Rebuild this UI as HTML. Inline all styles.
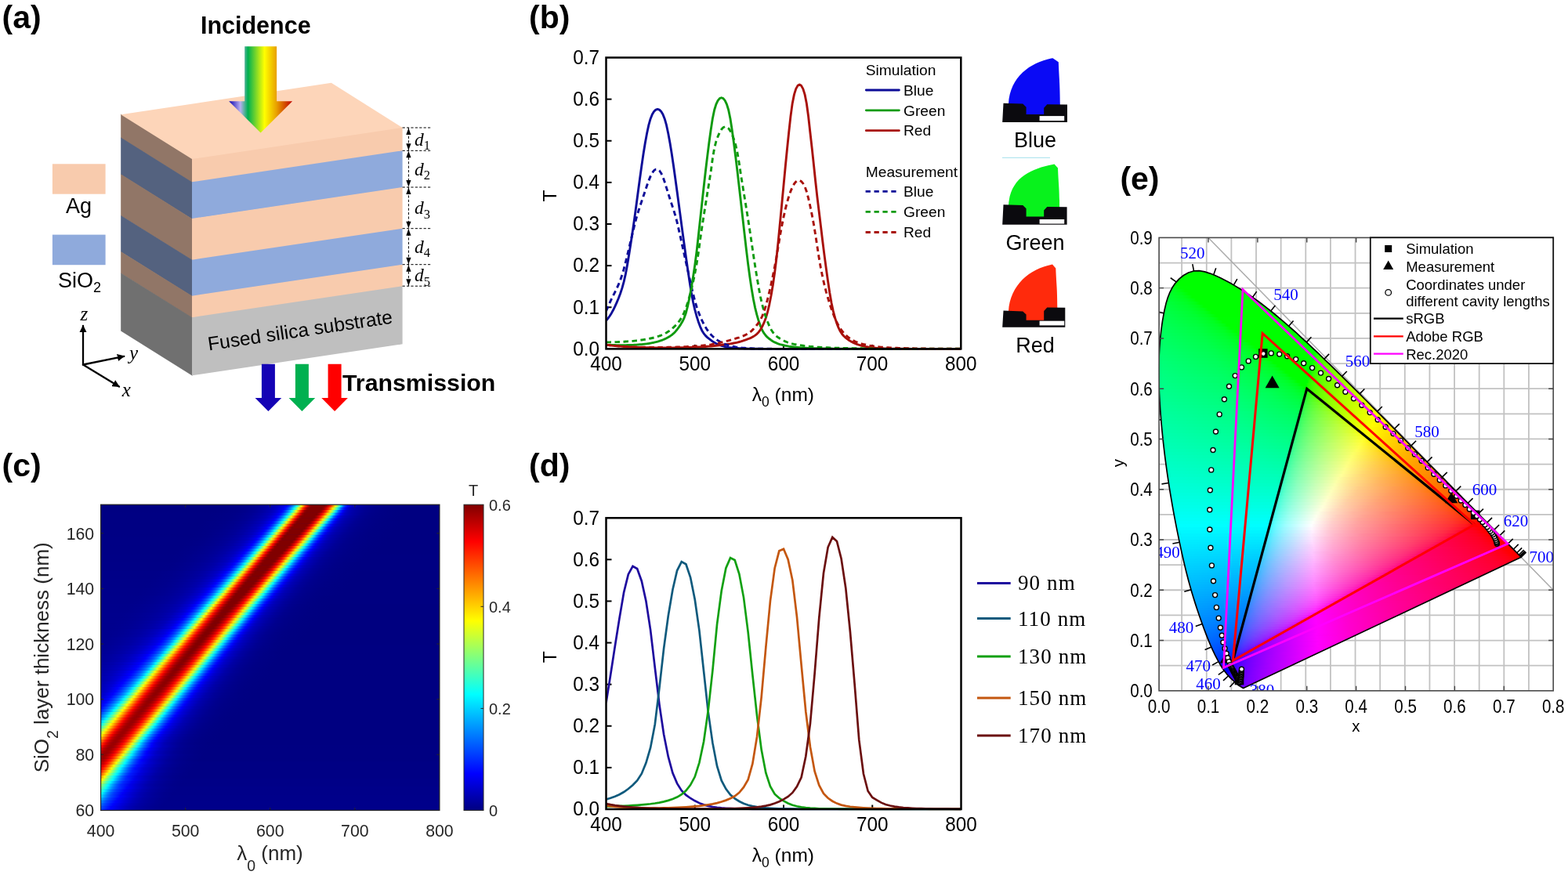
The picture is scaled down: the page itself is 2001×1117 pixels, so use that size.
<!DOCTYPE html>
<html lang="en"><head><meta charset="utf-8"><title>Figure</title>
<style>html,body{margin:0;padding:0;background:#fff;overflow:hidden}svg{display:block}text{white-space:pre}</style></head>
<body><svg width="2001" height="1117" viewBox="0 0 2001 1117">
<rect width="2001" height="1117" fill="#fff"/>
<g id="panel_a">
<polygon points="154.2,145.5 245.6,202.68 245.6,233.38 154.2,176.2" fill="#917667" stroke="none" stroke-width="0"/>
<polygon points="245,202.3 513.6,162.3 513.6,193 245,233" fill="#F8CBAD" stroke="none" stroke-width="0"/>
<polygon points="154.2,175.5 245.6,232.68 245.6,280.08 154.2,222.9" fill="#54627F" stroke="none" stroke-width="0"/>
<polygon points="245,232.3 513.6,192.3 513.6,239.7 245,279.7" fill="#8FAADC" stroke="none" stroke-width="0"/>
<polygon points="154.2,222.2 245.6,279.38 245.6,332.78 154.2,275.6" fill="#917667" stroke="none" stroke-width="0"/>
<polygon points="245,279 513.6,239 513.6,292.4 245,332.4" fill="#F8CBAD" stroke="none" stroke-width="0"/>
<polygon points="154.2,274.9 245.6,332.08 245.6,378.78 154.2,321.6" fill="#54627F" stroke="none" stroke-width="0"/>
<polygon points="245,331.7 513.6,291.7 513.6,338.4 245,378.4" fill="#8FAADC" stroke="none" stroke-width="0"/>
<polygon points="154.2,320.9 245.6,378.08 245.6,406.28 154.2,349.1" fill="#917667" stroke="none" stroke-width="0"/>
<polygon points="245,377.7 513.6,337.7 513.6,365.9 245,405.9" fill="#F8CBAD" stroke="none" stroke-width="0"/>
<polygon points="154.2,348.4 245.6,405.58 245.6,479.68 154.2,422.5" fill="#707070" stroke="none" stroke-width="0"/>
<polygon points="245,405.2 513.6,365.2 513.6,439.3 245,479.3" fill="#BFBFBF" stroke="none" stroke-width="0"/>
<polygon points="154.2,146.2 245,203 513.6,163 422.8,105.8" fill="#FDD5B9" stroke="none" stroke-width="0"/>
<rect x="66.9" y="209.3" width="67.7" height="38.4" fill="#F8CBAD" stroke="none" stroke-width="0"/>
<rect x="66.9" y="299.6" width="67.7" height="38.6" fill="#8FAADC" stroke="none" stroke-width="0"/>
<text x="100.5" y="271.5" font-family='"Liberation Sans", sans-serif' font-size="27" text-anchor="middle" font-weight="normal" font-style="normal" fill="#000">Ag</text>
<text x="74" y="366.5" font-family='"Liberation Sans", sans-serif' font-size="27" fill="#000">SiO<tspan font-size="18" dy="6">2</tspan></text>
<defs><linearGradient id="rb" gradientUnits="userSpaceOnUse" x1="292.2" y1="0" x2="373.1" y2="0"><stop offset="0" stop-color="#0A00B0"/><stop offset="0.18" stop-color="#B8B0F0"/><stop offset="0.30" stop-color="#00B050"/><stop offset="0.56" stop-color="#FFFF00"/><stop offset="0.75" stop-color="#E8A000"/><stop offset="1" stop-color="#C00000"/></linearGradient></defs>
<polygon points="312.2,59.3 353.1,59.3 353.1,129.2 373.1,129.2 332.6,169.4 292.2,129.2 312.2,129.2" fill="url(#rb)" stroke="none" stroke-width="0"/>
<text x="326.3" y="42.8" font-family='"Liberation Sans", sans-serif' font-size="30.5" text-anchor="middle" font-weight="bold" font-style="normal" fill="#000">Incidence</text>
<polygon points="333.9,464.8 350.9,464.8 350.9,508.1 359.2,508.1 342.4,524.9 325.6,508.1 333.9,508.1" fill="#1403B5" stroke="none" stroke-width="0"/>
<polygon points="376.9,464.8 393.9,464.8 393.9,508.1 402.2,508.1 385.4,524.9 368.6,508.1 376.9,508.1" fill="#00B050" stroke="none" stroke-width="0"/>
<polygon points="418.6,464.8 435.6,464.8 435.6,508.1 443.9,508.1 427.1,524.9 410.3,508.1 418.6,508.1" fill="#FF0000" stroke="none" stroke-width="0"/>
<text x="437" y="498.8" font-family='"Liberation Sans", sans-serif' font-size="30.3" text-anchor="start" font-weight="bold" font-style="normal" fill="#000">Transmission</text>
<text transform="translate(266.5,447.5) rotate(-8.47)" font-family='"Liberation Sans", sans-serif' font-size="24.6" fill="#000">Fused silica substrate</text>
<defs><marker id="ah" viewBox="0 0 10 10" refX="9" refY="5" markerWidth="4.1" markerHeight="4.1" orient="auto"><path d="M0 0 L10 5 L0 10 z" fill="#000"/></marker></defs>
<line x1="106" y1="465.5" x2="106" y2="416" stroke="#000" stroke-width="2.3" marker-end="url(#ah)" stroke-linecap="round"/>
<line x1="106" y1="465.5" x2="158.3" y2="454.8" stroke="#000" stroke-width="2.3" marker-end="url(#ah)" stroke-linecap="round"/>
<line x1="106" y1="465.5" x2="152" y2="493.6" stroke="#000" stroke-width="2.3" marker-end="url(#ah)" stroke-linecap="round"/>
<text x="107.3" y="409" font-family='"Liberation Serif", serif' font-size="25" text-anchor="middle" font-weight="normal" font-style="italic" fill="#000">z</text>
<text x="170.5" y="459" font-family='"Liberation Serif", serif' font-size="25" text-anchor="middle" font-weight="normal" font-style="italic" fill="#000">y</text>
<text x="161.2" y="506" font-family='"Liberation Serif", serif' font-size="25" text-anchor="middle" font-weight="normal" font-style="italic" fill="#000">x</text>
<line x1="513.6" y1="163" x2="550.8" y2="163" stroke="#000" stroke-width="1" stroke-dasharray="3.2 2.2"/>
<line x1="513.6" y1="192.3" x2="550.8" y2="192.3" stroke="#000" stroke-width="1" stroke-dasharray="3.2 2.2"/>
<line x1="513.6" y1="239" x2="550.8" y2="239" stroke="#000" stroke-width="1" stroke-dasharray="3.2 2.2"/>
<line x1="513.6" y1="291.7" x2="550.8" y2="291.7" stroke="#000" stroke-width="1" stroke-dasharray="3.2 2.2"/>
<line x1="513.6" y1="337.7" x2="550.8" y2="337.7" stroke="#000" stroke-width="1" stroke-dasharray="3.2 2.2"/>
<line x1="513.6" y1="365.2" x2="550.8" y2="365.2" stroke="#000" stroke-width="1" stroke-dasharray="3.2 2.2"/>
<line x1="521.4" y1="163" x2="521.4" y2="365.2" stroke="#000" stroke-width="1" stroke-dasharray="3.2 2.2"/>
<polygon points="521.4,163.5 518.3,172 524.5,172" fill="#000" stroke="none" stroke-width="0"/>
<polygon points="521.4,191.8 518.3,183.3 524.5,183.3" fill="#000" stroke="none" stroke-width="0"/>
<text x="529" y="185.65" font-family='"Liberation Serif", serif' font-size="23.5" font-style="italic" fill="#000">d<tspan font-size="16.5" dy="5.5" font-style="normal">1</tspan></text>
<polygon points="521.4,192.8 518.3,201.3 524.5,201.3" fill="#000" stroke="none" stroke-width="0"/>
<polygon points="521.4,238.5 518.3,230 524.5,230" fill="#000" stroke="none" stroke-width="0"/>
<text x="529" y="223.65" font-family='"Liberation Serif", serif' font-size="23.5" font-style="italic" fill="#000">d<tspan font-size="16.5" dy="5.5" font-style="normal">2</tspan></text>
<polygon points="521.4,239.5 518.3,248 524.5,248" fill="#000" stroke="none" stroke-width="0"/>
<polygon points="521.4,291.2 518.3,282.7 524.5,282.7" fill="#000" stroke="none" stroke-width="0"/>
<text x="529" y="273.35" font-family='"Liberation Serif", serif' font-size="23.5" font-style="italic" fill="#000">d<tspan font-size="16.5" dy="5.5" font-style="normal">3</tspan></text>
<polygon points="521.4,292.2 518.3,300.7 524.5,300.7" fill="#000" stroke="none" stroke-width="0"/>
<polygon points="521.4,337.2 518.3,328.7 524.5,328.7" fill="#000" stroke="none" stroke-width="0"/>
<text x="529" y="322.7" font-family='"Liberation Serif", serif' font-size="23.5" font-style="italic" fill="#000">d<tspan font-size="16.5" dy="5.5" font-style="normal">4</tspan></text>
<polygon points="521.4,338.2 518.3,346.7 524.5,346.7" fill="#000" stroke="none" stroke-width="0"/>
<polygon points="521.4,364.7 518.3,356.2 524.5,356.2" fill="#000" stroke="none" stroke-width="0"/>
<text x="529" y="359.45" font-family='"Liberation Serif", serif' font-size="23.5" font-style="italic" fill="#000">d<tspan font-size="16.5" dy="5.5" font-style="normal">5</tspan></text>
<text x="2.6" y="35.6" font-family='"Liberation Sans", sans-serif' font-size="41" text-anchor="start" font-weight="bold" font-style="normal" fill="#000">(a)</text>
</g>
<g id="panel_b">
<clipPath id="cb"><rect x="773.5" y="73.5" width="452.8" height="373.4"/></clipPath>
<line x1="773.5" y1="392.27" x2="780.5" y2="392.27" stroke="#000" stroke-width="2"/>
<line x1="773.5" y1="339.14" x2="780.5" y2="339.14" stroke="#000" stroke-width="2"/>
<line x1="773.5" y1="286.01" x2="780.5" y2="286.01" stroke="#000" stroke-width="2"/>
<line x1="773.5" y1="232.89" x2="780.5" y2="232.89" stroke="#000" stroke-width="2"/>
<line x1="773.5" y1="179.76" x2="780.5" y2="179.76" stroke="#000" stroke-width="2"/>
<line x1="773.5" y1="126.63" x2="780.5" y2="126.63" stroke="#000" stroke-width="2"/>
<line x1="886.7" y1="445.4" x2="886.7" y2="439.9" stroke="#000" stroke-width="2"/>
<line x1="999.9" y1="445.4" x2="999.9" y2="439.9" stroke="#000" stroke-width="2"/>
<line x1="1113.1" y1="445.4" x2="1113.1" y2="439.9" stroke="#000" stroke-width="2"/>
<g clip-path="url(#cb)" fill="none" stroke-width="2.9" stroke-linejoin="round">
<path d="M773.5 409.37 L775.76 406.62 L778.03 403.49 L780.29 399.92 L782.56 395.82 L784.82 391.11 L787.08 386.06 L789.35 380.72 L791.61 374.78 L793.88 367.9 L796.14 359.66 L798.4 349.62 L800.67 337.38 L802.93 323.72 L805.2 309.31 L807.46 294.26 L809.72 278.68 L811.99 262.03 L814.25 244.94 L816.52 228.2 L818.78 211.93 L821.04 196.56 L823.31 182.58 L825.57 170.28 L827.84 159.67 L830.1 151.71 L832.36 145.99 L834.63 142.28 L836.89 140.11 L839.16 139.38 L841.42 140.11 L843.68 142.28 L845.95 145.99 L848.21 151.71 L850.48 159.68 L852.74 170.28 L855 182.56 L857.27 196.46 L859.53 211.74 L861.8 227.93 L864.06 244.55 L866.32 261.29 L868.59 278.12 L870.85 295.07 L873.12 311.77 L875.38 327.99 L877.64 343.6 L879.91 358.84 L882.17 373.02 L884.44 385.27 L886.7 395.09 L888.96 403.45 L891.23 410.68 L893.49 416.86 L895.76 421.9 L898.02 425.61 L900.28 428.39 L902.55 430.59 L904.81 432.47 L907.08 434.21 L909.34 435.87 L911.6 437.3 L913.87 438.54 L916.13 439.59 L918.4 440.5 L920.66 441.27 L922.92 441.93 L925.19 442.5 L927.45 442.96 L929.72 443.35 L931.98 443.68 L934.24 443.95 L936.51 444.18 L938.77 444.38 L941.04 444.54 L943.3 444.68 L945.56 444.79 L947.83 444.89 L950.09 444.97 L952.36 445.04 L954.62 445.1 L956.88 445.14 L959.15 445.19 L961.41 445.22 L963.68 445.25 L965.94 445.27 L968.2 445.29 L970.47 445.31 L972.73 445.32 L975 445.33 L977.26 445.35 L979.52 445.35 L981.79 445.36 L984.05 445.37 L986.32 445.37 L988.58 445.38 L990.84 445.38 L993.11 445.38 L995.37 445.39 L997.64 445.39 L999.9 445.39 L1002.16 445.39 L1004.43 445.39 L1006.69 445.39 L1008.96 445.39 L1011.22 445.4 L1013.48 445.4 L1015.75 445.4 L1018.01 445.4 L1020.28 445.4 L1022.54 445.4 L1024.8 445.4 L1027.07 445.4 L1029.33 445.4 L1031.6 445.4 L1033.86 445.4 L1036.12 445.4 L1038.39 445.4 L1040.65 445.4 L1042.92 445.4 L1045.18 445.4 L1047.44 445.4 L1049.71 445.4 L1051.97 445.4 L1054.24 445.4 L1056.5 445.4 L1058.76 445.4 L1061.03 445.4 L1063.29 445.4 L1065.56 445.4 L1067.82 445.4 L1070.08 445.4 L1072.35 445.4 L1074.61 445.4 L1076.88 445.4 L1079.14 445.4 L1081.4 445.4 L1083.67 445.4 L1085.93 445.4 L1088.2 445.4 L1090.46 445.4 L1092.72 445.4 L1094.99 445.4 L1097.25 445.4 L1099.52 445.4 L1101.78 445.4 L1104.04 445.4 L1106.31 445.4 L1108.57 445.4 L1110.84 445.4 L1113.1 445.4 L1115.36 445.4 L1117.63 445.4 L1119.89 445.4 L1122.16 445.4 L1124.42 445.4 L1126.68 445.4 L1128.95 445.4 L1131.21 445.4 L1133.48 445.4 L1135.74 445.4 L1138 445.4 L1140.27 445.4 L1142.53 445.4 L1144.8 445.4 L1147.06 445.4 L1149.32 445.4 L1151.59 445.4 L1153.85 445.4 L1156.12 445.4 L1158.38 445.4 L1160.64 445.4 L1162.91 445.4 L1165.17 445.4 L1167.44 445.4 L1169.7 445.4 L1171.96 445.4 L1174.23 445.4 L1176.49 445.4 L1178.76 445.4 L1181.02 445.4 L1183.28 445.4 L1185.55 445.4 L1187.81 445.4 L1190.08 445.4 L1192.34 445.4 L1194.6 445.4 L1196.87 445.4 L1199.13 445.4 L1201.4 445.4 L1203.66 445.4 L1205.92 445.4 L1208.19 445.4 L1210.45 445.4 L1212.72 445.4 L1214.98 445.4 L1217.24 445.4 L1219.51 445.4 L1221.77 445.4 L1224.04 445.4 L1226.3 445.4" stroke="#0C0C98"/>
<path d="M773.5 440.3 L775.76 440.37 L778.03 440.43 L780.29 440.49 L782.56 440.53 L784.82 440.57 L787.08 440.6 L789.35 440.62 L791.61 440.63 L793.88 440.63 L796.14 440.61 L798.4 440.59 L800.67 440.55 L802.93 440.5 L805.2 440.43 L807.46 440.35 L809.72 440.25 L811.99 440.13 L814.25 439.98 L816.52 439.81 L818.78 439.62 L821.04 439.39 L823.31 439.13 L825.57 438.83 L827.84 438.5 L830.1 438.12 L832.36 437.69 L834.63 437.21 L836.89 436.67 L839.16 436.06 L841.42 435.38 L843.68 434.61 L845.95 433.77 L848.21 432.83 L850.48 431.77 L852.74 430.57 L855 429.18 L857.27 427.56 L859.53 425.67 L861.8 423.43 L864.06 420.76 L866.32 417.63 L868.59 414.31 L870.85 410.53 L873.12 405.78 L875.38 399.41 L877.64 390.61 L879.91 379.84 L882.17 367.66 L884.44 354.06 L886.7 339.08 L888.96 321.77 L891.23 301.45 L893.49 280.65 L895.76 260.06 L898.02 239.53 L900.28 219.51 L902.55 200.55 L904.81 182.79 L907.08 166.29 L909.34 151.5 L911.6 140.51 L913.87 133.1 L916.13 128.34 L918.4 125.67 L920.66 124.77 L922.92 125.67 L925.19 128.34 L927.45 133.1 L929.72 140.51 L931.98 151.52 L934.24 166.31 L936.51 182.71 L938.77 200.33 L941.04 219.08 L943.3 238.71 L945.56 258.61 L947.83 278.54 L950.09 298.59 L952.36 318.37 L954.62 336.81 L956.88 353.6 L959.15 368.83 L961.41 382.08 L963.68 393.09 L965.94 402.2 L968.2 409.83 L970.47 416.22 L972.73 421.48 L975 425.41 L977.26 428.36 L979.52 430.65 L981.79 432.54 L984.05 434.19 L986.32 435.67 L988.58 436.91 L990.84 437.94 L993.11 438.8 L995.37 439.53 L997.64 440.14 L999.9 440.73 L1002.16 441.25 L1004.43 441.7 L1006.69 442.1 L1008.96 442.45 L1011.22 442.76 L1013.48 443.03 L1015.75 443.27 L1018.01 443.48 L1020.28 443.67 L1022.54 443.84 L1024.8 443.99 L1027.07 444.12 L1029.33 444.24 L1031.6 444.35 L1033.86 444.44 L1036.12 444.52 L1038.39 444.6 L1040.65 444.67 L1042.92 444.73 L1045.18 444.79 L1047.44 444.84 L1049.71 444.88 L1051.97 444.92 L1054.24 444.96 L1056.5 445 L1058.76 445.03 L1061.03 445.05 L1063.29 445.08 L1065.56 445.1 L1067.82 445.12 L1070.08 445.14 L1072.35 445.16 L1074.61 445.18 L1076.88 445.19 L1079.14 445.21 L1081.4 445.22 L1083.67 445.23 L1085.93 445.24 L1088.2 445.25 L1090.46 445.26 L1092.72 445.27 L1094.99 445.28 L1097.25 445.29 L1099.52 445.29 L1101.78 445.3 L1104.04 445.3 L1106.31 445.31 L1108.57 445.31 L1110.84 445.32 L1113.1 445.32 L1115.36 445.33 L1117.63 445.33 L1119.89 445.34 L1122.16 445.34 L1124.42 445.34 L1126.68 445.34 L1128.95 445.35 L1131.21 445.35 L1133.48 445.35 L1135.74 445.35 L1138 445.36 L1140.27 445.36 L1142.53 445.36 L1144.8 445.36 L1147.06 445.36 L1149.32 445.37 L1151.59 445.37 L1153.85 445.37 L1156.12 445.37 L1158.38 445.37 L1160.64 445.37 L1162.91 445.37 L1165.17 445.37 L1167.44 445.38 L1169.7 445.38 L1171.96 445.38 L1174.23 445.38 L1176.49 445.38 L1178.76 445.38 L1181.02 445.38 L1183.28 445.38 L1185.55 445.38 L1187.81 445.38 L1190.08 445.38 L1192.34 445.38 L1194.6 445.38 L1196.87 445.39 L1199.13 445.39 L1201.4 445.39 L1203.66 445.39 L1205.92 445.39 L1208.19 445.39 L1210.45 445.39 L1212.72 445.39 L1214.98 445.39 L1217.24 445.39 L1219.51 445.39 L1221.77 445.39 L1224.04 445.39 L1226.3 445.39" stroke="#0E9A0E"/>
<path d="M773.5 440.26 L775.76 440.56 L778.03 440.84 L780.29 441.1 L782.56 441.35 L784.82 441.57 L787.08 441.78 L789.35 441.98 L791.61 442.16 L793.88 442.33 L796.14 442.49 L798.4 442.63 L800.67 442.77 L802.93 442.89 L805.2 443.01 L807.46 443.12 L809.72 443.21 L811.99 443.3 L814.25 443.39 L816.52 443.46 L818.78 443.53 L821.04 443.59 L823.31 443.65 L825.57 443.7 L827.84 443.74 L830.1 443.78 L832.36 443.81 L834.63 443.84 L836.89 443.87 L839.16 443.89 L841.42 443.9 L843.68 443.91 L845.95 443.92 L848.21 443.92 L850.48 443.91 L852.74 443.91 L855 443.89 L857.27 443.88 L859.53 443.86 L861.8 443.83 L864.06 443.8 L866.32 443.77 L868.59 443.73 L870.85 443.68 L873.12 443.63 L875.38 443.58 L877.64 443.52 L879.91 443.45 L882.17 443.38 L884.44 443.3 L886.7 443.21 L888.96 443.11 L891.23 443 L893.49 442.89 L895.76 442.76 L898.02 442.63 L900.28 442.48 L902.55 442.32 L904.81 442.15 L907.08 441.95 L909.34 441.75 L911.6 441.52 L913.87 441.27 L916.13 441 L918.4 440.71 L920.66 440.38 L922.92 440.03 L925.19 439.77 L927.45 439.48 L929.72 439.17 L931.98 438.83 L934.24 438.45 L936.51 438.03 L938.77 437.56 L941.04 437.05 L943.3 436.48 L945.56 435.84 L947.83 435.13 L950.09 434.35 L952.36 433.56 L954.62 432.73 L956.88 431.84 L959.15 430.83 L961.41 429.63 L963.68 428.15 L965.94 426.29 L968.2 423.9 L970.47 420.78 L972.73 416.77 L975 411.93 L977.26 405.96 L979.52 398.41 L981.79 388.8 L984.05 377.33 L986.32 363.94 L988.58 348.34 L990.84 330.21 L993.11 308.53 L995.37 285.11 L997.64 261.54 L999.9 237.6 L1002.16 213.76 L1004.43 190.74 L1006.69 169.02 L1008.96 148.35 L1011.22 131.92 L1013.48 120.62 L1015.75 113.35 L1018.01 109.36 L1020.28 108.03 L1022.54 109.37 L1024.8 113.35 L1027.07 120.62 L1029.33 131.93 L1031.6 148.51 L1033.86 168.77 L1036.12 188.63 L1038.39 209.64 L1040.65 231.24 L1042.92 251.65 L1045.18 270 L1047.44 288.55 L1049.71 307.48 L1051.97 325.44 L1054.24 342.36 L1056.5 358.55 L1058.76 373.54 L1061.03 386.56 L1063.29 397.15 L1065.56 405.7 L1067.82 412.67 L1070.08 418.43 L1072.35 423.03 L1074.61 426.43 L1076.88 429.02 L1079.14 431.09 L1081.4 432.84 L1083.67 434.44 L1085.93 435.88 L1088.2 437.08 L1090.46 438.12 L1092.72 439.03 L1094.99 439.86 L1097.25 440.61 L1099.52 441.27 L1101.78 441.85 L1104.04 442.35 L1106.31 442.79 L1108.57 443.18 L1110.84 443.51 L1113.1 443.81 L1115.36 444.03 L1117.63 444.23 L1119.89 444.39 L1122.16 444.53 L1124.42 444.65 L1126.68 444.75 L1128.95 444.84 L1131.21 444.92 L1133.48 444.98 L1135.74 445.04 L1138 445.09 L1140.27 445.13 L1142.53 445.16 L1144.8 445.19 L1147.06 445.22 L1149.32 445.24 L1151.59 445.26 L1153.85 445.28 L1156.12 445.3 L1158.38 445.31 L1160.64 445.32 L1162.91 445.33 L1165.17 445.34 L1167.44 445.35 L1169.7 445.35 L1171.96 445.36 L1174.23 445.36 L1176.49 445.37 L1178.76 445.37 L1181.02 445.37 L1183.28 445.38 L1185.55 445.38 L1187.81 445.38 L1190.08 445.38 L1192.34 445.39 L1194.6 445.39 L1196.87 445.39 L1199.13 445.39 L1201.4 445.39 L1203.66 445.39 L1205.92 445.39 L1208.19 445.39 L1210.45 445.39 L1212.72 445.39 L1214.98 445.4 L1217.24 445.4 L1219.51 445.4 L1221.77 445.4 L1224.04 445.4 L1226.3 445.4" stroke="#A8100A"/>
<path d="M773.5 397.16 L775.76 391.87 L778.03 386.63 L780.29 381.81 L782.56 377.26 L784.82 372.78 L787.08 368.17 L789.35 363.19 L791.61 357.58 L793.88 351.08 L796.14 343.45 L798.4 334.64 L800.67 325.39 L802.93 315.94 L805.2 306.39 L807.46 296.85 L809.72 287.42 L811.99 278.64 L814.25 270.96 L816.52 263.93 L818.78 257.18 L821.04 250.49 L823.31 243.74 L825.57 237.01 L827.84 230.6 L830.1 225.09 L832.36 220.67 L834.63 217.62 L836.89 216.08 L839.16 216.09 L841.42 217.73 L843.68 220.98 L845.95 225.88 L848.21 232.35 L850.48 239.62 L852.74 246.95 L855 254.03 L857.27 260.86 L859.53 267.74 L861.8 275.12 L864.06 283.65 L866.32 293.56 L868.59 303.76 L870.85 314.09 L873.12 324.42 L875.38 334.65 L877.64 344.75 L879.91 355.03 L882.17 365.21 L884.44 374.9 L886.7 383.75 L888.96 391.44 L891.23 398 L893.49 403.8 L895.76 408.93 L898.02 413.49 L900.28 417.55 L902.55 421.15 L904.81 424.25 L907.08 426.91 L909.34 429.22 L911.6 431.24 L913.87 433.03 L916.13 434.63 L918.4 436.06 L920.66 437.31 L922.92 438.4 L925.19 439.35 L927.45 440.18 L929.72 440.9 L931.98 441.52 L934.24 442.07 L936.51 442.53 L938.77 442.94 L941.04 443.29 L943.3 443.59 L945.56 443.85 L947.83 444.07 L950.09 444.27 L952.36 444.43 L954.62 444.57 L956.88 444.69 L959.15 444.8 L961.41 444.89 L963.68 444.96 L965.94 445.03 L968.2 445.08 L970.47 445.13 L972.73 445.17 L975 445.2 L977.26 445.23 L979.52 445.26 L981.79 445.28 L984.05 445.3 L986.32 445.31 L988.58 445.33 L990.84 445.34 L993.11 445.35 L995.37 445.35 L997.64 445.36 L999.9 445.37 L1002.16 445.37 L1004.43 445.38 L1006.69 445.38 L1008.96 445.38 L1011.22 445.39 L1013.48 445.39 L1015.75 445.39 L1018.01 445.39 L1020.28 445.39 L1022.54 445.39 L1024.8 445.39 L1027.07 445.4 L1029.33 445.4 L1031.6 445.4 L1033.86 445.4 L1036.12 445.4 L1038.39 445.4 L1040.65 445.4 L1042.92 445.4 L1045.18 445.4 L1047.44 445.4 L1049.71 445.4 L1051.97 445.4 L1054.24 445.4 L1056.5 445.4 L1058.76 445.4 L1061.03 445.4 L1063.29 445.4 L1065.56 445.4 L1067.82 445.4 L1070.08 445.4 L1072.35 445.4 L1074.61 445.4 L1076.88 445.4 L1079.14 445.4 L1081.4 445.4 L1083.67 445.4 L1085.93 445.4 L1088.2 445.4 L1090.46 445.4 L1092.72 445.4 L1094.99 445.4 L1097.25 445.4 L1099.52 445.4 L1101.78 445.4 L1104.04 445.4 L1106.31 445.4 L1108.57 445.4 L1110.84 445.4 L1113.1 445.4 L1115.36 445.4 L1117.63 445.4 L1119.89 445.4 L1122.16 445.4 L1124.42 445.4 L1126.68 445.4 L1128.95 445.4 L1131.21 445.4 L1133.48 445.4 L1135.74 445.4 L1138 445.4 L1140.27 445.4 L1142.53 445.4 L1144.8 445.4 L1147.06 445.4 L1149.32 445.4 L1151.59 445.4 L1153.85 445.4 L1156.12 445.4 L1158.38 445.4 L1160.64 445.4 L1162.91 445.4 L1165.17 445.4 L1167.44 445.4 L1169.7 445.4 L1171.96 445.4 L1174.23 445.4 L1176.49 445.4 L1178.76 445.4 L1181.02 445.4 L1183.28 445.4 L1185.55 445.4 L1187.81 445.4 L1190.08 445.4 L1192.34 445.4 L1194.6 445.4 L1196.87 445.4 L1199.13 445.4 L1201.4 445.4 L1203.66 445.4 L1205.92 445.4 L1208.19 445.4 L1210.45 445.4 L1212.72 445.4 L1214.98 445.4 L1217.24 445.4 L1219.51 445.4 L1221.77 445.4 L1224.04 445.4 L1226.3 445.4" stroke="#0C0C98" stroke-dasharray="6.5 4.5"/>
<path d="M773.5 436.9 L775.76 436.87 L778.03 436.83 L780.29 436.78 L782.56 436.73 L784.82 436.66 L787.08 436.59 L789.35 436.51 L791.61 436.41 L793.88 436.3 L796.14 436.18 L798.4 436.05 L800.67 435.9 L802.93 435.73 L805.2 435.55 L807.46 435.34 L809.72 435.11 L811.99 434.86 L814.25 434.58 L816.52 434.29 L818.78 433.97 L821.04 433.64 L823.31 433.29 L825.57 432.9 L827.84 432.48 L830.1 432.02 L832.36 431.52 L834.63 430.97 L836.89 430.35 L839.16 429.66 L841.42 428.9 L843.68 428.04 L845.95 427.07 L848.21 425.98 L850.48 424.75 L852.74 423.35 L855 421.76 L857.27 419.95 L859.53 417.9 L861.8 415.7 L864.06 413.29 L866.32 410.55 L868.59 407.34 L870.85 403.49 L873.12 398.78 L875.38 392.98 L877.64 386.13 L879.91 378.49 L882.17 369.93 L884.44 360.3 L886.7 349.47 L888.96 337.36 L891.23 322.91 L893.49 306.4 L895.76 290.52 L898.02 276.03 L900.28 261.67 L902.55 247.52 L904.81 233.72 L907.08 219.45 L909.34 202.77 L911.6 189.28 L913.87 180.51 L916.13 174.17 L918.4 169.06 L920.66 165.25 L922.92 162.79 L925.19 161.74 L927.45 162.1 L929.72 163.9 L931.98 167.11 L934.24 171.69 L936.51 177.56 L938.77 184.93 L941.04 195.19 L943.3 208.6 L945.56 223.76 L947.83 237.67 L950.09 251.45 L952.36 265.5 L954.62 279.76 L956.88 294.35 L959.15 309.69 L961.41 325.17 L963.68 339.9 L965.94 353.92 L968.2 367.14 L970.47 379.02 L972.73 389.12 L975 397.42 L977.26 404.58 L979.52 410.77 L981.79 416.11 L984.05 420.67 L986.32 424.22 L988.58 426.96 L990.84 429.1 L993.11 430.83 L995.37 432.29 L997.64 433.58 L999.9 434.78 L1002.16 435.86 L1004.43 436.78 L1006.69 437.57 L1008.96 438.25 L1011.22 438.83 L1013.48 439.33 L1015.75 439.77 L1018.01 440.15 L1020.28 440.56 L1022.54 440.93 L1024.8 441.27 L1027.07 441.57 L1029.33 441.85 L1031.6 442.11 L1033.86 442.34 L1036.12 442.55 L1038.39 442.74 L1040.65 442.92 L1042.92 443.08 L1045.18 443.23 L1047.44 443.37 L1049.71 443.49 L1051.97 443.61 L1054.24 443.72 L1056.5 443.82 L1058.76 443.91 L1061.03 444 L1063.29 444.08 L1065.56 444.15 L1067.82 444.22 L1070.08 444.28 L1072.35 444.34 L1074.61 444.39 L1076.88 444.45 L1079.14 444.49 L1081.4 444.54 L1083.67 444.58 L1085.93 444.62 L1088.2 444.66 L1090.46 444.69 L1092.72 444.72 L1094.99 444.75 L1097.25 444.78 L1099.52 444.81 L1101.78 444.84 L1104.04 444.86 L1106.31 444.88 L1108.57 444.9 L1110.84 444.92 L1113.1 444.94 L1115.36 444.96 L1117.63 444.98 L1119.89 444.99 L1122.16 445.01 L1124.42 445.02 L1126.68 445.04 L1128.95 445.05 L1131.21 445.06 L1133.48 445.08 L1135.74 445.09 L1138 445.1 L1140.27 445.11 L1142.53 445.12 L1144.8 445.13 L1147.06 445.14 L1149.32 445.14 L1151.59 445.15 L1153.85 445.16 L1156.12 445.17 L1158.38 445.17 L1160.64 445.18 L1162.91 445.19 L1165.17 445.19 L1167.44 445.2 L1169.7 445.21 L1171.96 445.21 L1174.23 445.22 L1176.49 445.22 L1178.76 445.23 L1181.02 445.23 L1183.28 445.24 L1185.55 445.24 L1187.81 445.24 L1190.08 445.25 L1192.34 445.25 L1194.6 445.26 L1196.87 445.26 L1199.13 445.26 L1201.4 445.27 L1203.66 445.27 L1205.92 445.27 L1208.19 445.28 L1210.45 445.28 L1212.72 445.28 L1214.98 445.28 L1217.24 445.29 L1219.51 445.29 L1221.77 445.29 L1224.04 445.29 L1226.3 445.3" stroke="#0E9A0E" stroke-dasharray="6.5 4.5"/>
<path d="M773.5 440.12 L775.76 440.42 L778.03 440.69 L780.29 440.95 L782.56 441.18 L784.82 441.4 L787.08 441.61 L789.35 441.8 L791.61 441.97 L793.88 442.14 L796.14 442.28 L798.4 442.42 L800.67 442.55 L802.93 442.67 L805.2 442.77 L807.46 442.87 L809.72 442.96 L811.99 443.04 L814.25 443.11 L816.52 443.17 L818.78 443.23 L821.04 443.28 L823.31 443.32 L825.57 443.35 L827.84 443.38 L830.1 443.41 L832.36 443.42 L834.63 443.43 L836.89 443.44 L839.16 443.44 L841.42 443.43 L843.68 443.42 L845.95 443.4 L848.21 443.38 L850.48 443.35 L852.74 443.32 L855 443.28 L857.27 443.23 L859.53 443.18 L861.8 443.12 L864.06 443.05 L866.32 442.98 L868.59 442.9 L870.85 442.81 L873.12 442.71 L875.38 442.61 L877.64 442.5 L879.91 442.37 L882.17 442.24 L884.44 442.1 L886.7 441.94 L888.96 441.77 L891.23 441.59 L893.49 441.39 L895.76 441.18 L898.02 440.95 L900.28 440.7 L902.55 440.43 L904.81 440.14 L907.08 439.81 L909.34 439.43 L911.6 439.03 L913.87 438.6 L916.13 438.15 L918.4 437.67 L920.66 437.16 L922.92 436.62 L925.19 436.05 L927.45 435.44 L929.72 434.79 L931.98 434.13 L934.24 433.48 L936.51 432.82 L938.77 432.16 L941.04 431.48 L943.3 430.76 L945.56 429.97 L947.83 429.11 L950.09 428.14 L952.36 427.02 L954.62 425.71 L956.88 424.17 L959.15 422.34 L961.41 420.13 L963.68 417.53 L965.94 414.77 L968.2 411.72 L970.47 408.1 L972.73 403.63 L975 397.92 L977.26 390.59 L979.52 382.1 L981.79 372.79 L984.05 362.72 L986.32 351.99 L988.58 340.71 L990.84 328.48 L993.11 314.85 L995.37 301.23 L997.64 288.71 L999.9 277.55 L1002.16 267.36 L1004.43 258.36 L1006.69 250.65 L1008.96 244.18 L1011.22 238.86 L1013.48 234.77 L1015.75 231.96 L1018.01 230.47 L1020.28 230.33 L1022.54 231.56 L1024.8 234.11 L1027.07 238.22 L1029.33 244.47 L1031.6 253.04 L1033.86 262.97 L1036.12 273.88 L1038.39 285.98 L1040.65 299.7 L1042.92 314.64 L1045.18 329.37 L1047.44 342.19 L1049.71 353.42 L1051.97 363.4 L1054.24 372.28 L1056.5 380.28 L1058.76 387.62 L1061.03 394.49 L1063.29 400.75 L1065.56 406.34 L1067.82 411.28 L1070.08 415.59 L1072.35 419.33 L1074.61 422.52 L1076.88 425.25 L1079.14 427.6 L1081.4 429.62 L1083.67 431.38 L1085.93 432.91 L1088.2 434.27 L1090.46 435.46 L1092.72 436.5 L1094.99 437.4 L1097.25 438.19 L1099.52 438.88 L1101.78 439.49 L1104.04 440.02 L1106.31 440.52 L1108.57 440.97 L1110.84 441.37 L1113.1 441.74 L1115.36 442.06 L1117.63 442.36 L1119.89 442.62 L1122.16 442.86 L1124.42 443.07 L1126.68 443.26 L1128.95 443.44 L1131.21 443.6 L1133.48 443.74 L1135.74 443.87 L1138 443.99 L1140.27 444.1 L1142.53 444.2 L1144.8 444.29 L1147.06 444.37 L1149.32 444.44 L1151.59 444.51 L1153.85 444.57 L1156.12 444.63 L1158.38 444.68 L1160.64 444.73 L1162.91 444.78 L1165.17 444.82 L1167.44 444.86 L1169.7 444.89 L1171.96 444.92 L1174.23 444.95 L1176.49 444.98 L1178.76 445.01 L1181.02 445.03 L1183.28 445.05 L1185.55 445.07 L1187.81 445.09 L1190.08 445.11 L1192.34 445.13 L1194.6 445.14 L1196.87 445.15 L1199.13 445.17 L1201.4 445.18 L1203.66 445.19 L1205.92 445.2 L1208.19 445.21 L1210.45 445.22 L1212.72 445.23 L1214.98 445.24 L1217.24 445.25 L1219.51 445.25 L1221.77 445.26 L1224.04 445.27 L1226.3 445.27" stroke="#A8100A" stroke-dasharray="6.5 4.5"/>
</g>
<rect x="773.5" y="73.5" width="452.8" height="371.9" fill="none" stroke="#000" stroke-width="2.5"/>
<text transform="translate(765,453.7) scale(1,1.04)" font-family='"Liberation Sans", sans-serif' font-size="24.3" text-anchor="end" font-weight="normal" font-style="normal" fill="#000">0.0</text>
<text transform="translate(765,400.57) scale(1,1.04)" font-family='"Liberation Sans", sans-serif' font-size="24.3" text-anchor="end" font-weight="normal" font-style="normal" fill="#000">0.1</text>
<text transform="translate(765,347.44) scale(1,1.04)" font-family='"Liberation Sans", sans-serif' font-size="24.3" text-anchor="end" font-weight="normal" font-style="normal" fill="#000">0.2</text>
<text transform="translate(765,294.31) scale(1,1.04)" font-family='"Liberation Sans", sans-serif' font-size="24.3" text-anchor="end" font-weight="normal" font-style="normal" fill="#000">0.3</text>
<text transform="translate(765,241.19) scale(1,1.04)" font-family='"Liberation Sans", sans-serif' font-size="24.3" text-anchor="end" font-weight="normal" font-style="normal" fill="#000">0.4</text>
<text transform="translate(765,188.06) scale(1,1.04)" font-family='"Liberation Sans", sans-serif' font-size="24.3" text-anchor="end" font-weight="normal" font-style="normal" fill="#000">0.5</text>
<text transform="translate(765,134.93) scale(1,1.04)" font-family='"Liberation Sans", sans-serif' font-size="24.3" text-anchor="end" font-weight="normal" font-style="normal" fill="#000">0.6</text>
<text transform="translate(765,81.8) scale(1,1.04)" font-family='"Liberation Sans", sans-serif' font-size="24.3" text-anchor="end" font-weight="normal" font-style="normal" fill="#000">0.7</text>
<text transform="translate(773.5,473.3) scale(1,1.04)" font-family='"Liberation Sans", sans-serif' font-size="24.3" text-anchor="middle" font-weight="normal" font-style="normal" fill="#000">400</text>
<text transform="translate(886.7,473.3) scale(1,1.04)" font-family='"Liberation Sans", sans-serif' font-size="24.3" text-anchor="middle" font-weight="normal" font-style="normal" fill="#000">500</text>
<text transform="translate(999.9,473.3) scale(1,1.04)" font-family='"Liberation Sans", sans-serif' font-size="24.3" text-anchor="middle" font-weight="normal" font-style="normal" fill="#000">600</text>
<text transform="translate(1113.1,473.3) scale(1,1.04)" font-family='"Liberation Sans", sans-serif' font-size="24.3" text-anchor="middle" font-weight="normal" font-style="normal" fill="#000">700</text>
<text transform="translate(1226.3,473.3) scale(1,1.04)" font-family='"Liberation Sans", sans-serif' font-size="24.3" text-anchor="middle" font-weight="normal" font-style="normal" fill="#000">800</text>
<text transform="translate(710.1,250.1) rotate(-90)" font-family='"Liberation Sans", sans-serif' font-size="24.5" text-anchor="middle">T</text>
<text x="999.4" y="511.5" font-family='"Liberation Sans", sans-serif' font-size="24.5" text-anchor="middle">λ<tspan font-size="17.5" dy="7">0</tspan><tspan dy="-7"> (nm)</tspan></text>
<text x="1104.8" y="96" font-family='"Liberation Sans", sans-serif' font-size="19.2" text-anchor="start" font-weight="normal" font-style="normal" fill="#000">Simulation</text>
<text x="1104.8" y="225.6" font-family='"Liberation Sans", sans-serif' font-size="19.2" text-anchor="start" font-weight="normal" font-style="normal" fill="#000">Measurement</text>
<line x1="1105.3" y1="115" x2="1147.4" y2="115" stroke="#0C0C98" stroke-width="2.8" stroke-linecap="round"/>
<text x="1153" y="121.7" font-family='"Liberation Sans", sans-serif' font-size="19.2" text-anchor="start" font-weight="normal" font-style="normal" fill="#000">Blue</text>
<line x1="1104.6" y1="244.4" x2="1146" y2="244.4" stroke="#0C0C98" stroke-width="2.8" stroke-dasharray="6.3 4.6"/>
<text x="1153" y="251.1" font-family='"Liberation Sans", sans-serif' font-size="19.2" text-anchor="start" font-weight="normal" font-style="normal" fill="#000">Blue</text>
<line x1="1105.3" y1="140.85" x2="1147.4" y2="140.85" stroke="#0E9A0E" stroke-width="2.8" stroke-linecap="round"/>
<text x="1153" y="147.55" font-family='"Liberation Sans", sans-serif' font-size="19.2" text-anchor="start" font-weight="normal" font-style="normal" fill="#000">Green</text>
<line x1="1104.6" y1="270.45" x2="1146" y2="270.45" stroke="#0E9A0E" stroke-width="2.8" stroke-dasharray="6.3 4.6"/>
<text x="1153" y="277.15" font-family='"Liberation Sans", sans-serif' font-size="19.2" text-anchor="start" font-weight="normal" font-style="normal" fill="#000">Green</text>
<line x1="1105.3" y1="166.7" x2="1147.4" y2="166.7" stroke="#A8100A" stroke-width="2.8" stroke-linecap="round"/>
<text x="1153" y="173.4" font-family='"Liberation Sans", sans-serif' font-size="19.2" text-anchor="start" font-weight="normal" font-style="normal" fill="#000">Red</text>
<line x1="1104.6" y1="296.5" x2="1146" y2="296.5" stroke="#A8100A" stroke-width="2.8" stroke-dasharray="6.3 4.6"/>
<text x="1153" y="303.2" font-family='"Liberation Sans", sans-serif' font-size="19.2" text-anchor="start" font-weight="normal" font-style="normal" fill="#000">Red</text>
<path d="M1287 132.7 C1289 97.7 1315 80.2 1341.5 74.6 L1343.5 74.2 L1350.8 79.2 C1351.8 104.2 1352.6 103.3 1352.9 135.3 L1336 135.3 L1336 147 L1309 147 Z" fill="#0A0AF5"/><path d="M1280.5 131.7 L1305.3 132.5 L1309.6 136.7 L1309.6 146 L1332.2 146 L1332.2 137.8 L1336.3 133.3 L1362 133.6 L1362 155.9 L1279.2 155.9 Z" fill="#0b0a0e"/><rect x="1326.6" y="148.1" width="31.6" height="6" fill="#fff" stroke="none" stroke-width="0"/>
<path d="M1287 262.2 C1289 227.2 1315 215.5 1343.5 209.9 L1345.5 209.5 L1350 214.5 C1351 239.5 1351.8 233.9 1352.1 265.9 L1336 265.9 L1336 277.6 L1309 277.6 Z" fill="#08F21C"/><path d="M1280.5 261.2 L1305.3 262 L1309.6 266.2 L1309.6 276.6 L1332.2 276.6 L1332.2 268.4 L1336.3 263.9 L1361.6 264.2 L1361.6 286.7 L1279.2 286.7 Z" fill="#0b0a0e"/><rect x="1326.6" y="280" width="31.6" height="5.6" fill="#fff" stroke="none" stroke-width="0"/>
<path d="M1287 397.6 C1289 362.6 1315 343.5 1341 337.9 L1343 337.5 L1347.3 342.5 C1348.3 367.5 1349.1 362.5 1349.4 394.5 L1336 394.5 L1336 409.7 L1309 409.7 Z" fill="#FF2A0C"/><path d="M1280.5 396.6 L1305.3 397.4 L1309.6 401.6 L1309.6 408.7 L1332.2 408.7 L1332.2 397 L1336.3 392.5 L1359.3 392.8 L1359.3 417.8 L1279.2 417.8 Z" fill="#0b0a0e"/><rect x="1326.6" y="409.7" width="31.6" height="5.7" fill="#fff" stroke="none" stroke-width="0"/>
<line x1="1279" y1="201.4" x2="1340" y2="201.4" stroke="#B5E6F0" stroke-width="1.2"/>
<text x="1321" y="188" font-family='"Liberation Sans", sans-serif' font-size="27" text-anchor="middle" font-weight="normal" font-style="normal" fill="#000">Blue</text>
<text x="1321" y="319" font-family='"Liberation Sans", sans-serif' font-size="27" text-anchor="middle" font-weight="normal" font-style="normal" fill="#000">Green</text>
<text x="1321" y="450.3" font-family='"Liberation Sans", sans-serif' font-size="27" text-anchor="middle" font-weight="normal" font-style="normal" fill="#000">Red</text>
<text x="675.1" y="35.6" font-family='"Liberation Sans", sans-serif' font-size="41" text-anchor="start" font-weight="bold" font-style="normal" fill="#000">(b)</text>
</g>
<g id="panel_c">
<clipPath id="cc"><rect x="128.6" y="644.2" width="432.3" height="390.3"/></clipPath>
<rect x="128.6" y="644.2" width="432.3" height="390.3" fill="#000080" stroke="none" stroke-width="0"/>
<defs>
<linearGradient id="h0" gradientUnits="userSpaceOnUse" x1="-56.21" y1="0" x2="203.17" y2="0"><stop offset="0" stop-color="#000080"/><stop offset="0.0417" stop-color="#000080"/><stop offset="0.0833" stop-color="#000081"/><stop offset="0.125" stop-color="#000084"/><stop offset="0.1667" stop-color="#00008B"/><stop offset="0.2083" stop-color="#00009D"/><stop offset="0.25" stop-color="#0000C3"/><stop offset="0.2917" stop-color="#0010FF"/><stop offset="0.3021" stop-color="#002BFF"/><stop offset="0.3125" stop-color="#0049FF"/><stop offset="0.3229" stop-color="#006CFF"/><stop offset="0.3333" stop-color="#0093FF"/><stop offset="0.3438" stop-color="#00BEFF"/><stop offset="0.3542" stop-color="#00ECFF"/><stop offset="0.3646" stop-color="#20FFDF"/><stop offset="0.375" stop-color="#56FFA9"/><stop offset="0.3854" stop-color="#8FFF70"/><stop offset="0.3958" stop-color="#CAFF35"/><stop offset="0.4062" stop-color="#FFFA00"/><stop offset="0.4167" stop-color="#FFC000"/><stop offset="0.4271" stop-color="#FF8700"/><stop offset="0.4375" stop-color="#FF4E00"/><stop offset="0.4479" stop-color="#FF1900"/><stop offset="0.4583" stop-color="#EB0000"/><stop offset="0.4688" stop-color="#C70000"/><stop offset="0.4792" stop-color="#AE0000"/><stop offset="0.4896" stop-color="#9E0000"/><stop offset="0.5" stop-color="#990000"/><stop offset="0.5104" stop-color="#9F0000"/><stop offset="0.5208" stop-color="#B10000"/><stop offset="0.5312" stop-color="#CB0000"/><stop offset="0.5417" stop-color="#ED0000"/><stop offset="0.5521" stop-color="#FF1800"/><stop offset="0.5625" stop-color="#FF4A00"/><stop offset="0.5729" stop-color="#FF7C00"/><stop offset="0.5833" stop-color="#FFB300"/><stop offset="0.5938" stop-color="#FFF000"/><stop offset="0.6042" stop-color="#D1FF2E"/><stop offset="0.6146" stop-color="#9BFF64"/><stop offset="0.625" stop-color="#69FF96"/><stop offset="0.6354" stop-color="#3EFFC1"/><stop offset="0.6458" stop-color="#19FFE6"/><stop offset="0.6562" stop-color="#00E9FF"/><stop offset="0.6667" stop-color="#00BEFF"/><stop offset="0.6771" stop-color="#0097FF"/><stop offset="0.6875" stop-color="#0077FF"/><stop offset="0.6979" stop-color="#005BFF"/><stop offset="0.7083" stop-color="#0044FF"/><stop offset="0.75" stop-color="#0003FF"/><stop offset="0.7917" stop-color="#0000DA"/><stop offset="0.8333" stop-color="#0000B9"/><stop offset="0.875" stop-color="#0000A4"/><stop offset="0.9167" stop-color="#000098"/><stop offset="0.9583" stop-color="#00008F"/><stop offset="1" stop-color="#00008A"/></linearGradient>
<linearGradient id="h3" gradientUnits="userSpaceOnUse" x1="-47.29" y1="0" x2="212.09" y2="0"><stop offset="0" stop-color="#000080"/><stop offset="0.0417" stop-color="#000080"/><stop offset="0.0833" stop-color="#000081"/><stop offset="0.125" stop-color="#000084"/><stop offset="0.1667" stop-color="#00008B"/><stop offset="0.2083" stop-color="#00009D"/><stop offset="0.25" stop-color="#0000C3"/><stop offset="0.2917" stop-color="#0010FF"/><stop offset="0.3021" stop-color="#002BFF"/><stop offset="0.3125" stop-color="#0049FF"/><stop offset="0.3229" stop-color="#006CFF"/><stop offset="0.3333" stop-color="#0093FF"/><stop offset="0.3438" stop-color="#00BEFF"/><stop offset="0.3542" stop-color="#00ECFF"/><stop offset="0.3646" stop-color="#20FFDF"/><stop offset="0.375" stop-color="#56FFA9"/><stop offset="0.3854" stop-color="#8FFF70"/><stop offset="0.3958" stop-color="#CAFF35"/><stop offset="0.4062" stop-color="#FFFA00"/><stop offset="0.4167" stop-color="#FFC000"/><stop offset="0.4271" stop-color="#FF8700"/><stop offset="0.4375" stop-color="#FF4E00"/><stop offset="0.4479" stop-color="#FF1900"/><stop offset="0.4583" stop-color="#EB0000"/><stop offset="0.4688" stop-color="#C70000"/><stop offset="0.4792" stop-color="#AE0000"/><stop offset="0.4896" stop-color="#9E0000"/><stop offset="0.5" stop-color="#990000"/><stop offset="0.5104" stop-color="#9F0000"/><stop offset="0.5208" stop-color="#B10000"/><stop offset="0.5312" stop-color="#CB0000"/><stop offset="0.5417" stop-color="#ED0000"/><stop offset="0.5521" stop-color="#FF1800"/><stop offset="0.5625" stop-color="#FF4A00"/><stop offset="0.5729" stop-color="#FF7C00"/><stop offset="0.5833" stop-color="#FFB300"/><stop offset="0.5938" stop-color="#FFF000"/><stop offset="0.6042" stop-color="#D1FF2E"/><stop offset="0.6146" stop-color="#9BFF64"/><stop offset="0.625" stop-color="#69FF96"/><stop offset="0.6354" stop-color="#3EFFC1"/><stop offset="0.6458" stop-color="#19FFE6"/><stop offset="0.6562" stop-color="#00E9FF"/><stop offset="0.6667" stop-color="#00BEFF"/><stop offset="0.6771" stop-color="#0097FF"/><stop offset="0.6875" stop-color="#0077FF"/><stop offset="0.6979" stop-color="#005BFF"/><stop offset="0.7083" stop-color="#0044FF"/><stop offset="0.75" stop-color="#0003FF"/><stop offset="0.7917" stop-color="#0000DA"/><stop offset="0.8333" stop-color="#0000B9"/><stop offset="0.875" stop-color="#0000A4"/><stop offset="0.9167" stop-color="#000098"/><stop offset="0.9583" stop-color="#00008F"/><stop offset="1" stop-color="#00008A"/></linearGradient>
<linearGradient id="h6" gradientUnits="userSpaceOnUse" x1="-38.38" y1="0" x2="221" y2="0"><stop offset="0" stop-color="#000080"/><stop offset="0.0417" stop-color="#000080"/><stop offset="0.0833" stop-color="#000081"/><stop offset="0.125" stop-color="#000084"/><stop offset="0.1667" stop-color="#00008B"/><stop offset="0.2083" stop-color="#00009D"/><stop offset="0.25" stop-color="#0000C3"/><stop offset="0.2917" stop-color="#0010FF"/><stop offset="0.3021" stop-color="#002BFF"/><stop offset="0.3125" stop-color="#0049FF"/><stop offset="0.3229" stop-color="#006CFF"/><stop offset="0.3333" stop-color="#0093FF"/><stop offset="0.3438" stop-color="#00BEFF"/><stop offset="0.3542" stop-color="#00ECFF"/><stop offset="0.3646" stop-color="#20FFDF"/><stop offset="0.375" stop-color="#56FFA9"/><stop offset="0.3854" stop-color="#8FFF70"/><stop offset="0.3958" stop-color="#CAFF35"/><stop offset="0.4062" stop-color="#FFFA00"/><stop offset="0.4167" stop-color="#FFC000"/><stop offset="0.4271" stop-color="#FF8700"/><stop offset="0.4375" stop-color="#FF4E00"/><stop offset="0.4479" stop-color="#FF1900"/><stop offset="0.4583" stop-color="#EB0000"/><stop offset="0.4688" stop-color="#C70000"/><stop offset="0.4792" stop-color="#AE0000"/><stop offset="0.4896" stop-color="#9E0000"/><stop offset="0.5" stop-color="#990000"/><stop offset="0.5104" stop-color="#9F0000"/><stop offset="0.5208" stop-color="#B10000"/><stop offset="0.5312" stop-color="#CB0000"/><stop offset="0.5417" stop-color="#ED0000"/><stop offset="0.5521" stop-color="#FF1800"/><stop offset="0.5625" stop-color="#FF4A00"/><stop offset="0.5729" stop-color="#FF7D00"/><stop offset="0.5833" stop-color="#FFB500"/><stop offset="0.5938" stop-color="#FFF400"/><stop offset="0.6042" stop-color="#CBFF34"/><stop offset="0.6146" stop-color="#93FF6C"/><stop offset="0.625" stop-color="#60FF9F"/><stop offset="0.6354" stop-color="#33FFCC"/><stop offset="0.6458" stop-color="#0DFFF2"/><stop offset="0.6562" stop-color="#00DDFF"/><stop offset="0.6667" stop-color="#00B2FF"/><stop offset="0.6771" stop-color="#008BFF"/><stop offset="0.6875" stop-color="#006BFF"/><stop offset="0.6979" stop-color="#0050FF"/><stop offset="0.7083" stop-color="#0039FF"/><stop offset="0.75" stop-color="#0000F9"/><stop offset="0.7917" stop-color="#0000D2"/><stop offset="0.8333" stop-color="#0000B4"/><stop offset="0.875" stop-color="#0000A1"/><stop offset="0.9167" stop-color="#000095"/><stop offset="0.9583" stop-color="#00008D"/><stop offset="1" stop-color="#000089"/></linearGradient>
<linearGradient id="h9" gradientUnits="userSpaceOnUse" x1="-29.46" y1="0" x2="229.92" y2="0"><stop offset="0" stop-color="#000080"/><stop offset="0.0417" stop-color="#000080"/><stop offset="0.0833" stop-color="#000081"/><stop offset="0.125" stop-color="#000084"/><stop offset="0.1667" stop-color="#00008B"/><stop offset="0.2083" stop-color="#00009D"/><stop offset="0.25" stop-color="#0000C3"/><stop offset="0.2917" stop-color="#0010FF"/><stop offset="0.3021" stop-color="#002BFF"/><stop offset="0.3125" stop-color="#0049FF"/><stop offset="0.3229" stop-color="#006CFF"/><stop offset="0.3333" stop-color="#0093FF"/><stop offset="0.3438" stop-color="#00BEFF"/><stop offset="0.3542" stop-color="#00ECFF"/><stop offset="0.3646" stop-color="#20FFDF"/><stop offset="0.375" stop-color="#56FFA9"/><stop offset="0.3854" stop-color="#8FFF70"/><stop offset="0.3958" stop-color="#CAFF35"/><stop offset="0.4062" stop-color="#FFFA00"/><stop offset="0.4167" stop-color="#FFC000"/><stop offset="0.4271" stop-color="#FF8700"/><stop offset="0.4375" stop-color="#FF4E00"/><stop offset="0.4479" stop-color="#FF1900"/><stop offset="0.4583" stop-color="#EB0000"/><stop offset="0.4688" stop-color="#C70000"/><stop offset="0.4792" stop-color="#AE0000"/><stop offset="0.4896" stop-color="#9E0000"/><stop offset="0.5" stop-color="#990000"/><stop offset="0.5104" stop-color="#9F0000"/><stop offset="0.5208" stop-color="#B10000"/><stop offset="0.5312" stop-color="#CB0000"/><stop offset="0.5417" stop-color="#ED0000"/><stop offset="0.5521" stop-color="#FF1800"/><stop offset="0.5625" stop-color="#FF4A00"/><stop offset="0.5729" stop-color="#FF7F00"/><stop offset="0.5833" stop-color="#FFB900"/><stop offset="0.5938" stop-color="#FFFA00"/><stop offset="0.6042" stop-color="#C2FF3D"/><stop offset="0.6146" stop-color="#88FF77"/><stop offset="0.625" stop-color="#52FFAD"/><stop offset="0.6354" stop-color="#23FFDC"/><stop offset="0.6458" stop-color="#00F9FF"/><stop offset="0.6562" stop-color="#00CAFF"/><stop offset="0.6667" stop-color="#00A0FF"/><stop offset="0.6771" stop-color="#007AFF"/><stop offset="0.6875" stop-color="#005AFF"/><stop offset="0.6979" stop-color="#0040FF"/><stop offset="0.7083" stop-color="#0029FF"/><stop offset="0.75" stop-color="#0000ED"/><stop offset="0.7917" stop-color="#0000C8"/><stop offset="0.8333" stop-color="#0000AC"/><stop offset="0.875" stop-color="#00009B"/><stop offset="0.9167" stop-color="#000091"/><stop offset="0.9583" stop-color="#00008A"/><stop offset="1" stop-color="#000087"/></linearGradient>
<linearGradient id="h12" gradientUnits="userSpaceOnUse" x1="-20.54" y1="0" x2="238.84" y2="0"><stop offset="0" stop-color="#000080"/><stop offset="0.0417" stop-color="#000080"/><stop offset="0.0833" stop-color="#000081"/><stop offset="0.125" stop-color="#000084"/><stop offset="0.1667" stop-color="#00008B"/><stop offset="0.2083" stop-color="#00009D"/><stop offset="0.25" stop-color="#0000C3"/><stop offset="0.2917" stop-color="#0010FF"/><stop offset="0.3021" stop-color="#002BFF"/><stop offset="0.3125" stop-color="#0049FF"/><stop offset="0.3229" stop-color="#006CFF"/><stop offset="0.3333" stop-color="#0093FF"/><stop offset="0.3438" stop-color="#00BEFF"/><stop offset="0.3542" stop-color="#00ECFF"/><stop offset="0.3646" stop-color="#20FFDF"/><stop offset="0.375" stop-color="#56FFA9"/><stop offset="0.3854" stop-color="#8FFF70"/><stop offset="0.3958" stop-color="#CAFF35"/><stop offset="0.4062" stop-color="#FFFA00"/><stop offset="0.4167" stop-color="#FFC000"/><stop offset="0.4271" stop-color="#FF8700"/><stop offset="0.4375" stop-color="#FF4E00"/><stop offset="0.4479" stop-color="#FF1900"/><stop offset="0.4583" stop-color="#EB0000"/><stop offset="0.4688" stop-color="#C70000"/><stop offset="0.4792" stop-color="#AE0000"/><stop offset="0.4896" stop-color="#9E0000"/><stop offset="0.5" stop-color="#990000"/><stop offset="0.5104" stop-color="#9F0000"/><stop offset="0.5208" stop-color="#B10000"/><stop offset="0.5312" stop-color="#CB0000"/><stop offset="0.5417" stop-color="#ED0000"/><stop offset="0.5521" stop-color="#FF1800"/><stop offset="0.5625" stop-color="#FF4A00"/><stop offset="0.5729" stop-color="#FF8000"/><stop offset="0.5833" stop-color="#FFBC00"/><stop offset="0.5938" stop-color="#FEFF01"/><stop offset="0.6042" stop-color="#B9FF46"/><stop offset="0.6146" stop-color="#7CFF83"/><stop offset="0.625" stop-color="#43FFBC"/><stop offset="0.6354" stop-color="#12FFED"/><stop offset="0.6458" stop-color="#00E6FF"/><stop offset="0.6562" stop-color="#00B7FF"/><stop offset="0.6667" stop-color="#008DFF"/><stop offset="0.6771" stop-color="#0068FF"/><stop offset="0.6875" stop-color="#0049FF"/><stop offset="0.6979" stop-color="#002FFF"/><stop offset="0.7083" stop-color="#001AFF"/><stop offset="0.75" stop-color="#0000E0"/><stop offset="0.7917" stop-color="#0000BF"/><stop offset="0.8333" stop-color="#0000A5"/><stop offset="0.875" stop-color="#000096"/><stop offset="0.9167" stop-color="#00008D"/><stop offset="0.9583" stop-color="#000088"/><stop offset="1" stop-color="#000085"/></linearGradient>
<linearGradient id="h15" gradientUnits="userSpaceOnUse" x1="-11.63" y1="0" x2="247.75" y2="0"><stop offset="0" stop-color="#000080"/><stop offset="0.0417" stop-color="#000080"/><stop offset="0.0833" stop-color="#000081"/><stop offset="0.125" stop-color="#000084"/><stop offset="0.1667" stop-color="#00008B"/><stop offset="0.2083" stop-color="#00009D"/><stop offset="0.25" stop-color="#0000C3"/><stop offset="0.2917" stop-color="#0010FF"/><stop offset="0.3021" stop-color="#002BFF"/><stop offset="0.3125" stop-color="#0049FF"/><stop offset="0.3229" stop-color="#006CFF"/><stop offset="0.3333" stop-color="#0093FF"/><stop offset="0.3438" stop-color="#00BEFF"/><stop offset="0.3542" stop-color="#00ECFF"/><stop offset="0.3646" stop-color="#20FFDF"/><stop offset="0.375" stop-color="#56FFA9"/><stop offset="0.3854" stop-color="#8FFF70"/><stop offset="0.3958" stop-color="#CAFF35"/><stop offset="0.4062" stop-color="#FFFA00"/><stop offset="0.4167" stop-color="#FFC000"/><stop offset="0.4271" stop-color="#FF8700"/><stop offset="0.4375" stop-color="#FF4E00"/><stop offset="0.4479" stop-color="#FF1900"/><stop offset="0.4583" stop-color="#EB0000"/><stop offset="0.4688" stop-color="#C70000"/><stop offset="0.4792" stop-color="#AE0000"/><stop offset="0.4896" stop-color="#9E0000"/><stop offset="0.5" stop-color="#990000"/><stop offset="0.5104" stop-color="#9F0000"/><stop offset="0.5208" stop-color="#B10000"/><stop offset="0.5312" stop-color="#CB0000"/><stop offset="0.5417" stop-color="#ED0000"/><stop offset="0.5521" stop-color="#FF1800"/><stop offset="0.5625" stop-color="#FF4A00"/><stop offset="0.5729" stop-color="#FF8200"/><stop offset="0.5833" stop-color="#FFC000"/><stop offset="0.5938" stop-color="#F8FF07"/><stop offset="0.6042" stop-color="#B0FF4F"/><stop offset="0.6146" stop-color="#70FF8F"/><stop offset="0.625" stop-color="#34FFCB"/><stop offset="0.6354" stop-color="#00FFFF"/><stop offset="0.6458" stop-color="#00D2FF"/><stop offset="0.6562" stop-color="#00A3FF"/><stop offset="0.6667" stop-color="#007AFF"/><stop offset="0.6771" stop-color="#0055FF"/><stop offset="0.6875" stop-color="#0038FF"/><stop offset="0.6979" stop-color="#001FFF"/><stop offset="0.7083" stop-color="#000BFF"/><stop offset="0.75" stop-color="#0000D4"/><stop offset="0.7917" stop-color="#0000B6"/><stop offset="0.8333" stop-color="#00009F"/><stop offset="0.875" stop-color="#000092"/><stop offset="0.9167" stop-color="#00008A"/><stop offset="0.9583" stop-color="#000086"/><stop offset="1" stop-color="#000084"/></linearGradient>
<linearGradient id="h18" gradientUnits="userSpaceOnUse" x1="-2.71" y1="0" x2="256.67" y2="0"><stop offset="0" stop-color="#000080"/><stop offset="0.0417" stop-color="#000080"/><stop offset="0.0833" stop-color="#000081"/><stop offset="0.125" stop-color="#000084"/><stop offset="0.1667" stop-color="#00008B"/><stop offset="0.2083" stop-color="#00009D"/><stop offset="0.25" stop-color="#0000C3"/><stop offset="0.2917" stop-color="#0010FF"/><stop offset="0.3021" stop-color="#002BFF"/><stop offset="0.3125" stop-color="#0049FF"/><stop offset="0.3229" stop-color="#006CFF"/><stop offset="0.3333" stop-color="#0093FF"/><stop offset="0.3438" stop-color="#00BEFF"/><stop offset="0.3542" stop-color="#00ECFF"/><stop offset="0.3646" stop-color="#20FFDF"/><stop offset="0.375" stop-color="#56FFA9"/><stop offset="0.3854" stop-color="#8FFF70"/><stop offset="0.3958" stop-color="#CAFF35"/><stop offset="0.4062" stop-color="#FFFA00"/><stop offset="0.4167" stop-color="#FFC000"/><stop offset="0.4271" stop-color="#FF8700"/><stop offset="0.4375" stop-color="#FF4E00"/><stop offset="0.4479" stop-color="#FF1900"/><stop offset="0.4583" stop-color="#EB0000"/><stop offset="0.4688" stop-color="#C70000"/><stop offset="0.4792" stop-color="#AE0000"/><stop offset="0.4896" stop-color="#9E0000"/><stop offset="0.5" stop-color="#990000"/><stop offset="0.5104" stop-color="#9F0000"/><stop offset="0.5208" stop-color="#B10000"/><stop offset="0.5312" stop-color="#CB0000"/><stop offset="0.5417" stop-color="#ED0000"/><stop offset="0.5521" stop-color="#FF1800"/><stop offset="0.5625" stop-color="#FF4A00"/><stop offset="0.5729" stop-color="#FF8300"/><stop offset="0.5833" stop-color="#FFC300"/><stop offset="0.5938" stop-color="#F1FF0E"/><stop offset="0.6042" stop-color="#A7FF58"/><stop offset="0.6146" stop-color="#64FF9B"/><stop offset="0.625" stop-color="#25FFDA"/><stop offset="0.6354" stop-color="#00EDFF"/><stop offset="0.6458" stop-color="#00BEFF"/><stop offset="0.6562" stop-color="#0090FF"/><stop offset="0.6667" stop-color="#0067FF"/><stop offset="0.6771" stop-color="#0043FF"/><stop offset="0.6875" stop-color="#0027FF"/><stop offset="0.6979" stop-color="#000FFF"/><stop offset="0.7083" stop-color="#0000FB"/><stop offset="0.75" stop-color="#0000C9"/><stop offset="0.7917" stop-color="#0000AD"/><stop offset="0.8333" stop-color="#000099"/><stop offset="0.875" stop-color="#00008E"/><stop offset="0.9167" stop-color="#000088"/><stop offset="0.9583" stop-color="#000084"/><stop offset="1" stop-color="#000082"/></linearGradient>
<linearGradient id="h21" gradientUnits="userSpaceOnUse" x1="6.21" y1="0" x2="265.59" y2="0"><stop offset="0" stop-color="#000080"/><stop offset="0.0417" stop-color="#000080"/><stop offset="0.0833" stop-color="#000081"/><stop offset="0.125" stop-color="#000084"/><stop offset="0.1667" stop-color="#00008B"/><stop offset="0.2083" stop-color="#00009D"/><stop offset="0.25" stop-color="#0000C3"/><stop offset="0.2917" stop-color="#0010FF"/><stop offset="0.3021" stop-color="#002BFF"/><stop offset="0.3125" stop-color="#0049FF"/><stop offset="0.3229" stop-color="#006CFF"/><stop offset="0.3333" stop-color="#0093FF"/><stop offset="0.3438" stop-color="#00BEFF"/><stop offset="0.3542" stop-color="#00ECFF"/><stop offset="0.3646" stop-color="#20FFDF"/><stop offset="0.375" stop-color="#56FFA9"/><stop offset="0.3854" stop-color="#8FFF70"/><stop offset="0.3958" stop-color="#CAFF35"/><stop offset="0.4062" stop-color="#FFFA00"/><stop offset="0.4167" stop-color="#FFC000"/><stop offset="0.4271" stop-color="#FF8700"/><stop offset="0.4375" stop-color="#FF4E00"/><stop offset="0.4479" stop-color="#FF1900"/><stop offset="0.4583" stop-color="#EB0000"/><stop offset="0.4688" stop-color="#C70000"/><stop offset="0.4792" stop-color="#AE0000"/><stop offset="0.4896" stop-color="#9E0000"/><stop offset="0.5" stop-color="#990000"/><stop offset="0.5104" stop-color="#9F0000"/><stop offset="0.5208" stop-color="#B10000"/><stop offset="0.5312" stop-color="#CB0000"/><stop offset="0.5417" stop-color="#ED0000"/><stop offset="0.5521" stop-color="#FF1800"/><stop offset="0.5625" stop-color="#FF4A00"/><stop offset="0.5729" stop-color="#FF8500"/><stop offset="0.5833" stop-color="#FFC700"/><stop offset="0.5938" stop-color="#EBFF14"/><stop offset="0.6042" stop-color="#9DFF62"/><stop offset="0.6146" stop-color="#57FFA8"/><stop offset="0.625" stop-color="#15FFEA"/><stop offset="0.6354" stop-color="#00DBFF"/><stop offset="0.6458" stop-color="#00A9FF"/><stop offset="0.6562" stop-color="#007BFF"/><stop offset="0.6667" stop-color="#0054FF"/><stop offset="0.6771" stop-color="#0032FF"/><stop offset="0.6875" stop-color="#0016FF"/><stop offset="0.6979" stop-color="#0000FF"/><stop offset="0.7083" stop-color="#0000ED"/><stop offset="0.75" stop-color="#0000BF"/><stop offset="0.7917" stop-color="#0000A6"/><stop offset="0.8333" stop-color="#000094"/><stop offset="0.875" stop-color="#00008B"/><stop offset="0.9167" stop-color="#000086"/><stop offset="0.9583" stop-color="#000083"/><stop offset="1" stop-color="#000082"/></linearGradient>
<linearGradient id="h24" gradientUnits="userSpaceOnUse" x1="15.12" y1="0" x2="274.5" y2="0"><stop offset="0" stop-color="#000080"/><stop offset="0.0417" stop-color="#000080"/><stop offset="0.0833" stop-color="#000081"/><stop offset="0.125" stop-color="#000084"/><stop offset="0.1667" stop-color="#00008B"/><stop offset="0.2083" stop-color="#00009D"/><stop offset="0.25" stop-color="#0000C3"/><stop offset="0.2917" stop-color="#0010FF"/><stop offset="0.3021" stop-color="#002BFF"/><stop offset="0.3125" stop-color="#0049FF"/><stop offset="0.3229" stop-color="#006CFF"/><stop offset="0.3333" stop-color="#0093FF"/><stop offset="0.3438" stop-color="#00BEFF"/><stop offset="0.3542" stop-color="#00ECFF"/><stop offset="0.3646" stop-color="#20FFDF"/><stop offset="0.375" stop-color="#56FFA9"/><stop offset="0.3854" stop-color="#8FFF70"/><stop offset="0.3958" stop-color="#CAFF35"/><stop offset="0.4062" stop-color="#FFFA00"/><stop offset="0.4167" stop-color="#FFC000"/><stop offset="0.4271" stop-color="#FF8700"/><stop offset="0.4375" stop-color="#FF4E00"/><stop offset="0.4479" stop-color="#FF1900"/><stop offset="0.4583" stop-color="#EB0000"/><stop offset="0.4688" stop-color="#C70000"/><stop offset="0.4792" stop-color="#AE0000"/><stop offset="0.4896" stop-color="#9E0000"/><stop offset="0.5" stop-color="#990000"/><stop offset="0.5104" stop-color="#9F0000"/><stop offset="0.5208" stop-color="#B10000"/><stop offset="0.5312" stop-color="#CB0000"/><stop offset="0.5417" stop-color="#ED0000"/><stop offset="0.5521" stop-color="#FF1800"/><stop offset="0.5625" stop-color="#FF4A00"/><stop offset="0.5729" stop-color="#FF8600"/><stop offset="0.5833" stop-color="#FFCB00"/><stop offset="0.5938" stop-color="#E4FF1B"/><stop offset="0.6042" stop-color="#93FF6C"/><stop offset="0.6146" stop-color="#4AFFB5"/><stop offset="0.625" stop-color="#05FFFA"/><stop offset="0.6354" stop-color="#00C8FF"/><stop offset="0.6458" stop-color="#0094FF"/><stop offset="0.6562" stop-color="#0067FF"/><stop offset="0.6667" stop-color="#0041FF"/><stop offset="0.6771" stop-color="#0020FF"/><stop offset="0.6875" stop-color="#0006FF"/><stop offset="0.6979" stop-color="#0000F0"/><stop offset="0.7083" stop-color="#0000DF"/><stop offset="0.75" stop-color="#0000B5"/><stop offset="0.7917" stop-color="#00009F"/><stop offset="0.8333" stop-color="#000090"/><stop offset="0.875" stop-color="#000088"/><stop offset="0.9167" stop-color="#000084"/><stop offset="0.9583" stop-color="#000082"/><stop offset="1" stop-color="#000081"/></linearGradient>
<linearGradient id="h27" gradientUnits="userSpaceOnUse" x1="24.04" y1="0" x2="283.42" y2="0"><stop offset="0" stop-color="#000080"/><stop offset="0.0417" stop-color="#000080"/><stop offset="0.0833" stop-color="#000081"/><stop offset="0.125" stop-color="#000084"/><stop offset="0.1667" stop-color="#00008B"/><stop offset="0.2083" stop-color="#00009D"/><stop offset="0.25" stop-color="#0000C3"/><stop offset="0.2917" stop-color="#0010FF"/><stop offset="0.3021" stop-color="#002BFF"/><stop offset="0.3125" stop-color="#0049FF"/><stop offset="0.3229" stop-color="#006CFF"/><stop offset="0.3333" stop-color="#0093FF"/><stop offset="0.3438" stop-color="#00BEFF"/><stop offset="0.3542" stop-color="#00ECFF"/><stop offset="0.3646" stop-color="#20FFDF"/><stop offset="0.375" stop-color="#56FFA9"/><stop offset="0.3854" stop-color="#8FFF70"/><stop offset="0.3958" stop-color="#CAFF35"/><stop offset="0.4062" stop-color="#FFFA00"/><stop offset="0.4167" stop-color="#FFC000"/><stop offset="0.4271" stop-color="#FF8700"/><stop offset="0.4375" stop-color="#FF4E00"/><stop offset="0.4479" stop-color="#FF1900"/><stop offset="0.4583" stop-color="#EB0000"/><stop offset="0.4688" stop-color="#C70000"/><stop offset="0.4792" stop-color="#AE0000"/><stop offset="0.4896" stop-color="#9E0000"/><stop offset="0.5" stop-color="#990000"/><stop offset="0.5104" stop-color="#9F0000"/><stop offset="0.5208" stop-color="#B10000"/><stop offset="0.5312" stop-color="#CB0000"/><stop offset="0.5417" stop-color="#ED0000"/><stop offset="0.5521" stop-color="#FF1800"/><stop offset="0.5625" stop-color="#FF4A00"/><stop offset="0.5729" stop-color="#FF8600"/><stop offset="0.5833" stop-color="#FFCB00"/><stop offset="0.5938" stop-color="#E4FF1B"/><stop offset="0.6042" stop-color="#93FF6C"/><stop offset="0.6146" stop-color="#4AFFB5"/><stop offset="0.625" stop-color="#05FFFA"/><stop offset="0.6354" stop-color="#00C8FF"/><stop offset="0.6458" stop-color="#0094FF"/><stop offset="0.6562" stop-color="#0067FF"/><stop offset="0.6667" stop-color="#0041FF"/><stop offset="0.6771" stop-color="#0020FF"/><stop offset="0.6875" stop-color="#0006FF"/><stop offset="0.6979" stop-color="#0000F0"/><stop offset="0.7083" stop-color="#0000DF"/><stop offset="0.75" stop-color="#0000B5"/><stop offset="0.7917" stop-color="#00009F"/><stop offset="0.8333" stop-color="#000090"/><stop offset="0.875" stop-color="#000088"/><stop offset="0.9167" stop-color="#000084"/><stop offset="0.9583" stop-color="#000082"/><stop offset="1" stop-color="#000081"/></linearGradient>
<linearGradient id="h30" gradientUnits="userSpaceOnUse" x1="32.95" y1="0" x2="292.33" y2="0"><stop offset="0" stop-color="#000080"/><stop offset="0.0417" stop-color="#000081"/><stop offset="0.0833" stop-color="#000082"/><stop offset="0.125" stop-color="#000085"/><stop offset="0.1667" stop-color="#00008D"/><stop offset="0.2083" stop-color="#00009E"/><stop offset="0.25" stop-color="#0000C4"/><stop offset="0.2917" stop-color="#000FFF"/><stop offset="0.3021" stop-color="#0029FF"/><stop offset="0.3125" stop-color="#0047FF"/><stop offset="0.3229" stop-color="#0069FF"/><stop offset="0.3333" stop-color="#008FFF"/><stop offset="0.3438" stop-color="#00BAFF"/><stop offset="0.3542" stop-color="#00E8FF"/><stop offset="0.3646" stop-color="#1BFFE4"/><stop offset="0.375" stop-color="#52FFAD"/><stop offset="0.3854" stop-color="#8CFF73"/><stop offset="0.3958" stop-color="#C8FF37"/><stop offset="0.4062" stop-color="#FFFA00"/><stop offset="0.4167" stop-color="#FFC000"/><stop offset="0.4271" stop-color="#FF8700"/><stop offset="0.4375" stop-color="#FF4E00"/><stop offset="0.4479" stop-color="#FF1900"/><stop offset="0.4583" stop-color="#EB0000"/><stop offset="0.4688" stop-color="#C70000"/><stop offset="0.4792" stop-color="#AD0000"/><stop offset="0.4896" stop-color="#9D0000"/><stop offset="0.5" stop-color="#980000"/><stop offset="0.5104" stop-color="#9E0000"/><stop offset="0.5208" stop-color="#B00000"/><stop offset="0.5312" stop-color="#CA0000"/><stop offset="0.5417" stop-color="#EC0000"/><stop offset="0.5521" stop-color="#FF1700"/><stop offset="0.5625" stop-color="#FF4A00"/><stop offset="0.5729" stop-color="#FF8600"/><stop offset="0.5833" stop-color="#FFCB00"/><stop offset="0.5938" stop-color="#E4FF1B"/><stop offset="0.6042" stop-color="#93FF6C"/><stop offset="0.6146" stop-color="#48FFB7"/><stop offset="0.625" stop-color="#03FFFC"/><stop offset="0.6354" stop-color="#00C6FF"/><stop offset="0.6458" stop-color="#0092FF"/><stop offset="0.6562" stop-color="#0065FF"/><stop offset="0.6667" stop-color="#003FFF"/><stop offset="0.6771" stop-color="#001EFF"/><stop offset="0.6875" stop-color="#0004FF"/><stop offset="0.6979" stop-color="#0000EF"/><stop offset="0.7083" stop-color="#0000DE"/><stop offset="0.75" stop-color="#0000B4"/><stop offset="0.7917" stop-color="#00009E"/><stop offset="0.8333" stop-color="#000090"/><stop offset="0.875" stop-color="#000088"/><stop offset="0.9167" stop-color="#000084"/><stop offset="0.9583" stop-color="#000082"/><stop offset="1" stop-color="#000081"/></linearGradient>
<linearGradient id="h33" gradientUnits="userSpaceOnUse" x1="41.87" y1="0" x2="301.25" y2="0"><stop offset="0" stop-color="#000083"/><stop offset="0.0417" stop-color="#000084"/><stop offset="0.0833" stop-color="#000086"/><stop offset="0.125" stop-color="#00008A"/><stop offset="0.1667" stop-color="#000092"/><stop offset="0.2083" stop-color="#0000A4"/><stop offset="0.25" stop-color="#0000C7"/><stop offset="0.2917" stop-color="#000CFF"/><stop offset="0.3021" stop-color="#0024FF"/><stop offset="0.3125" stop-color="#0041FF"/><stop offset="0.3229" stop-color="#0061FF"/><stop offset="0.3333" stop-color="#0085FF"/><stop offset="0.3438" stop-color="#00AEFF"/><stop offset="0.3542" stop-color="#00DBFF"/><stop offset="0.3646" stop-color="#0EFFF1"/><stop offset="0.375" stop-color="#46FFB9"/><stop offset="0.3854" stop-color="#83FF7C"/><stop offset="0.3958" stop-color="#C2FF3D"/><stop offset="0.4062" stop-color="#FFFD00"/><stop offset="0.4167" stop-color="#FFC000"/><stop offset="0.4271" stop-color="#FF8600"/><stop offset="0.4375" stop-color="#FF4C00"/><stop offset="0.4479" stop-color="#FF1700"/><stop offset="0.4583" stop-color="#E90000"/><stop offset="0.4688" stop-color="#C40000"/><stop offset="0.4792" stop-color="#AA0000"/><stop offset="0.4896" stop-color="#9B0000"/><stop offset="0.5" stop-color="#950000"/><stop offset="0.5104" stop-color="#9B0000"/><stop offset="0.5208" stop-color="#AD0000"/><stop offset="0.5312" stop-color="#C70000"/><stop offset="0.5417" stop-color="#EA0000"/><stop offset="0.5521" stop-color="#FF1600"/><stop offset="0.5625" stop-color="#FF4900"/><stop offset="0.5729" stop-color="#FF8600"/><stop offset="0.5833" stop-color="#FFCC00"/><stop offset="0.5938" stop-color="#E2FF1D"/><stop offset="0.6042" stop-color="#90FF6F"/><stop offset="0.6146" stop-color="#44FFBB"/><stop offset="0.625" stop-color="#00FDFF"/><stop offset="0.6354" stop-color="#00C1FF"/><stop offset="0.6458" stop-color="#008DFF"/><stop offset="0.6562" stop-color="#0060FF"/><stop offset="0.6667" stop-color="#0039FF"/><stop offset="0.6771" stop-color="#0019FF"/><stop offset="0.6875" stop-color="#0000FF"/><stop offset="0.6979" stop-color="#0000EB"/><stop offset="0.7083" stop-color="#0000DB"/><stop offset="0.75" stop-color="#0000B2"/><stop offset="0.7917" stop-color="#00009D"/><stop offset="0.8333" stop-color="#00008F"/><stop offset="0.875" stop-color="#000088"/><stop offset="0.9167" stop-color="#000084"/><stop offset="0.9583" stop-color="#000082"/><stop offset="1" stop-color="#000081"/></linearGradient>
<linearGradient id="h36" gradientUnits="userSpaceOnUse" x1="50.79" y1="0" x2="310.17" y2="0"><stop offset="0" stop-color="#000085"/><stop offset="0.0417" stop-color="#000087"/><stop offset="0.0833" stop-color="#00008A"/><stop offset="0.125" stop-color="#00008F"/><stop offset="0.1667" stop-color="#000098"/><stop offset="0.2083" stop-color="#0000A9"/><stop offset="0.25" stop-color="#0000CA"/><stop offset="0.2917" stop-color="#0009FF"/><stop offset="0.3021" stop-color="#0020FF"/><stop offset="0.3125" stop-color="#003AFF"/><stop offset="0.3229" stop-color="#0058FF"/><stop offset="0.3333" stop-color="#007BFF"/><stop offset="0.3438" stop-color="#00A2FF"/><stop offset="0.3542" stop-color="#00CDFF"/><stop offset="0.3646" stop-color="#00FFFF"/><stop offset="0.375" stop-color="#39FFC6"/><stop offset="0.3854" stop-color="#79FF86"/><stop offset="0.3958" stop-color="#BCFF43"/><stop offset="0.4062" stop-color="#FFFF00"/><stop offset="0.4167" stop-color="#FFC000"/><stop offset="0.4271" stop-color="#FF8500"/><stop offset="0.4375" stop-color="#FF4B00"/><stop offset="0.4479" stop-color="#FF1600"/><stop offset="0.4583" stop-color="#E70000"/><stop offset="0.4688" stop-color="#C20000"/><stop offset="0.4792" stop-color="#A80000"/><stop offset="0.4896" stop-color="#980000"/><stop offset="0.5" stop-color="#920000"/><stop offset="0.5104" stop-color="#990000"/><stop offset="0.5208" stop-color="#AB0000"/><stop offset="0.5312" stop-color="#C50000"/><stop offset="0.5417" stop-color="#E80000"/><stop offset="0.5521" stop-color="#FF1500"/><stop offset="0.5625" stop-color="#FF4900"/><stop offset="0.5729" stop-color="#FF8600"/><stop offset="0.5833" stop-color="#FFCD00"/><stop offset="0.5938" stop-color="#E0FF1F"/><stop offset="0.6042" stop-color="#8DFF72"/><stop offset="0.6146" stop-color="#40FFBF"/><stop offset="0.625" stop-color="#00F8FF"/><stop offset="0.6354" stop-color="#00BCFF"/><stop offset="0.6458" stop-color="#0087FF"/><stop offset="0.6562" stop-color="#005AFF"/><stop offset="0.6667" stop-color="#0033FF"/><stop offset="0.6771" stop-color="#0014FF"/><stop offset="0.6875" stop-color="#0000FB"/><stop offset="0.6979" stop-color="#0000E8"/><stop offset="0.7083" stop-color="#0000D8"/><stop offset="0.75" stop-color="#0000B0"/><stop offset="0.7917" stop-color="#00009B"/><stop offset="0.8333" stop-color="#00008E"/><stop offset="0.875" stop-color="#000087"/><stop offset="0.9167" stop-color="#000084"/><stop offset="0.9583" stop-color="#000082"/><stop offset="1" stop-color="#000081"/></linearGradient>
<linearGradient id="h39" gradientUnits="userSpaceOnUse" x1="59.7" y1="0" x2="319.08" y2="0"><stop offset="0" stop-color="#000087"/><stop offset="0.0417" stop-color="#00008A"/><stop offset="0.0833" stop-color="#00008D"/><stop offset="0.125" stop-color="#000094"/><stop offset="0.1667" stop-color="#00009D"/><stop offset="0.2083" stop-color="#0000AE"/><stop offset="0.25" stop-color="#0000CD"/><stop offset="0.2917" stop-color="#0006FF"/><stop offset="0.3021" stop-color="#001BFF"/><stop offset="0.3125" stop-color="#0033FF"/><stop offset="0.3229" stop-color="#0050FF"/><stop offset="0.3333" stop-color="#0071FF"/><stop offset="0.3438" stop-color="#0096FF"/><stop offset="0.3542" stop-color="#00C0FF"/><stop offset="0.3646" stop-color="#00F2FF"/><stop offset="0.375" stop-color="#2DFFD2"/><stop offset="0.3854" stop-color="#70FF8F"/><stop offset="0.3958" stop-color="#B6FF49"/><stop offset="0.4062" stop-color="#FCFF03"/><stop offset="0.4167" stop-color="#FFC100"/><stop offset="0.4271" stop-color="#FF8300"/><stop offset="0.4375" stop-color="#FF4900"/><stop offset="0.4479" stop-color="#FF1400"/><stop offset="0.4583" stop-color="#E50000"/><stop offset="0.4688" stop-color="#C00000"/><stop offset="0.4792" stop-color="#A50000"/><stop offset="0.4896" stop-color="#950000"/><stop offset="0.5" stop-color="#900000"/><stop offset="0.5104" stop-color="#960000"/><stop offset="0.5208" stop-color="#A80000"/><stop offset="0.5312" stop-color="#C30000"/><stop offset="0.5417" stop-color="#E60000"/><stop offset="0.5521" stop-color="#FF1300"/><stop offset="0.5625" stop-color="#FF4800"/><stop offset="0.5729" stop-color="#FF8600"/><stop offset="0.5833" stop-color="#FFCD00"/><stop offset="0.5938" stop-color="#DFFF20"/><stop offset="0.6042" stop-color="#8AFF75"/><stop offset="0.6146" stop-color="#3CFFC3"/><stop offset="0.625" stop-color="#00F3FF"/><stop offset="0.6354" stop-color="#00B7FF"/><stop offset="0.6458" stop-color="#0082FF"/><stop offset="0.6562" stop-color="#0054FF"/><stop offset="0.6667" stop-color="#002EFF"/><stop offset="0.6771" stop-color="#000FFF"/><stop offset="0.6875" stop-color="#0000F7"/><stop offset="0.6979" stop-color="#0000E4"/><stop offset="0.7083" stop-color="#0000D4"/><stop offset="0.75" stop-color="#0000AE"/><stop offset="0.7917" stop-color="#00009A"/><stop offset="0.8333" stop-color="#00008D"/><stop offset="0.875" stop-color="#000087"/><stop offset="0.9167" stop-color="#000084"/><stop offset="0.9583" stop-color="#000082"/><stop offset="1" stop-color="#000081"/></linearGradient>
<linearGradient id="h42" gradientUnits="userSpaceOnUse" x1="68.62" y1="0" x2="328" y2="0"><stop offset="0" stop-color="#000089"/><stop offset="0.0417" stop-color="#00008D"/><stop offset="0.0833" stop-color="#000091"/><stop offset="0.125" stop-color="#000098"/><stop offset="0.1667" stop-color="#0000A2"/><stop offset="0.2083" stop-color="#0000B3"/><stop offset="0.25" stop-color="#0000D0"/><stop offset="0.2917" stop-color="#0003FF"/><stop offset="0.3021" stop-color="#0016FF"/><stop offset="0.3125" stop-color="#002CFF"/><stop offset="0.3229" stop-color="#0048FF"/><stop offset="0.3333" stop-color="#0066FF"/><stop offset="0.3438" stop-color="#008AFF"/><stop offset="0.3542" stop-color="#00B3FF"/><stop offset="0.3646" stop-color="#00E4FF"/><stop offset="0.375" stop-color="#21FFDE"/><stop offset="0.3854" stop-color="#67FF98"/><stop offset="0.3958" stop-color="#B0FF4F"/><stop offset="0.4062" stop-color="#FAFF05"/><stop offset="0.4167" stop-color="#FFC100"/><stop offset="0.4271" stop-color="#FF8200"/><stop offset="0.4375" stop-color="#FF4800"/><stop offset="0.4479" stop-color="#FF1300"/><stop offset="0.4583" stop-color="#E30000"/><stop offset="0.4688" stop-color="#BE0000"/><stop offset="0.4792" stop-color="#A30000"/><stop offset="0.4896" stop-color="#920000"/><stop offset="0.5" stop-color="#8D0000"/><stop offset="0.5104" stop-color="#930000"/><stop offset="0.5208" stop-color="#A50000"/><stop offset="0.5312" stop-color="#C00000"/><stop offset="0.5417" stop-color="#E40000"/><stop offset="0.5521" stop-color="#FF1200"/><stop offset="0.5625" stop-color="#FF4700"/><stop offset="0.5729" stop-color="#FF8600"/><stop offset="0.5833" stop-color="#FFCE00"/><stop offset="0.5938" stop-color="#DDFF22"/><stop offset="0.6042" stop-color="#88FF77"/><stop offset="0.6146" stop-color="#38FFC7"/><stop offset="0.625" stop-color="#00EEFF"/><stop offset="0.6354" stop-color="#00B2FF"/><stop offset="0.6458" stop-color="#007CFF"/><stop offset="0.6562" stop-color="#004EFF"/><stop offset="0.6667" stop-color="#0028FF"/><stop offset="0.6771" stop-color="#000AFF"/><stop offset="0.6875" stop-color="#0000F3"/><stop offset="0.6979" stop-color="#0000E1"/><stop offset="0.7083" stop-color="#0000D1"/><stop offset="0.75" stop-color="#0000AC"/><stop offset="0.7917" stop-color="#000098"/><stop offset="0.8333" stop-color="#00008D"/><stop offset="0.875" stop-color="#000087"/><stop offset="0.9167" stop-color="#000083"/><stop offset="0.9583" stop-color="#000082"/><stop offset="1" stop-color="#000081"/></linearGradient>
<linearGradient id="h45" gradientUnits="userSpaceOnUse" x1="77.53" y1="0" x2="336.91" y2="0"><stop offset="0" stop-color="#00008C"/><stop offset="0.0417" stop-color="#00008F"/><stop offset="0.0833" stop-color="#000095"/><stop offset="0.125" stop-color="#00009D"/><stop offset="0.1667" stop-color="#0000A8"/><stop offset="0.2083" stop-color="#0000B8"/><stop offset="0.25" stop-color="#0000D3"/><stop offset="0.2917" stop-color="#0001FF"/><stop offset="0.3021" stop-color="#0011FF"/><stop offset="0.3125" stop-color="#0026FF"/><stop offset="0.3229" stop-color="#003FFF"/><stop offset="0.3333" stop-color="#005CFF"/><stop offset="0.3438" stop-color="#007EFF"/><stop offset="0.3542" stop-color="#00A6FF"/><stop offset="0.3646" stop-color="#00D7FF"/><stop offset="0.375" stop-color="#14FFEB"/><stop offset="0.3854" stop-color="#5DFFA2"/><stop offset="0.3958" stop-color="#AAFF55"/><stop offset="0.4062" stop-color="#F7FF08"/><stop offset="0.4167" stop-color="#FFC100"/><stop offset="0.4271" stop-color="#FF8100"/><stop offset="0.4375" stop-color="#FF4600"/><stop offset="0.4479" stop-color="#FF1100"/><stop offset="0.4583" stop-color="#E10000"/><stop offset="0.4688" stop-color="#BC0000"/><stop offset="0.4792" stop-color="#A00000"/><stop offset="0.4896" stop-color="#900000"/><stop offset="0.5" stop-color="#8A0000"/><stop offset="0.5104" stop-color="#900000"/><stop offset="0.5208" stop-color="#A20000"/><stop offset="0.5312" stop-color="#BE0000"/><stop offset="0.5417" stop-color="#E30000"/><stop offset="0.5521" stop-color="#FF1100"/><stop offset="0.5625" stop-color="#FF4700"/><stop offset="0.5729" stop-color="#FF8600"/><stop offset="0.5833" stop-color="#FFCF00"/><stop offset="0.5938" stop-color="#DBFF24"/><stop offset="0.6042" stop-color="#85FF7A"/><stop offset="0.6146" stop-color="#34FFCB"/><stop offset="0.625" stop-color="#00EAFF"/><stop offset="0.6354" stop-color="#00ADFF"/><stop offset="0.6458" stop-color="#0077FF"/><stop offset="0.6562" stop-color="#0049FF"/><stop offset="0.6667" stop-color="#0022FF"/><stop offset="0.6771" stop-color="#0005FF"/><stop offset="0.6875" stop-color="#0000EF"/><stop offset="0.6979" stop-color="#0000DD"/><stop offset="0.7083" stop-color="#0000CE"/><stop offset="0.75" stop-color="#0000AA"/><stop offset="0.7917" stop-color="#000097"/><stop offset="0.8333" stop-color="#00008C"/><stop offset="0.875" stop-color="#000086"/><stop offset="0.9167" stop-color="#000083"/><stop offset="0.9583" stop-color="#000082"/><stop offset="1" stop-color="#000081"/></linearGradient>
<linearGradient id="h48" gradientUnits="userSpaceOnUse" x1="86.45" y1="0" x2="345.83" y2="0"><stop offset="0" stop-color="#00008E"/><stop offset="0.0417" stop-color="#000092"/><stop offset="0.0833" stop-color="#000099"/><stop offset="0.125" stop-color="#0000A2"/><stop offset="0.1667" stop-color="#0000AD"/><stop offset="0.2083" stop-color="#0000BD"/><stop offset="0.25" stop-color="#0000D6"/><stop offset="0.2917" stop-color="#0000FD"/><stop offset="0.3021" stop-color="#000CFF"/><stop offset="0.3125" stop-color="#001FFF"/><stop offset="0.3229" stop-color="#0037FF"/><stop offset="0.3333" stop-color="#0052FF"/><stop offset="0.3438" stop-color="#0072FF"/><stop offset="0.3542" stop-color="#0098FF"/><stop offset="0.3646" stop-color="#00C9FF"/><stop offset="0.375" stop-color="#08FFF7"/><stop offset="0.3854" stop-color="#54FFAB"/><stop offset="0.3958" stop-color="#A4FF5B"/><stop offset="0.4062" stop-color="#F5FF0A"/><stop offset="0.4167" stop-color="#FFC100"/><stop offset="0.4271" stop-color="#FF8000"/><stop offset="0.4375" stop-color="#FF4500"/><stop offset="0.4479" stop-color="#FF0F00"/><stop offset="0.4583" stop-color="#E00000"/><stop offset="0.4688" stop-color="#B90000"/><stop offset="0.4792" stop-color="#9E0000"/><stop offset="0.4896" stop-color="#8D0000"/><stop offset="0.5" stop-color="#870000"/><stop offset="0.5104" stop-color="#8E0000"/><stop offset="0.5208" stop-color="#A00000"/><stop offset="0.5312" stop-color="#BB0000"/><stop offset="0.5417" stop-color="#E10000"/><stop offset="0.5521" stop-color="#FF0F00"/><stop offset="0.5625" stop-color="#FF4600"/><stop offset="0.5729" stop-color="#FF8600"/><stop offset="0.5833" stop-color="#FFD000"/><stop offset="0.5938" stop-color="#D9FF26"/><stop offset="0.6042" stop-color="#82FF7D"/><stop offset="0.6146" stop-color="#2FFFD0"/><stop offset="0.625" stop-color="#00E5FF"/><stop offset="0.6354" stop-color="#00A8FF"/><stop offset="0.6458" stop-color="#0072FF"/><stop offset="0.6562" stop-color="#0043FF"/><stop offset="0.6667" stop-color="#001CFF"/><stop offset="0.6771" stop-color="#0000FF"/><stop offset="0.6875" stop-color="#0000EA"/><stop offset="0.6979" stop-color="#0000DA"/><stop offset="0.7083" stop-color="#0000CB"/><stop offset="0.75" stop-color="#0000A8"/><stop offset="0.7917" stop-color="#000095"/><stop offset="0.8333" stop-color="#00008B"/><stop offset="0.875" stop-color="#000086"/><stop offset="0.9167" stop-color="#000083"/><stop offset="0.9583" stop-color="#000082"/><stop offset="1" stop-color="#000081"/></linearGradient>
<linearGradient id="h51" gradientUnits="userSpaceOnUse" x1="95.38" y1="0" x2="354.76" y2="0"><stop offset="0" stop-color="#00008F"/><stop offset="0.0417" stop-color="#000093"/><stop offset="0.0833" stop-color="#000099"/><stop offset="0.125" stop-color="#0000A2"/><stop offset="0.1667" stop-color="#0000AD"/><stop offset="0.2083" stop-color="#0000BC"/><stop offset="0.25" stop-color="#0000D4"/><stop offset="0.2917" stop-color="#0000F8"/><stop offset="0.3021" stop-color="#0006FF"/><stop offset="0.3125" stop-color="#0018FF"/><stop offset="0.3229" stop-color="#002FFF"/><stop offset="0.3333" stop-color="#0049FF"/><stop offset="0.3438" stop-color="#0068FF"/><stop offset="0.3542" stop-color="#008EFF"/><stop offset="0.3646" stop-color="#00BEFF"/><stop offset="0.375" stop-color="#00FCFF"/><stop offset="0.3854" stop-color="#49FFB6"/><stop offset="0.3958" stop-color="#99FF66"/><stop offset="0.4062" stop-color="#ECFF13"/><stop offset="0.4167" stop-color="#FFC800"/><stop offset="0.4271" stop-color="#FF8300"/><stop offset="0.4375" stop-color="#FF4600"/><stop offset="0.4479" stop-color="#FF0F00"/><stop offset="0.4583" stop-color="#DE0000"/><stop offset="0.4688" stop-color="#B70000"/><stop offset="0.4792" stop-color="#9B0000"/><stop offset="0.4896" stop-color="#8A0000"/><stop offset="0.5" stop-color="#850000"/><stop offset="0.5104" stop-color="#8B0000"/><stop offset="0.5208" stop-color="#9E0000"/><stop offset="0.5312" stop-color="#B90000"/><stop offset="0.5417" stop-color="#DF0000"/><stop offset="0.5521" stop-color="#FF0F00"/><stop offset="0.5625" stop-color="#FF4600"/><stop offset="0.5729" stop-color="#FF8800"/><stop offset="0.5833" stop-color="#FFD200"/><stop offset="0.5938" stop-color="#D6FF29"/><stop offset="0.6042" stop-color="#7FFF80"/><stop offset="0.6146" stop-color="#2CFFD3"/><stop offset="0.625" stop-color="#00E0FF"/><stop offset="0.6354" stop-color="#00A3FF"/><stop offset="0.6458" stop-color="#006CFF"/><stop offset="0.6562" stop-color="#003EFF"/><stop offset="0.6667" stop-color="#0018FF"/><stop offset="0.6771" stop-color="#0000FB"/><stop offset="0.6875" stop-color="#0000E6"/><stop offset="0.6979" stop-color="#0000D6"/><stop offset="0.7083" stop-color="#0000C8"/><stop offset="0.75" stop-color="#0000A6"/><stop offset="0.7917" stop-color="#000094"/><stop offset="0.8333" stop-color="#00008A"/><stop offset="0.875" stop-color="#000085"/><stop offset="0.9167" stop-color="#000083"/><stop offset="0.9583" stop-color="#000081"/><stop offset="1" stop-color="#000081"/></linearGradient>
<linearGradient id="h54" gradientUnits="userSpaceOnUse" x1="104.35" y1="0" x2="363.73" y2="0"><stop offset="0" stop-color="#00008E"/><stop offset="0.0417" stop-color="#000092"/><stop offset="0.0833" stop-color="#000098"/><stop offset="0.125" stop-color="#0000A0"/><stop offset="0.1667" stop-color="#0000AA"/><stop offset="0.2083" stop-color="#0000B8"/><stop offset="0.25" stop-color="#0000CE"/><stop offset="0.2917" stop-color="#0000F1"/><stop offset="0.3021" stop-color="#0000FF"/><stop offset="0.3125" stop-color="#0011FF"/><stop offset="0.3229" stop-color="#0027FF"/><stop offset="0.3333" stop-color="#0040FF"/><stop offset="0.3438" stop-color="#005FFF"/><stop offset="0.3542" stop-color="#0086FF"/><stop offset="0.3646" stop-color="#00B5FF"/><stop offset="0.375" stop-color="#00F1FF"/><stop offset="0.3854" stop-color="#3DFFC2"/><stop offset="0.3958" stop-color="#8CFF73"/><stop offset="0.4062" stop-color="#DFFF20"/><stop offset="0.4167" stop-color="#FFD100"/><stop offset="0.4271" stop-color="#FF8700"/><stop offset="0.4375" stop-color="#FF4800"/><stop offset="0.4479" stop-color="#FF0F00"/><stop offset="0.4583" stop-color="#DD0000"/><stop offset="0.4688" stop-color="#B50000"/><stop offset="0.4792" stop-color="#990000"/><stop offset="0.4896" stop-color="#880000"/><stop offset="0.5" stop-color="#820000"/><stop offset="0.5104" stop-color="#890000"/><stop offset="0.5208" stop-color="#9C0000"/><stop offset="0.5312" stop-color="#B80000"/><stop offset="0.5417" stop-color="#DE0000"/><stop offset="0.5521" stop-color="#FF0E00"/><stop offset="0.5625" stop-color="#FF4700"/><stop offset="0.5729" stop-color="#FF8A00"/><stop offset="0.5833" stop-color="#FFD600"/><stop offset="0.5938" stop-color="#D2FF2D"/><stop offset="0.6042" stop-color="#7BFF84"/><stop offset="0.6146" stop-color="#28FFD7"/><stop offset="0.625" stop-color="#00DCFF"/><stop offset="0.6354" stop-color="#009EFF"/><stop offset="0.6458" stop-color="#0067FF"/><stop offset="0.6562" stop-color="#0039FF"/><stop offset="0.6667" stop-color="#0013FF"/><stop offset="0.6771" stop-color="#0000F7"/><stop offset="0.6875" stop-color="#0000E2"/><stop offset="0.6979" stop-color="#0000D2"/><stop offset="0.7083" stop-color="#0000C5"/><stop offset="0.75" stop-color="#0000A5"/><stop offset="0.7917" stop-color="#000093"/><stop offset="0.8333" stop-color="#00008A"/><stop offset="0.875" stop-color="#000085"/><stop offset="0.9167" stop-color="#000083"/><stop offset="0.9583" stop-color="#000081"/><stop offset="1" stop-color="#000081"/></linearGradient>
<linearGradient id="h57" gradientUnits="userSpaceOnUse" x1="113.31" y1="0" x2="372.69" y2="0"><stop offset="0" stop-color="#00008E"/><stop offset="0.0417" stop-color="#000092"/><stop offset="0.0833" stop-color="#000097"/><stop offset="0.125" stop-color="#00009E"/><stop offset="0.1667" stop-color="#0000A7"/><stop offset="0.2083" stop-color="#0000B4"/><stop offset="0.25" stop-color="#0000C9"/><stop offset="0.2917" stop-color="#0000EB"/><stop offset="0.3021" stop-color="#0000F9"/><stop offset="0.3125" stop-color="#000AFF"/><stop offset="0.3229" stop-color="#001FFF"/><stop offset="0.3333" stop-color="#0038FF"/><stop offset="0.3438" stop-color="#0057FF"/><stop offset="0.3542" stop-color="#007DFF"/><stop offset="0.3646" stop-color="#00ACFF"/><stop offset="0.375" stop-color="#00E7FF"/><stop offset="0.3854" stop-color="#31FFCE"/><stop offset="0.3958" stop-color="#80FF7F"/><stop offset="0.4062" stop-color="#D2FF2D"/><stop offset="0.4167" stop-color="#FFDA00"/><stop offset="0.4271" stop-color="#FF8C00"/><stop offset="0.4375" stop-color="#FF4A00"/><stop offset="0.4479" stop-color="#FF1000"/><stop offset="0.4583" stop-color="#DC0000"/><stop offset="0.4688" stop-color="#B40000"/><stop offset="0.4792" stop-color="#970000"/><stop offset="0.4896" stop-color="#850000"/><stop offset="0.5" stop-color="#800000"/><stop offset="0.5104" stop-color="#860000"/><stop offset="0.5208" stop-color="#9A0000"/><stop offset="0.5312" stop-color="#B60000"/><stop offset="0.5417" stop-color="#DD0000"/><stop offset="0.5521" stop-color="#FF0E00"/><stop offset="0.5625" stop-color="#FF4700"/><stop offset="0.5729" stop-color="#FF8C00"/><stop offset="0.5833" stop-color="#FFD900"/><stop offset="0.5938" stop-color="#CFFF30"/><stop offset="0.6042" stop-color="#77FF88"/><stop offset="0.6146" stop-color="#24FFDB"/><stop offset="0.625" stop-color="#00D9FF"/><stop offset="0.6354" stop-color="#0099FF"/><stop offset="0.6458" stop-color="#0061FF"/><stop offset="0.6562" stop-color="#0033FF"/><stop offset="0.6667" stop-color="#000FFF"/><stop offset="0.6771" stop-color="#0000F3"/><stop offset="0.6875" stop-color="#0000DE"/><stop offset="0.6979" stop-color="#0000CF"/><stop offset="0.7083" stop-color="#0000C2"/><stop offset="0.75" stop-color="#0000A3"/><stop offset="0.7917" stop-color="#000092"/><stop offset="0.8333" stop-color="#000089"/><stop offset="0.875" stop-color="#000085"/><stop offset="0.9167" stop-color="#000082"/><stop offset="0.9583" stop-color="#000081"/><stop offset="1" stop-color="#000081"/></linearGradient>
<linearGradient id="h60" gradientUnits="userSpaceOnUse" x1="122.28" y1="0" x2="381.66" y2="0"><stop offset="0" stop-color="#00008E"/><stop offset="0.0417" stop-color="#000091"/><stop offset="0.0833" stop-color="#000096"/><stop offset="0.125" stop-color="#00009C"/><stop offset="0.1667" stop-color="#0000A4"/><stop offset="0.2083" stop-color="#0000B1"/><stop offset="0.25" stop-color="#0000C4"/><stop offset="0.2917" stop-color="#0000E5"/><stop offset="0.3021" stop-color="#0000F2"/><stop offset="0.3125" stop-color="#0003FF"/><stop offset="0.3229" stop-color="#0017FF"/><stop offset="0.3333" stop-color="#0030FF"/><stop offset="0.3438" stop-color="#004EFF"/><stop offset="0.3542" stop-color="#0074FF"/><stop offset="0.3646" stop-color="#00A2FF"/><stop offset="0.375" stop-color="#00DCFF"/><stop offset="0.3854" stop-color="#25FFDA"/><stop offset="0.3958" stop-color="#73FF8C"/><stop offset="0.4062" stop-color="#C5FF3A"/><stop offset="0.4167" stop-color="#FFE300"/><stop offset="0.4271" stop-color="#FF9100"/><stop offset="0.4375" stop-color="#FF4C00"/><stop offset="0.4479" stop-color="#FF1000"/><stop offset="0.4583" stop-color="#DB0000"/><stop offset="0.4688" stop-color="#B20000"/><stop offset="0.4792" stop-color="#950000"/><stop offset="0.4896" stop-color="#830000"/><stop offset="0.5" stop-color="#800000"/><stop offset="0.5104" stop-color="#840000"/><stop offset="0.5208" stop-color="#980000"/><stop offset="0.5312" stop-color="#B50000"/><stop offset="0.5417" stop-color="#DC0000"/><stop offset="0.5521" stop-color="#FF0D00"/><stop offset="0.5625" stop-color="#FF4800"/><stop offset="0.5729" stop-color="#FF8E00"/><stop offset="0.5833" stop-color="#FFDC00"/><stop offset="0.5938" stop-color="#CBFF34"/><stop offset="0.6042" stop-color="#73FF8C"/><stop offset="0.6146" stop-color="#20FFDF"/><stop offset="0.625" stop-color="#00D5FF"/><stop offset="0.6354" stop-color="#0094FF"/><stop offset="0.6458" stop-color="#005CFF"/><stop offset="0.6562" stop-color="#002EFF"/><stop offset="0.6667" stop-color="#000BFF"/><stop offset="0.6771" stop-color="#0000EF"/><stop offset="0.6875" stop-color="#0000DB"/><stop offset="0.6979" stop-color="#0000CB"/><stop offset="0.7083" stop-color="#0000BF"/><stop offset="0.75" stop-color="#0000A2"/><stop offset="0.7917" stop-color="#000091"/><stop offset="0.8333" stop-color="#000089"/><stop offset="0.875" stop-color="#000084"/><stop offset="0.9167" stop-color="#000082"/><stop offset="0.9583" stop-color="#000081"/><stop offset="1" stop-color="#000080"/></linearGradient>
<linearGradient id="h63" gradientUnits="userSpaceOnUse" x1="131.24" y1="0" x2="390.62" y2="0"><stop offset="0" stop-color="#00008E"/><stop offset="0.0417" stop-color="#000090"/><stop offset="0.0833" stop-color="#000094"/><stop offset="0.125" stop-color="#00009A"/><stop offset="0.1667" stop-color="#0000A1"/><stop offset="0.2083" stop-color="#0000AD"/><stop offset="0.25" stop-color="#0000BF"/><stop offset="0.2917" stop-color="#0000DF"/><stop offset="0.3021" stop-color="#0000EC"/><stop offset="0.3125" stop-color="#0000FB"/><stop offset="0.3229" stop-color="#000FFF"/><stop offset="0.3333" stop-color="#0027FF"/><stop offset="0.3438" stop-color="#0046FF"/><stop offset="0.3542" stop-color="#006BFF"/><stop offset="0.3646" stop-color="#0099FF"/><stop offset="0.375" stop-color="#00D2FF"/><stop offset="0.3854" stop-color="#18FFE7"/><stop offset="0.3958" stop-color="#66FF99"/><stop offset="0.4062" stop-color="#B8FF47"/><stop offset="0.4167" stop-color="#FFEC00"/><stop offset="0.4271" stop-color="#FF9600"/><stop offset="0.4375" stop-color="#FF4F00"/><stop offset="0.4479" stop-color="#FF1000"/><stop offset="0.4583" stop-color="#DA0000"/><stop offset="0.4688" stop-color="#B00000"/><stop offset="0.4792" stop-color="#920000"/><stop offset="0.4896" stop-color="#800000"/><stop offset="0.5" stop-color="#800000"/><stop offset="0.5104" stop-color="#820000"/><stop offset="0.5208" stop-color="#960000"/><stop offset="0.5312" stop-color="#B30000"/><stop offset="0.5417" stop-color="#DB0000"/><stop offset="0.5521" stop-color="#FF0D00"/><stop offset="0.5625" stop-color="#FF4800"/><stop offset="0.5729" stop-color="#FF9000"/><stop offset="0.5833" stop-color="#FFE000"/><stop offset="0.5938" stop-color="#C7FF38"/><stop offset="0.6042" stop-color="#6FFF90"/><stop offset="0.6146" stop-color="#1DFFE2"/><stop offset="0.625" stop-color="#00D1FF"/><stop offset="0.6354" stop-color="#008FFF"/><stop offset="0.6458" stop-color="#0056FF"/><stop offset="0.6562" stop-color="#0029FF"/><stop offset="0.6667" stop-color="#0006FF"/><stop offset="0.6771" stop-color="#0000EB"/><stop offset="0.6875" stop-color="#0000D7"/><stop offset="0.6979" stop-color="#0000C7"/><stop offset="0.7083" stop-color="#0000BC"/><stop offset="0.75" stop-color="#0000A0"/><stop offset="0.7917" stop-color="#000090"/><stop offset="0.8333" stop-color="#000088"/><stop offset="0.875" stop-color="#000084"/><stop offset="0.9167" stop-color="#000082"/><stop offset="0.9583" stop-color="#000081"/><stop offset="1" stop-color="#000080"/></linearGradient>
<linearGradient id="h66" gradientUnits="userSpaceOnUse" x1="140.21" y1="0" x2="399.59" y2="0"><stop offset="0" stop-color="#00008E"/><stop offset="0.0417" stop-color="#000090"/><stop offset="0.0833" stop-color="#000093"/><stop offset="0.125" stop-color="#000098"/><stop offset="0.1667" stop-color="#00009F"/><stop offset="0.2083" stop-color="#0000A9"/><stop offset="0.25" stop-color="#0000B9"/><stop offset="0.2917" stop-color="#0000D9"/><stop offset="0.3021" stop-color="#0000E5"/><stop offset="0.3125" stop-color="#0000F4"/><stop offset="0.3229" stop-color="#0007FF"/><stop offset="0.3333" stop-color="#001FFF"/><stop offset="0.3438" stop-color="#003DFF"/><stop offset="0.3542" stop-color="#0063FF"/><stop offset="0.3646" stop-color="#0090FF"/><stop offset="0.375" stop-color="#00C8FF"/><stop offset="0.3854" stop-color="#0CFFF3"/><stop offset="0.3958" stop-color="#59FFA6"/><stop offset="0.4062" stop-color="#ACFF53"/><stop offset="0.4167" stop-color="#FFF500"/><stop offset="0.4271" stop-color="#FF9B00"/><stop offset="0.4375" stop-color="#FF5100"/><stop offset="0.4479" stop-color="#FF1100"/><stop offset="0.4583" stop-color="#D90000"/><stop offset="0.4688" stop-color="#AE0000"/><stop offset="0.4792" stop-color="#900000"/><stop offset="0.4896" stop-color="#800000"/><stop offset="0.5104" stop-color="#800000"/><stop offset="0.5208" stop-color="#940000"/><stop offset="0.5312" stop-color="#B20000"/><stop offset="0.5417" stop-color="#DA0000"/><stop offset="0.5521" stop-color="#FF0D00"/><stop offset="0.5625" stop-color="#FF4900"/><stop offset="0.5729" stop-color="#FF9200"/><stop offset="0.5833" stop-color="#FFE300"/><stop offset="0.5938" stop-color="#C3FF3C"/><stop offset="0.6042" stop-color="#6CFF93"/><stop offset="0.6146" stop-color="#19FFE6"/><stop offset="0.625" stop-color="#00CDFF"/><stop offset="0.6354" stop-color="#008AFF"/><stop offset="0.6458" stop-color="#0051FF"/><stop offset="0.6562" stop-color="#0024FF"/><stop offset="0.6667" stop-color="#0002FF"/><stop offset="0.6771" stop-color="#0000E7"/><stop offset="0.6875" stop-color="#0000D3"/><stop offset="0.6979" stop-color="#0000C4"/><stop offset="0.7083" stop-color="#0000B9"/><stop offset="0.75" stop-color="#00009F"/><stop offset="0.7917" stop-color="#00008F"/><stop offset="0.8333" stop-color="#000088"/><stop offset="0.875" stop-color="#000084"/><stop offset="0.9167" stop-color="#000082"/><stop offset="0.9583" stop-color="#000081"/><stop offset="1" stop-color="#000080"/></linearGradient>
<linearGradient id="h69" gradientUnits="userSpaceOnUse" x1="149.17" y1="0" x2="408.55" y2="0"><stop offset="0" stop-color="#00008D"/><stop offset="0.0417" stop-color="#00008F"/><stop offset="0.0833" stop-color="#000092"/><stop offset="0.125" stop-color="#000096"/><stop offset="0.1667" stop-color="#00009C"/><stop offset="0.2083" stop-color="#0000A5"/><stop offset="0.25" stop-color="#0000B4"/><stop offset="0.2917" stop-color="#0000D3"/><stop offset="0.3021" stop-color="#0000DF"/><stop offset="0.3125" stop-color="#0000ED"/><stop offset="0.3229" stop-color="#0000FE"/><stop offset="0.3333" stop-color="#0016FF"/><stop offset="0.3438" stop-color="#0035FF"/><stop offset="0.3542" stop-color="#005AFF"/><stop offset="0.3646" stop-color="#0087FF"/><stop offset="0.375" stop-color="#00BDFF"/><stop offset="0.3854" stop-color="#00FFFF"/><stop offset="0.3958" stop-color="#4CFFB3"/><stop offset="0.4062" stop-color="#9FFF60"/><stop offset="0.4167" stop-color="#FFFE00"/><stop offset="0.4271" stop-color="#FFA000"/><stop offset="0.4375" stop-color="#FF5300"/><stop offset="0.4479" stop-color="#FF1100"/><stop offset="0.4583" stop-color="#D80000"/><stop offset="0.4688" stop-color="#AC0000"/><stop offset="0.4792" stop-color="#8E0000"/><stop offset="0.4896" stop-color="#800000"/><stop offset="0.5104" stop-color="#800000"/><stop offset="0.5208" stop-color="#930000"/><stop offset="0.5312" stop-color="#B00000"/><stop offset="0.5417" stop-color="#D90000"/><stop offset="0.5521" stop-color="#FF0C00"/><stop offset="0.5625" stop-color="#FF4900"/><stop offset="0.5729" stop-color="#FF9400"/><stop offset="0.5833" stop-color="#FFE600"/><stop offset="0.5938" stop-color="#BFFF40"/><stop offset="0.6042" stop-color="#68FF97"/><stop offset="0.6146" stop-color="#15FFEA"/><stop offset="0.625" stop-color="#00C9FF"/><stop offset="0.6354" stop-color="#0085FF"/><stop offset="0.6458" stop-color="#004BFF"/><stop offset="0.6562" stop-color="#001FFF"/><stop offset="0.6667" stop-color="#0000FD"/><stop offset="0.6771" stop-color="#0000E3"/><stop offset="0.6875" stop-color="#0000CF"/><stop offset="0.6979" stop-color="#0000C0"/><stop offset="0.7083" stop-color="#0000B6"/><stop offset="0.75" stop-color="#00009D"/><stop offset="0.7917" stop-color="#00008E"/><stop offset="0.8333" stop-color="#000087"/><stop offset="0.875" stop-color="#000084"/><stop offset="0.9167" stop-color="#000082"/><stop offset="0.9583" stop-color="#000081"/><stop offset="1" stop-color="#000080"/></linearGradient>
<linearGradient id="h72" gradientUnits="userSpaceOnUse" x1="158.27" y1="0" x2="417.65" y2="0"><stop offset="0" stop-color="#00008C"/><stop offset="0.0417" stop-color="#00008E"/><stop offset="0.0833" stop-color="#000091"/><stop offset="0.125" stop-color="#000095"/><stop offset="0.1667" stop-color="#00009B"/><stop offset="0.2083" stop-color="#0000A4"/><stop offset="0.25" stop-color="#0000B2"/><stop offset="0.2917" stop-color="#0000CF"/><stop offset="0.3021" stop-color="#0000DB"/><stop offset="0.3125" stop-color="#0000E9"/><stop offset="0.3229" stop-color="#0000F9"/><stop offset="0.3333" stop-color="#0010FF"/><stop offset="0.3438" stop-color="#002DFF"/><stop offset="0.3542" stop-color="#0051FF"/><stop offset="0.3646" stop-color="#007DFF"/><stop offset="0.375" stop-color="#00B4FF"/><stop offset="0.3854" stop-color="#00F6FF"/><stop offset="0.3958" stop-color="#43FFBC"/><stop offset="0.4062" stop-color="#97FF68"/><stop offset="0.4167" stop-color="#F9FF06"/><stop offset="0.4271" stop-color="#FFA600"/><stop offset="0.4375" stop-color="#FF5600"/><stop offset="0.4479" stop-color="#FF1100"/><stop offset="0.4583" stop-color="#D50000"/><stop offset="0.4688" stop-color="#A80000"/><stop offset="0.4792" stop-color="#890000"/><stop offset="0.4896" stop-color="#800000"/><stop offset="0.5104" stop-color="#800000"/><stop offset="0.5208" stop-color="#8D0000"/><stop offset="0.5312" stop-color="#AA0000"/><stop offset="0.5417" stop-color="#D30000"/><stop offset="0.5521" stop-color="#FF0700"/><stop offset="0.5625" stop-color="#FF4600"/><stop offset="0.5729" stop-color="#FF9200"/><stop offset="0.5833" stop-color="#FFE700"/><stop offset="0.5938" stop-color="#BDFF42"/><stop offset="0.6042" stop-color="#64FF9B"/><stop offset="0.6146" stop-color="#10FFEF"/><stop offset="0.625" stop-color="#00C4FF"/><stop offset="0.6354" stop-color="#0081FF"/><stop offset="0.6458" stop-color="#0048FF"/><stop offset="0.6562" stop-color="#001DFF"/><stop offset="0.6667" stop-color="#0000FB"/><stop offset="0.6771" stop-color="#0000E2"/><stop offset="0.6875" stop-color="#0000CE"/><stop offset="0.6979" stop-color="#0000C0"/><stop offset="0.7083" stop-color="#0000B6"/><stop offset="0.75" stop-color="#00009D"/><stop offset="0.7917" stop-color="#00008E"/><stop offset="0.8333" stop-color="#000087"/><stop offset="0.875" stop-color="#000084"/><stop offset="0.9167" stop-color="#000082"/><stop offset="0.9583" stop-color="#000081"/><stop offset="1" stop-color="#000080"/></linearGradient>
<linearGradient id="h75" gradientUnits="userSpaceOnUse" x1="167.43" y1="0" x2="426.81" y2="0"><stop offset="0" stop-color="#00008B"/><stop offset="0.0417" stop-color="#00008D"/><stop offset="0.0833" stop-color="#000090"/><stop offset="0.125" stop-color="#000094"/><stop offset="0.1667" stop-color="#000099"/><stop offset="0.2083" stop-color="#0000A2"/><stop offset="0.25" stop-color="#0000B1"/><stop offset="0.2917" stop-color="#0000CC"/><stop offset="0.3021" stop-color="#0000D7"/><stop offset="0.3125" stop-color="#0000E4"/><stop offset="0.3229" stop-color="#0000F5"/><stop offset="0.3333" stop-color="#000AFF"/><stop offset="0.3438" stop-color="#0025FF"/><stop offset="0.3542" stop-color="#0048FF"/><stop offset="0.3646" stop-color="#0074FF"/><stop offset="0.375" stop-color="#00AAFF"/><stop offset="0.3854" stop-color="#00ECFF"/><stop offset="0.3958" stop-color="#39FFC6"/><stop offset="0.4062" stop-color="#90FF6F"/><stop offset="0.4167" stop-color="#F2FF0D"/><stop offset="0.4271" stop-color="#FFAB00"/><stop offset="0.4375" stop-color="#FF5800"/><stop offset="0.4479" stop-color="#FF1100"/><stop offset="0.4583" stop-color="#D30000"/><stop offset="0.4688" stop-color="#A40000"/><stop offset="0.4792" stop-color="#840000"/><stop offset="0.4896" stop-color="#800000"/><stop offset="0.5104" stop-color="#800000"/><stop offset="0.5208" stop-color="#870000"/><stop offset="0.5312" stop-color="#A50000"/><stop offset="0.5417" stop-color="#CE0000"/><stop offset="0.5521" stop-color="#FF0100"/><stop offset="0.5625" stop-color="#FF4200"/><stop offset="0.5729" stop-color="#FF9100"/><stop offset="0.5833" stop-color="#FFE800"/><stop offset="0.5938" stop-color="#BAFF45"/><stop offset="0.6042" stop-color="#60FF9F"/><stop offset="0.6146" stop-color="#0CFFF3"/><stop offset="0.625" stop-color="#00C0FF"/><stop offset="0.6354" stop-color="#007DFF"/><stop offset="0.6458" stop-color="#0045FF"/><stop offset="0.6562" stop-color="#001AFF"/><stop offset="0.6667" stop-color="#0000F9"/><stop offset="0.6771" stop-color="#0000E0"/><stop offset="0.6875" stop-color="#0000CD"/><stop offset="0.6979" stop-color="#0000BF"/><stop offset="0.7083" stop-color="#0000B5"/><stop offset="0.75" stop-color="#00009C"/><stop offset="0.7917" stop-color="#00008E"/><stop offset="0.8333" stop-color="#000088"/><stop offset="0.875" stop-color="#000084"/><stop offset="0.9167" stop-color="#000082"/><stop offset="0.9583" stop-color="#000081"/><stop offset="1" stop-color="#000081"/></linearGradient>
<linearGradient id="h78" gradientUnits="userSpaceOnUse" x1="176.59" y1="0" x2="435.97" y2="0"><stop offset="0" stop-color="#00008A"/><stop offset="0.0417" stop-color="#00008C"/><stop offset="0.0833" stop-color="#00008E"/><stop offset="0.125" stop-color="#000092"/><stop offset="0.1667" stop-color="#000098"/><stop offset="0.2083" stop-color="#0000A1"/><stop offset="0.25" stop-color="#0000AF"/><stop offset="0.2917" stop-color="#0000C9"/><stop offset="0.3021" stop-color="#0000D4"/><stop offset="0.3125" stop-color="#0000E0"/><stop offset="0.3229" stop-color="#0000F0"/><stop offset="0.3333" stop-color="#0004FF"/><stop offset="0.3438" stop-color="#001DFF"/><stop offset="0.3542" stop-color="#003FFF"/><stop offset="0.3646" stop-color="#006BFF"/><stop offset="0.375" stop-color="#00A1FF"/><stop offset="0.3854" stop-color="#00E2FF"/><stop offset="0.3958" stop-color="#2FFFD0"/><stop offset="0.4062" stop-color="#88FF77"/><stop offset="0.4167" stop-color="#EBFF14"/><stop offset="0.4271" stop-color="#FFB100"/><stop offset="0.4375" stop-color="#FF5B00"/><stop offset="0.4479" stop-color="#FF1000"/><stop offset="0.4583" stop-color="#D10000"/><stop offset="0.4688" stop-color="#A10000"/><stop offset="0.4792" stop-color="#800000"/><stop offset="0.5104" stop-color="#800000"/><stop offset="0.5208" stop-color="#820000"/><stop offset="0.5312" stop-color="#9F0000"/><stop offset="0.5417" stop-color="#C80000"/><stop offset="0.5521" stop-color="#FB0000"/><stop offset="0.5625" stop-color="#FF3E00"/><stop offset="0.5729" stop-color="#FF8F00"/><stop offset="0.5833" stop-color="#FFE800"/><stop offset="0.5938" stop-color="#B8FF47"/><stop offset="0.6042" stop-color="#5CFFA3"/><stop offset="0.6146" stop-color="#07FFF8"/><stop offset="0.625" stop-color="#00BBFF"/><stop offset="0.6354" stop-color="#007AFF"/><stop offset="0.6458" stop-color="#0042FF"/><stop offset="0.6562" stop-color="#0018FF"/><stop offset="0.6667" stop-color="#0000F7"/><stop offset="0.6771" stop-color="#0000DF"/><stop offset="0.6875" stop-color="#0000CC"/><stop offset="0.6979" stop-color="#0000BE"/><stop offset="0.7083" stop-color="#0000B4"/><stop offset="0.75" stop-color="#00009C"/><stop offset="0.7917" stop-color="#00008E"/><stop offset="0.8333" stop-color="#000088"/><stop offset="0.875" stop-color="#000084"/><stop offset="0.9167" stop-color="#000083"/><stop offset="0.9583" stop-color="#000082"/><stop offset="1" stop-color="#000081"/></linearGradient>
<linearGradient id="h81" gradientUnits="userSpaceOnUse" x1="185.74" y1="0" x2="445.12" y2="0"><stop offset="0" stop-color="#000089"/><stop offset="0.0417" stop-color="#00008B"/><stop offset="0.0833" stop-color="#00008D"/><stop offset="0.125" stop-color="#000091"/><stop offset="0.1667" stop-color="#000097"/><stop offset="0.2083" stop-color="#0000A0"/><stop offset="0.25" stop-color="#0000AD"/><stop offset="0.2917" stop-color="#0000C6"/><stop offset="0.3021" stop-color="#0000D0"/><stop offset="0.3125" stop-color="#0000DC"/><stop offset="0.3229" stop-color="#0000EB"/><stop offset="0.3333" stop-color="#0000FD"/><stop offset="0.3438" stop-color="#0015FF"/><stop offset="0.3542" stop-color="#0036FF"/><stop offset="0.3646" stop-color="#0062FF"/><stop offset="0.375" stop-color="#0098FF"/><stop offset="0.3854" stop-color="#00D8FF"/><stop offset="0.3958" stop-color="#26FFD9"/><stop offset="0.4062" stop-color="#80FF7F"/><stop offset="0.4167" stop-color="#E4FF1B"/><stop offset="0.4271" stop-color="#FFB700"/><stop offset="0.4375" stop-color="#FF5D00"/><stop offset="0.4479" stop-color="#FF1000"/><stop offset="0.4583" stop-color="#CF0000"/><stop offset="0.4688" stop-color="#9D0000"/><stop offset="0.4792" stop-color="#800000"/><stop offset="0.5208" stop-color="#800000"/><stop offset="0.5312" stop-color="#990000"/><stop offset="0.5417" stop-color="#C20000"/><stop offset="0.5521" stop-color="#F50000"/><stop offset="0.5625" stop-color="#FF3A00"/><stop offset="0.5729" stop-color="#FF8D00"/><stop offset="0.5833" stop-color="#FFE900"/><stop offset="0.5938" stop-color="#B6FF49"/><stop offset="0.6042" stop-color="#59FFA6"/><stop offset="0.6146" stop-color="#02FFFD"/><stop offset="0.625" stop-color="#00B7FF"/><stop offset="0.6354" stop-color="#0076FF"/><stop offset="0.6458" stop-color="#0040FF"/><stop offset="0.6562" stop-color="#0016FF"/><stop offset="0.6667" stop-color="#0000F6"/><stop offset="0.6771" stop-color="#0000DE"/><stop offset="0.6875" stop-color="#0000CB"/><stop offset="0.6979" stop-color="#0000BE"/><stop offset="0.7083" stop-color="#0000B4"/><stop offset="0.75" stop-color="#00009B"/><stop offset="0.7917" stop-color="#00008E"/><stop offset="0.8333" stop-color="#000088"/><stop offset="0.875" stop-color="#000085"/><stop offset="0.9167" stop-color="#000083"/><stop offset="0.9583" stop-color="#000082"/><stop offset="1" stop-color="#000081"/></linearGradient>
<linearGradient id="h84" gradientUnits="userSpaceOnUse" x1="194.9" y1="0" x2="454.28" y2="0"><stop offset="0" stop-color="#000088"/><stop offset="0.0417" stop-color="#00008A"/><stop offset="0.0833" stop-color="#00008C"/><stop offset="0.125" stop-color="#000090"/><stop offset="0.1667" stop-color="#000096"/><stop offset="0.2083" stop-color="#00009E"/><stop offset="0.25" stop-color="#0000AC"/><stop offset="0.2917" stop-color="#0000C3"/><stop offset="0.3021" stop-color="#0000CC"/><stop offset="0.3125" stop-color="#0000D8"/><stop offset="0.3229" stop-color="#0000E6"/><stop offset="0.3333" stop-color="#0000F6"/><stop offset="0.3438" stop-color="#000EFF"/><stop offset="0.3542" stop-color="#002DFF"/><stop offset="0.3646" stop-color="#0059FF"/><stop offset="0.375" stop-color="#008EFF"/><stop offset="0.3854" stop-color="#00CEFF"/><stop offset="0.3958" stop-color="#1CFFE3"/><stop offset="0.4062" stop-color="#78FF87"/><stop offset="0.4167" stop-color="#DDFF22"/><stop offset="0.4271" stop-color="#FFBC00"/><stop offset="0.4375" stop-color="#FF6000"/><stop offset="0.4479" stop-color="#FF1000"/><stop offset="0.4583" stop-color="#CC0000"/><stop offset="0.4688" stop-color="#990000"/><stop offset="0.4792" stop-color="#800000"/><stop offset="0.5208" stop-color="#800000"/><stop offset="0.5312" stop-color="#940000"/><stop offset="0.5417" stop-color="#BC0000"/><stop offset="0.5521" stop-color="#F00000"/><stop offset="0.5625" stop-color="#FF3600"/><stop offset="0.5729" stop-color="#FF8B00"/><stop offset="0.5833" stop-color="#FFE900"/><stop offset="0.5938" stop-color="#B3FF4C"/><stop offset="0.6042" stop-color="#55FFAA"/><stop offset="0.6146" stop-color="#00FCFF"/><stop offset="0.625" stop-color="#00B2FF"/><stop offset="0.6354" stop-color="#0072FF"/><stop offset="0.6458" stop-color="#003DFF"/><stop offset="0.6562" stop-color="#0013FF"/><stop offset="0.6667" stop-color="#0000F4"/><stop offset="0.6771" stop-color="#0000DD"/><stop offset="0.6875" stop-color="#0000CA"/><stop offset="0.6979" stop-color="#0000BD"/><stop offset="0.7083" stop-color="#0000B3"/><stop offset="0.75" stop-color="#00009B"/><stop offset="0.7917" stop-color="#00008E"/><stop offset="0.8333" stop-color="#000088"/><stop offset="0.875" stop-color="#000085"/><stop offset="0.9167" stop-color="#000083"/><stop offset="0.9583" stop-color="#000082"/><stop offset="1" stop-color="#000081"/></linearGradient>
<linearGradient id="h87" gradientUnits="userSpaceOnUse" x1="204.06" y1="0" x2="463.44" y2="0"><stop offset="0" stop-color="#000087"/><stop offset="0.0417" stop-color="#000088"/><stop offset="0.0833" stop-color="#00008B"/><stop offset="0.125" stop-color="#00008F"/><stop offset="0.1667" stop-color="#000095"/><stop offset="0.2083" stop-color="#00009D"/><stop offset="0.25" stop-color="#0000AA"/><stop offset="0.2917" stop-color="#0000C0"/><stop offset="0.3021" stop-color="#0000C9"/><stop offset="0.3125" stop-color="#0000D4"/><stop offset="0.3229" stop-color="#0000E1"/><stop offset="0.3333" stop-color="#0000F0"/><stop offset="0.3438" stop-color="#0006FF"/><stop offset="0.3542" stop-color="#0024FF"/><stop offset="0.3646" stop-color="#004FFF"/><stop offset="0.375" stop-color="#0085FF"/><stop offset="0.3854" stop-color="#00C5FF"/><stop offset="0.3958" stop-color="#12FFED"/><stop offset="0.4062" stop-color="#71FF8E"/><stop offset="0.4167" stop-color="#D6FF29"/><stop offset="0.4271" stop-color="#FFC200"/><stop offset="0.4375" stop-color="#FF6300"/><stop offset="0.4479" stop-color="#FF1000"/><stop offset="0.4583" stop-color="#CA0000"/><stop offset="0.4688" stop-color="#950000"/><stop offset="0.4792" stop-color="#800000"/><stop offset="0.5208" stop-color="#800000"/><stop offset="0.5312" stop-color="#8E0000"/><stop offset="0.5417" stop-color="#B70000"/><stop offset="0.5521" stop-color="#EA0000"/><stop offset="0.5625" stop-color="#FF3300"/><stop offset="0.5729" stop-color="#FF8900"/><stop offset="0.5833" stop-color="#FFEA00"/><stop offset="0.5938" stop-color="#B1FF4E"/><stop offset="0.6042" stop-color="#51FFAE"/><stop offset="0.6146" stop-color="#00F7FF"/><stop offset="0.625" stop-color="#00AEFF"/><stop offset="0.6354" stop-color="#006EFF"/><stop offset="0.6458" stop-color="#003AFF"/><stop offset="0.6562" stop-color="#0011FF"/><stop offset="0.6667" stop-color="#0000F2"/><stop offset="0.6771" stop-color="#0000DB"/><stop offset="0.6875" stop-color="#0000C9"/><stop offset="0.6979" stop-color="#0000BC"/><stop offset="0.7083" stop-color="#0000B3"/><stop offset="0.75" stop-color="#00009A"/><stop offset="0.7917" stop-color="#00008E"/><stop offset="0.8333" stop-color="#000088"/><stop offset="0.875" stop-color="#000085"/><stop offset="0.9167" stop-color="#000083"/><stop offset="0.9583" stop-color="#000082"/><stop offset="1" stop-color="#000082"/></linearGradient>
<linearGradient id="h90" gradientUnits="userSpaceOnUse" x1="213.22" y1="0" x2="472.6" y2="0"><stop offset="0" stop-color="#000086"/><stop offset="0.0417" stop-color="#000087"/><stop offset="0.0833" stop-color="#00008A"/><stop offset="0.125" stop-color="#00008E"/><stop offset="0.1667" stop-color="#000093"/><stop offset="0.2083" stop-color="#00009B"/><stop offset="0.25" stop-color="#0000A8"/><stop offset="0.2917" stop-color="#0000BD"/><stop offset="0.3021" stop-color="#0000C6"/><stop offset="0.3125" stop-color="#0000D0"/><stop offset="0.3229" stop-color="#0000DD"/><stop offset="0.3333" stop-color="#0000EC"/><stop offset="0.3438" stop-color="#0000FF"/><stop offset="0.3542" stop-color="#001EFF"/><stop offset="0.3646" stop-color="#0049FF"/><stop offset="0.375" stop-color="#007EFF"/><stop offset="0.3854" stop-color="#00BEFF"/><stop offset="0.3958" stop-color="#0CFFF3"/><stop offset="0.4062" stop-color="#6DFF92"/><stop offset="0.4167" stop-color="#D3FF2C"/><stop offset="0.4271" stop-color="#FFC400"/><stop offset="0.4375" stop-color="#FF6200"/><stop offset="0.4479" stop-color="#FF0D00"/><stop offset="0.4583" stop-color="#C60000"/><stop offset="0.4688" stop-color="#900000"/><stop offset="0.4792" stop-color="#800000"/><stop offset="0.5208" stop-color="#800000"/><stop offset="0.5312" stop-color="#890000"/><stop offset="0.5417" stop-color="#B20000"/><stop offset="0.5521" stop-color="#E60000"/><stop offset="0.5625" stop-color="#FF2F00"/><stop offset="0.5729" stop-color="#FF8800"/><stop offset="0.5833" stop-color="#FFEA00"/><stop offset="0.5938" stop-color="#AFFF50"/><stop offset="0.6042" stop-color="#4EFFB1"/><stop offset="0.6146" stop-color="#00F2FF"/><stop offset="0.625" stop-color="#00A7FF"/><stop offset="0.6354" stop-color="#0068FF"/><stop offset="0.6458" stop-color="#0035FF"/><stop offset="0.6562" stop-color="#000CFF"/><stop offset="0.6667" stop-color="#0000EE"/><stop offset="0.6771" stop-color="#0000D9"/><stop offset="0.6875" stop-color="#0000C7"/><stop offset="0.6979" stop-color="#0000BB"/><stop offset="0.7083" stop-color="#0000B1"/><stop offset="0.75" stop-color="#000099"/><stop offset="0.7917" stop-color="#00008E"/><stop offset="0.8333" stop-color="#000088"/><stop offset="0.875" stop-color="#000085"/><stop offset="0.9167" stop-color="#000084"/><stop offset="0.9583" stop-color="#000082"/><stop offset="1" stop-color="#000082"/></linearGradient>
<linearGradient id="h93" gradientUnits="userSpaceOnUse" x1="222.66" y1="0" x2="482.04" y2="0"><stop offset="0" stop-color="#000085"/><stop offset="0.0417" stop-color="#000087"/><stop offset="0.0833" stop-color="#000089"/><stop offset="0.125" stop-color="#00008D"/><stop offset="0.1667" stop-color="#000092"/><stop offset="0.2083" stop-color="#00009A"/><stop offset="0.25" stop-color="#0000A7"/><stop offset="0.2917" stop-color="#0000BC"/><stop offset="0.3021" stop-color="#0000C5"/><stop offset="0.3125" stop-color="#0000CF"/><stop offset="0.3229" stop-color="#0000DC"/><stop offset="0.3333" stop-color="#0000EB"/><stop offset="0.3438" stop-color="#0000FE"/><stop offset="0.3542" stop-color="#001CFF"/><stop offset="0.3646" stop-color="#0048FF"/><stop offset="0.375" stop-color="#007EFF"/><stop offset="0.3854" stop-color="#00BFFF"/><stop offset="0.3958" stop-color="#0DFFF2"/><stop offset="0.4062" stop-color="#70FF8F"/><stop offset="0.4167" stop-color="#D8FF27"/><stop offset="0.4271" stop-color="#FFBD00"/><stop offset="0.4375" stop-color="#FF5A00"/><stop offset="0.4479" stop-color="#FF0400"/><stop offset="0.4583" stop-color="#BD0000"/><stop offset="0.4688" stop-color="#880000"/><stop offset="0.4792" stop-color="#800000"/><stop offset="0.5208" stop-color="#800000"/><stop offset="0.5312" stop-color="#840000"/><stop offset="0.5417" stop-color="#AE0000"/><stop offset="0.5521" stop-color="#E40000"/><stop offset="0.5625" stop-color="#FF2E00"/><stop offset="0.5729" stop-color="#FF8700"/><stop offset="0.5833" stop-color="#FFE900"/><stop offset="0.5938" stop-color="#AFFF50"/><stop offset="0.6042" stop-color="#4BFFB4"/><stop offset="0.6146" stop-color="#00EBFF"/><stop offset="0.625" stop-color="#009CFF"/><stop offset="0.6354" stop-color="#005EFF"/><stop offset="0.6458" stop-color="#002BFF"/><stop offset="0.6562" stop-color="#0004FF"/><stop offset="0.6667" stop-color="#0000E7"/><stop offset="0.6771" stop-color="#0000D3"/><stop offset="0.6875" stop-color="#0000C3"/><stop offset="0.6979" stop-color="#0000B8"/><stop offset="0.7083" stop-color="#0000AF"/><stop offset="0.75" stop-color="#000098"/><stop offset="0.7917" stop-color="#00008D"/><stop offset="0.8333" stop-color="#000088"/><stop offset="0.875" stop-color="#000085"/><stop offset="0.9167" stop-color="#000083"/><stop offset="0.9583" stop-color="#000082"/><stop offset="1" stop-color="#000081"/></linearGradient>
<linearGradient id="h96" gradientUnits="userSpaceOnUse" x1="232.09" y1="0" x2="491.47" y2="0"><stop offset="0" stop-color="#000085"/><stop offset="0.0417" stop-color="#000086"/><stop offset="0.0833" stop-color="#000088"/><stop offset="0.125" stop-color="#00008C"/><stop offset="0.1667" stop-color="#000091"/><stop offset="0.2083" stop-color="#000099"/><stop offset="0.25" stop-color="#0000A6"/><stop offset="0.2917" stop-color="#0000BB"/><stop offset="0.3021" stop-color="#0000C4"/><stop offset="0.3125" stop-color="#0000CE"/><stop offset="0.3229" stop-color="#0000DB"/><stop offset="0.3333" stop-color="#0000EA"/><stop offset="0.3438" stop-color="#0000FD"/><stop offset="0.3542" stop-color="#001BFF"/><stop offset="0.3646" stop-color="#0047FF"/><stop offset="0.375" stop-color="#007EFF"/><stop offset="0.3854" stop-color="#00BFFF"/><stop offset="0.3958" stop-color="#0EFFF1"/><stop offset="0.4062" stop-color="#72FF8D"/><stop offset="0.4167" stop-color="#DCFF23"/><stop offset="0.4271" stop-color="#FFB700"/><stop offset="0.4375" stop-color="#FF5200"/><stop offset="0.4479" stop-color="#FB0000"/><stop offset="0.4583" stop-color="#B40000"/><stop offset="0.4688" stop-color="#800000"/><stop offset="0.5312" stop-color="#800000"/><stop offset="0.5417" stop-color="#AB0000"/><stop offset="0.5521" stop-color="#E20000"/><stop offset="0.5625" stop-color="#FF2C00"/><stop offset="0.5729" stop-color="#FF8500"/><stop offset="0.5833" stop-color="#FFE800"/><stop offset="0.5938" stop-color="#AFFF50"/><stop offset="0.6042" stop-color="#48FFB7"/><stop offset="0.6146" stop-color="#00E5FF"/><stop offset="0.625" stop-color="#0092FF"/><stop offset="0.6354" stop-color="#0053FF"/><stop offset="0.6458" stop-color="#0021FF"/><stop offset="0.6562" stop-color="#0000FA"/><stop offset="0.6667" stop-color="#0000DF"/><stop offset="0.6771" stop-color="#0000CD"/><stop offset="0.6875" stop-color="#0000BF"/><stop offset="0.6979" stop-color="#0000B4"/><stop offset="0.7083" stop-color="#0000AC"/><stop offset="0.75" stop-color="#000097"/><stop offset="0.7917" stop-color="#00008C"/><stop offset="0.8333" stop-color="#000087"/><stop offset="0.875" stop-color="#000085"/><stop offset="0.9167" stop-color="#000083"/><stop offset="0.9583" stop-color="#000082"/><stop offset="1" stop-color="#000081"/></linearGradient>
<linearGradient id="h99" gradientUnits="userSpaceOnUse" x1="241.53" y1="0" x2="500.91" y2="0"><stop offset="0" stop-color="#000084"/><stop offset="0.0417" stop-color="#000085"/><stop offset="0.0833" stop-color="#000087"/><stop offset="0.125" stop-color="#00008B"/><stop offset="0.1667" stop-color="#000090"/><stop offset="0.2083" stop-color="#000098"/><stop offset="0.25" stop-color="#0000A5"/><stop offset="0.2917" stop-color="#0000BA"/><stop offset="0.3021" stop-color="#0000C3"/><stop offset="0.3125" stop-color="#0000CD"/><stop offset="0.3229" stop-color="#0000DA"/><stop offset="0.3333" stop-color="#0000E9"/><stop offset="0.3438" stop-color="#0000FC"/><stop offset="0.3542" stop-color="#001AFF"/><stop offset="0.3646" stop-color="#0046FF"/><stop offset="0.375" stop-color="#007DFF"/><stop offset="0.3854" stop-color="#00BFFF"/><stop offset="0.3958" stop-color="#0FFFF0"/><stop offset="0.4062" stop-color="#75FF8A"/><stop offset="0.4167" stop-color="#E1FF1E"/><stop offset="0.4271" stop-color="#FFB000"/><stop offset="0.4375" stop-color="#FF4B00"/><stop offset="0.4479" stop-color="#F20000"/><stop offset="0.4583" stop-color="#AC0000"/><stop offset="0.4688" stop-color="#800000"/><stop offset="0.5312" stop-color="#800000"/><stop offset="0.5417" stop-color="#A70000"/><stop offset="0.5521" stop-color="#E00000"/><stop offset="0.5625" stop-color="#FF2A00"/><stop offset="0.5729" stop-color="#FF8400"/><stop offset="0.5833" stop-color="#FFE800"/><stop offset="0.5938" stop-color="#AFFF50"/><stop offset="0.6042" stop-color="#45FFBA"/><stop offset="0.6146" stop-color="#00DEFF"/><stop offset="0.625" stop-color="#0087FF"/><stop offset="0.6354" stop-color="#0048FF"/><stop offset="0.6458" stop-color="#0018FF"/><stop offset="0.6562" stop-color="#0000F1"/><stop offset="0.6667" stop-color="#0000D8"/><stop offset="0.6771" stop-color="#0000C7"/><stop offset="0.6875" stop-color="#0000BA"/><stop offset="0.6979" stop-color="#0000B1"/><stop offset="0.7083" stop-color="#0000AA"/><stop offset="0.75" stop-color="#000096"/><stop offset="0.7917" stop-color="#00008C"/><stop offset="0.8333" stop-color="#000087"/><stop offset="0.875" stop-color="#000084"/><stop offset="0.9167" stop-color="#000083"/><stop offset="0.9583" stop-color="#000082"/><stop offset="1" stop-color="#000081"/></linearGradient>
<linearGradient id="h102" gradientUnits="userSpaceOnUse" x1="250.96" y1="0" x2="510.34" y2="0"><stop offset="0" stop-color="#000083"/><stop offset="0.0417" stop-color="#000085"/><stop offset="0.0833" stop-color="#000086"/><stop offset="0.125" stop-color="#000089"/><stop offset="0.1667" stop-color="#00008E"/><stop offset="0.2083" stop-color="#000096"/><stop offset="0.25" stop-color="#0000A4"/><stop offset="0.2917" stop-color="#0000B9"/><stop offset="0.3021" stop-color="#0000C2"/><stop offset="0.3125" stop-color="#0000CC"/><stop offset="0.3229" stop-color="#0000D9"/><stop offset="0.3333" stop-color="#0000E8"/><stop offset="0.3438" stop-color="#0000FA"/><stop offset="0.3542" stop-color="#0018FF"/><stop offset="0.3646" stop-color="#0045FF"/><stop offset="0.375" stop-color="#007DFF"/><stop offset="0.3854" stop-color="#00C0FF"/><stop offset="0.3958" stop-color="#10FFEF"/><stop offset="0.4062" stop-color="#78FF87"/><stop offset="0.4167" stop-color="#E6FF19"/><stop offset="0.4271" stop-color="#FFA900"/><stop offset="0.4375" stop-color="#FF4300"/><stop offset="0.4479" stop-color="#EA0000"/><stop offset="0.4583" stop-color="#A30000"/><stop offset="0.4688" stop-color="#800000"/><stop offset="0.5312" stop-color="#800000"/><stop offset="0.5417" stop-color="#A40000"/><stop offset="0.5521" stop-color="#DE0000"/><stop offset="0.5625" stop-color="#FF2800"/><stop offset="0.5729" stop-color="#FF8300"/><stop offset="0.5833" stop-color="#FFE700"/><stop offset="0.5938" stop-color="#AEFF51"/><stop offset="0.6042" stop-color="#43FFBC"/><stop offset="0.6146" stop-color="#00D8FF"/><stop offset="0.625" stop-color="#007CFF"/><stop offset="0.6354" stop-color="#003EFF"/><stop offset="0.6458" stop-color="#000EFF"/><stop offset="0.6562" stop-color="#0000E9"/><stop offset="0.6667" stop-color="#0000D0"/><stop offset="0.6771" stop-color="#0000C1"/><stop offset="0.6875" stop-color="#0000B6"/><stop offset="0.6979" stop-color="#0000AE"/><stop offset="0.7083" stop-color="#0000A7"/><stop offset="0.75" stop-color="#000094"/><stop offset="0.7917" stop-color="#00008B"/><stop offset="0.8333" stop-color="#000087"/><stop offset="0.875" stop-color="#000084"/><stop offset="0.9167" stop-color="#000083"/><stop offset="0.9583" stop-color="#000082"/><stop offset="1" stop-color="#000081"/></linearGradient>
<linearGradient id="h105" gradientUnits="userSpaceOnUse" x1="260.4" y1="0" x2="519.78" y2="0"><stop offset="0" stop-color="#000083"/><stop offset="0.0417" stop-color="#000084"/><stop offset="0.0833" stop-color="#000086"/><stop offset="0.125" stop-color="#000088"/><stop offset="0.1667" stop-color="#00008D"/><stop offset="0.2083" stop-color="#000095"/><stop offset="0.25" stop-color="#0000A3"/><stop offset="0.2917" stop-color="#0000B8"/><stop offset="0.3021" stop-color="#0000C1"/><stop offset="0.3125" stop-color="#0000CB"/><stop offset="0.3229" stop-color="#0000D8"/><stop offset="0.3333" stop-color="#0000E7"/><stop offset="0.3438" stop-color="#0000F9"/><stop offset="0.3542" stop-color="#0017FF"/><stop offset="0.3646" stop-color="#0044FF"/><stop offset="0.375" stop-color="#007DFF"/><stop offset="0.3854" stop-color="#00C0FF"/><stop offset="0.3958" stop-color="#11FFEE"/><stop offset="0.4062" stop-color="#7BFF84"/><stop offset="0.4167" stop-color="#EBFF14"/><stop offset="0.4271" stop-color="#FFA300"/><stop offset="0.4375" stop-color="#FF3B00"/><stop offset="0.4479" stop-color="#E10000"/><stop offset="0.4583" stop-color="#9A0000"/><stop offset="0.4688" stop-color="#800000"/><stop offset="0.5312" stop-color="#800000"/><stop offset="0.5417" stop-color="#A00000"/><stop offset="0.5521" stop-color="#DB0000"/><stop offset="0.5625" stop-color="#FF2600"/><stop offset="0.5729" stop-color="#FF8100"/><stop offset="0.5833" stop-color="#FFE600"/><stop offset="0.5938" stop-color="#AEFF51"/><stop offset="0.6042" stop-color="#40FFBF"/><stop offset="0.6146" stop-color="#00D1FF"/><stop offset="0.625" stop-color="#0071FF"/><stop offset="0.6354" stop-color="#0033FF"/><stop offset="0.6458" stop-color="#0004FF"/><stop offset="0.6562" stop-color="#0000E0"/><stop offset="0.6667" stop-color="#0000C8"/><stop offset="0.6771" stop-color="#0000BB"/><stop offset="0.6875" stop-color="#0000B2"/><stop offset="0.6979" stop-color="#0000AB"/><stop offset="0.7083" stop-color="#0000A5"/><stop offset="0.75" stop-color="#000093"/><stop offset="0.7917" stop-color="#00008A"/><stop offset="0.8333" stop-color="#000086"/><stop offset="0.875" stop-color="#000084"/><stop offset="0.9167" stop-color="#000082"/><stop offset="0.9583" stop-color="#000081"/><stop offset="1" stop-color="#000081"/></linearGradient>
<linearGradient id="h108" gradientUnits="userSpaceOnUse" x1="269.83" y1="0" x2="529.21" y2="0"><stop offset="0" stop-color="#000082"/><stop offset="0.0417" stop-color="#000083"/><stop offset="0.0833" stop-color="#000085"/><stop offset="0.125" stop-color="#000087"/><stop offset="0.1667" stop-color="#00008C"/><stop offset="0.2083" stop-color="#000094"/><stop offset="0.25" stop-color="#0000A2"/><stop offset="0.2917" stop-color="#0000B7"/><stop offset="0.3021" stop-color="#0000BF"/><stop offset="0.3125" stop-color="#0000CA"/><stop offset="0.3229" stop-color="#0000D7"/><stop offset="0.3333" stop-color="#0000E6"/><stop offset="0.3438" stop-color="#0000F8"/><stop offset="0.3542" stop-color="#0016FF"/><stop offset="0.3646" stop-color="#0043FF"/><stop offset="0.375" stop-color="#007CFF"/><stop offset="0.3854" stop-color="#00C0FF"/><stop offset="0.3958" stop-color="#12FFED"/><stop offset="0.4062" stop-color="#7EFF81"/><stop offset="0.4167" stop-color="#F0FF0F"/><stop offset="0.4271" stop-color="#FF9C00"/><stop offset="0.4375" stop-color="#FF3300"/><stop offset="0.4479" stop-color="#D90000"/><stop offset="0.4583" stop-color="#920000"/><stop offset="0.4688" stop-color="#800000"/><stop offset="0.5312" stop-color="#800000"/><stop offset="0.5417" stop-color="#9D0000"/><stop offset="0.5521" stop-color="#D90000"/><stop offset="0.5625" stop-color="#FF2400"/><stop offset="0.5729" stop-color="#FF8000"/><stop offset="0.5833" stop-color="#FFE500"/><stop offset="0.5938" stop-color="#AEFF51"/><stop offset="0.6042" stop-color="#3DFFC2"/><stop offset="0.6146" stop-color="#00CBFF"/><stop offset="0.625" stop-color="#0066FF"/><stop offset="0.6354" stop-color="#0028FF"/><stop offset="0.6458" stop-color="#0000FA"/><stop offset="0.6562" stop-color="#0000D7"/><stop offset="0.6667" stop-color="#0000C1"/><stop offset="0.6771" stop-color="#0000B5"/><stop offset="0.6875" stop-color="#0000AD"/><stop offset="0.6979" stop-color="#0000A8"/><stop offset="0.7083" stop-color="#0000A2"/><stop offset="0.75" stop-color="#000092"/><stop offset="0.7917" stop-color="#00008A"/><stop offset="0.8333" stop-color="#000086"/><stop offset="0.875" stop-color="#000083"/><stop offset="0.9167" stop-color="#000082"/><stop offset="0.9583" stop-color="#000081"/><stop offset="1" stop-color="#000081"/></linearGradient>
<linearGradient id="h111" gradientUnits="userSpaceOnUse" x1="279.26" y1="0" x2="538.64" y2="0"><stop offset="0" stop-color="#000082"/><stop offset="0.0417" stop-color="#000083"/><stop offset="0.0833" stop-color="#000084"/><stop offset="0.125" stop-color="#000087"/><stop offset="0.1667" stop-color="#00008B"/><stop offset="0.2083" stop-color="#000093"/><stop offset="0.25" stop-color="#0000A1"/><stop offset="0.2917" stop-color="#0000B7"/><stop offset="0.3021" stop-color="#0000BF"/><stop offset="0.3125" stop-color="#0000C9"/><stop offset="0.3229" stop-color="#0000D7"/><stop offset="0.3333" stop-color="#0000E5"/><stop offset="0.3438" stop-color="#0000F8"/><stop offset="0.3542" stop-color="#0015FF"/><stop offset="0.3646" stop-color="#0043FF"/><stop offset="0.375" stop-color="#007CFF"/><stop offset="0.3854" stop-color="#00C1FF"/><stop offset="0.3958" stop-color="#12FFED"/><stop offset="0.4062" stop-color="#7FFF80"/><stop offset="0.4167" stop-color="#F2FF0D"/><stop offset="0.4271" stop-color="#FF9A00"/><stop offset="0.4375" stop-color="#FF3100"/><stop offset="0.4479" stop-color="#D60000"/><stop offset="0.4583" stop-color="#8F0000"/><stop offset="0.4688" stop-color="#800000"/><stop offset="0.5312" stop-color="#800000"/><stop offset="0.5417" stop-color="#9C0000"/><stop offset="0.5521" stop-color="#D90000"/><stop offset="0.5625" stop-color="#FF2300"/><stop offset="0.5729" stop-color="#FF8000"/><stop offset="0.5833" stop-color="#FFE500"/><stop offset="0.5938" stop-color="#AEFF51"/><stop offset="0.6042" stop-color="#3CFFC3"/><stop offset="0.6146" stop-color="#00C8FF"/><stop offset="0.625" stop-color="#0063FF"/><stop offset="0.6354" stop-color="#0025FF"/><stop offset="0.6458" stop-color="#0000F6"/><stop offset="0.6562" stop-color="#0000D4"/><stop offset="0.6667" stop-color="#0000BE"/><stop offset="0.6771" stop-color="#0000B3"/><stop offset="0.6875" stop-color="#0000AC"/><stop offset="0.6979" stop-color="#0000A7"/><stop offset="0.7083" stop-color="#0000A1"/><stop offset="0.75" stop-color="#000091"/><stop offset="0.7917" stop-color="#000089"/><stop offset="0.8333" stop-color="#000085"/><stop offset="0.875" stop-color="#000083"/><stop offset="0.9167" stop-color="#000082"/><stop offset="0.9583" stop-color="#000081"/><stop offset="1" stop-color="#000081"/></linearGradient>
</defs>
<g clip-path="url(#cc)">
<rect x="128.6" y="1031.88" width="432.3" height="4.03" fill="url(#h0)" stroke="none" stroke-width="0"/>
<rect x="125.63" y="1028.35" width="432.3" height="4.03" fill="url(#h0)" stroke="none" stroke-width="0" transform="translate(2.97)"/>
<rect x="122.66" y="1024.82" width="432.3" height="4.03" fill="url(#h0)" stroke="none" stroke-width="0" transform="translate(5.94)"/>
<rect x="128.6" y="1021.29" width="432.3" height="4.03" fill="url(#h3)" stroke="none" stroke-width="0"/>
<rect x="125.63" y="1017.76" width="432.3" height="4.03" fill="url(#h3)" stroke="none" stroke-width="0" transform="translate(2.97)"/>
<rect x="122.66" y="1014.23" width="432.3" height="4.03" fill="url(#h3)" stroke="none" stroke-width="0" transform="translate(5.94)"/>
<rect x="128.6" y="1010.7" width="432.3" height="4.03" fill="url(#h6)" stroke="none" stroke-width="0"/>
<rect x="125.63" y="1007.17" width="432.3" height="4.03" fill="url(#h6)" stroke="none" stroke-width="0" transform="translate(2.97)"/>
<rect x="122.66" y="1003.64" width="432.3" height="4.03" fill="url(#h6)" stroke="none" stroke-width="0" transform="translate(5.94)"/>
<rect x="128.6" y="1000.11" width="432.3" height="4.03" fill="url(#h9)" stroke="none" stroke-width="0"/>
<rect x="125.63" y="996.57" width="432.3" height="4.03" fill="url(#h9)" stroke="none" stroke-width="0" transform="translate(2.97)"/>
<rect x="122.66" y="993.04" width="432.3" height="4.03" fill="url(#h9)" stroke="none" stroke-width="0" transform="translate(5.94)"/>
<rect x="128.6" y="989.51" width="432.3" height="4.03" fill="url(#h12)" stroke="none" stroke-width="0"/>
<rect x="125.63" y="985.98" width="432.3" height="4.03" fill="url(#h12)" stroke="none" stroke-width="0" transform="translate(2.97)"/>
<rect x="122.66" y="982.45" width="432.3" height="4.03" fill="url(#h12)" stroke="none" stroke-width="0" transform="translate(5.94)"/>
<rect x="128.6" y="978.92" width="432.3" height="4.03" fill="url(#h15)" stroke="none" stroke-width="0"/>
<rect x="125.63" y="975.39" width="432.3" height="4.03" fill="url(#h15)" stroke="none" stroke-width="0" transform="translate(2.97)"/>
<rect x="122.66" y="971.86" width="432.3" height="4.03" fill="url(#h15)" stroke="none" stroke-width="0" transform="translate(5.94)"/>
<rect x="128.6" y="968.33" width="432.3" height="4.03" fill="url(#h18)" stroke="none" stroke-width="0"/>
<rect x="125.63" y="964.8" width="432.3" height="4.03" fill="url(#h18)" stroke="none" stroke-width="0" transform="translate(2.97)"/>
<rect x="122.66" y="961.26" width="432.3" height="4.03" fill="url(#h18)" stroke="none" stroke-width="0" transform="translate(5.94)"/>
<rect x="128.6" y="957.73" width="432.3" height="4.03" fill="url(#h21)" stroke="none" stroke-width="0"/>
<rect x="125.63" y="954.2" width="432.3" height="4.03" fill="url(#h21)" stroke="none" stroke-width="0" transform="translate(2.97)"/>
<rect x="122.66" y="950.67" width="432.3" height="4.03" fill="url(#h21)" stroke="none" stroke-width="0" transform="translate(5.94)"/>
<rect x="128.6" y="947.14" width="432.3" height="4.03" fill="url(#h24)" stroke="none" stroke-width="0"/>
<rect x="125.63" y="943.61" width="432.3" height="4.03" fill="url(#h24)" stroke="none" stroke-width="0" transform="translate(2.97)"/>
<rect x="122.66" y="940.08" width="432.3" height="4.03" fill="url(#h24)" stroke="none" stroke-width="0" transform="translate(5.94)"/>
<rect x="128.6" y="936.55" width="432.3" height="4.03" fill="url(#h27)" stroke="none" stroke-width="0"/>
<rect x="125.63" y="933.02" width="432.3" height="4.03" fill="url(#h27)" stroke="none" stroke-width="0" transform="translate(2.97)"/>
<rect x="122.66" y="929.49" width="432.3" height="4.03" fill="url(#h27)" stroke="none" stroke-width="0" transform="translate(5.94)"/>
<rect x="128.6" y="925.95" width="432.3" height="4.03" fill="url(#h30)" stroke="none" stroke-width="0"/>
<rect x="125.63" y="922.42" width="432.3" height="4.03" fill="url(#h30)" stroke="none" stroke-width="0" transform="translate(2.97)"/>
<rect x="122.66" y="918.89" width="432.3" height="4.03" fill="url(#h30)" stroke="none" stroke-width="0" transform="translate(5.94)"/>
<rect x="128.6" y="915.36" width="432.3" height="4.03" fill="url(#h33)" stroke="none" stroke-width="0"/>
<rect x="125.63" y="911.83" width="432.3" height="4.03" fill="url(#h33)" stroke="none" stroke-width="0" transform="translate(2.97)"/>
<rect x="122.66" y="908.3" width="432.3" height="4.03" fill="url(#h33)" stroke="none" stroke-width="0" transform="translate(5.94)"/>
<rect x="128.6" y="904.77" width="432.3" height="4.03" fill="url(#h36)" stroke="none" stroke-width="0"/>
<rect x="125.63" y="901.24" width="432.3" height="4.03" fill="url(#h36)" stroke="none" stroke-width="0" transform="translate(2.97)"/>
<rect x="122.66" y="897.71" width="432.3" height="4.03" fill="url(#h36)" stroke="none" stroke-width="0" transform="translate(5.94)"/>
<rect x="128.6" y="894.18" width="432.3" height="4.03" fill="url(#h39)" stroke="none" stroke-width="0"/>
<rect x="125.63" y="890.64" width="432.3" height="4.03" fill="url(#h39)" stroke="none" stroke-width="0" transform="translate(2.97)"/>
<rect x="122.66" y="887.11" width="432.3" height="4.03" fill="url(#h39)" stroke="none" stroke-width="0" transform="translate(5.94)"/>
<rect x="128.6" y="883.58" width="432.3" height="4.03" fill="url(#h42)" stroke="none" stroke-width="0"/>
<rect x="125.63" y="880.05" width="432.3" height="4.03" fill="url(#h42)" stroke="none" stroke-width="0" transform="translate(2.97)"/>
<rect x="122.66" y="876.52" width="432.3" height="4.03" fill="url(#h42)" stroke="none" stroke-width="0" transform="translate(5.94)"/>
<rect x="128.6" y="872.99" width="432.3" height="4.03" fill="url(#h45)" stroke="none" stroke-width="0"/>
<rect x="125.63" y="869.46" width="432.3" height="4.03" fill="url(#h45)" stroke="none" stroke-width="0" transform="translate(2.97)"/>
<rect x="122.66" y="865.93" width="432.3" height="4.03" fill="url(#h45)" stroke="none" stroke-width="0" transform="translate(5.94)"/>
<rect x="128.6" y="862.4" width="432.3" height="4.03" fill="url(#h48)" stroke="none" stroke-width="0"/>
<rect x="125.63" y="858.87" width="432.3" height="4.03" fill="url(#h48)" stroke="none" stroke-width="0" transform="translate(2.97)"/>
<rect x="122.66" y="855.33" width="432.3" height="4.03" fill="url(#h48)" stroke="none" stroke-width="0" transform="translate(5.94)"/>
<rect x="128.6" y="851.8" width="432.3" height="4.03" fill="url(#h51)" stroke="none" stroke-width="0"/>
<rect x="125.61" y="848.27" width="432.3" height="4.03" fill="url(#h51)" stroke="none" stroke-width="0" transform="translate(2.99)"/>
<rect x="122.62" y="844.74" width="432.3" height="4.03" fill="url(#h51)" stroke="none" stroke-width="0" transform="translate(5.98)"/>
<rect x="128.6" y="841.21" width="432.3" height="4.03" fill="url(#h54)" stroke="none" stroke-width="0"/>
<rect x="125.61" y="837.68" width="432.3" height="4.03" fill="url(#h54)" stroke="none" stroke-width="0" transform="translate(2.99)"/>
<rect x="122.62" y="834.15" width="432.3" height="4.03" fill="url(#h54)" stroke="none" stroke-width="0" transform="translate(5.98)"/>
<rect x="128.6" y="830.62" width="432.3" height="4.03" fill="url(#h57)" stroke="none" stroke-width="0"/>
<rect x="125.61" y="827.09" width="432.3" height="4.03" fill="url(#h57)" stroke="none" stroke-width="0" transform="translate(2.99)"/>
<rect x="122.62" y="823.56" width="432.3" height="4.03" fill="url(#h57)" stroke="none" stroke-width="0" transform="translate(5.98)"/>
<rect x="128.6" y="820.02" width="432.3" height="4.03" fill="url(#h60)" stroke="none" stroke-width="0"/>
<rect x="125.61" y="816.49" width="432.3" height="4.03" fill="url(#h60)" stroke="none" stroke-width="0" transform="translate(2.99)"/>
<rect x="122.62" y="812.96" width="432.3" height="4.03" fill="url(#h60)" stroke="none" stroke-width="0" transform="translate(5.98)"/>
<rect x="128.6" y="809.43" width="432.3" height="4.03" fill="url(#h63)" stroke="none" stroke-width="0"/>
<rect x="125.61" y="805.9" width="432.3" height="4.03" fill="url(#h63)" stroke="none" stroke-width="0" transform="translate(2.99)"/>
<rect x="122.62" y="802.37" width="432.3" height="4.03" fill="url(#h63)" stroke="none" stroke-width="0" transform="translate(5.98)"/>
<rect x="128.6" y="798.84" width="432.3" height="4.03" fill="url(#h66)" stroke="none" stroke-width="0"/>
<rect x="125.61" y="795.31" width="432.3" height="4.03" fill="url(#h66)" stroke="none" stroke-width="0" transform="translate(2.99)"/>
<rect x="122.62" y="791.78" width="432.3" height="4.03" fill="url(#h66)" stroke="none" stroke-width="0" transform="translate(5.98)"/>
<rect x="128.6" y="788.25" width="432.3" height="4.03" fill="url(#h69)" stroke="none" stroke-width="0"/>
<rect x="125.61" y="784.71" width="432.3" height="4.03" fill="url(#h69)" stroke="none" stroke-width="0" transform="translate(2.99)"/>
<rect x="122.56" y="781.18" width="432.3" height="4.03" fill="url(#h69)" stroke="none" stroke-width="0" transform="translate(6.04)"/>
<rect x="128.6" y="777.65" width="432.3" height="4.03" fill="url(#h72)" stroke="none" stroke-width="0"/>
<rect x="125.55" y="774.12" width="432.3" height="4.03" fill="url(#h72)" stroke="none" stroke-width="0" transform="translate(3.05)"/>
<rect x="122.49" y="770.59" width="432.3" height="4.03" fill="url(#h72)" stroke="none" stroke-width="0" transform="translate(6.11)"/>
<rect x="128.6" y="767.06" width="432.3" height="4.03" fill="url(#h75)" stroke="none" stroke-width="0"/>
<rect x="125.55" y="763.53" width="432.3" height="4.03" fill="url(#h75)" stroke="none" stroke-width="0" transform="translate(3.05)"/>
<rect x="122.49" y="760" width="432.3" height="4.03" fill="url(#h75)" stroke="none" stroke-width="0" transform="translate(6.11)"/>
<rect x="128.6" y="756.47" width="432.3" height="4.03" fill="url(#h78)" stroke="none" stroke-width="0"/>
<rect x="125.55" y="752.94" width="432.3" height="4.03" fill="url(#h78)" stroke="none" stroke-width="0" transform="translate(3.05)"/>
<rect x="122.49" y="749.4" width="432.3" height="4.03" fill="url(#h78)" stroke="none" stroke-width="0" transform="translate(6.11)"/>
<rect x="128.6" y="745.87" width="432.3" height="4.03" fill="url(#h81)" stroke="none" stroke-width="0"/>
<rect x="125.55" y="742.34" width="432.3" height="4.03" fill="url(#h81)" stroke="none" stroke-width="0" transform="translate(3.05)"/>
<rect x="122.49" y="738.81" width="432.3" height="4.03" fill="url(#h81)" stroke="none" stroke-width="0" transform="translate(6.11)"/>
<rect x="128.6" y="735.28" width="432.3" height="4.03" fill="url(#h84)" stroke="none" stroke-width="0"/>
<rect x="125.55" y="731.75" width="432.3" height="4.03" fill="url(#h84)" stroke="none" stroke-width="0" transform="translate(3.05)"/>
<rect x="122.49" y="728.22" width="432.3" height="4.03" fill="url(#h84)" stroke="none" stroke-width="0" transform="translate(6.11)"/>
<rect x="128.6" y="724.69" width="432.3" height="4.03" fill="url(#h87)" stroke="none" stroke-width="0"/>
<rect x="125.55" y="721.16" width="432.3" height="4.03" fill="url(#h87)" stroke="none" stroke-width="0" transform="translate(3.05)"/>
<rect x="122.49" y="717.63" width="432.3" height="4.03" fill="url(#h87)" stroke="none" stroke-width="0" transform="translate(6.11)"/>
<rect x="128.6" y="714.09" width="432.3" height="4.03" fill="url(#h90)" stroke="none" stroke-width="0"/>
<rect x="125.46" y="710.56" width="432.3" height="4.03" fill="url(#h90)" stroke="none" stroke-width="0" transform="translate(3.14)"/>
<rect x="122.31" y="707.03" width="432.3" height="4.03" fill="url(#h90)" stroke="none" stroke-width="0" transform="translate(6.29)"/>
<rect x="128.6" y="703.5" width="432.3" height="4.03" fill="url(#h93)" stroke="none" stroke-width="0"/>
<rect x="125.46" y="699.97" width="432.3" height="4.03" fill="url(#h93)" stroke="none" stroke-width="0" transform="translate(3.14)"/>
<rect x="122.31" y="696.44" width="432.3" height="4.03" fill="url(#h93)" stroke="none" stroke-width="0" transform="translate(6.29)"/>
<rect x="128.6" y="692.91" width="432.3" height="4.03" fill="url(#h96)" stroke="none" stroke-width="0"/>
<rect x="125.46" y="689.38" width="432.3" height="4.03" fill="url(#h96)" stroke="none" stroke-width="0" transform="translate(3.14)"/>
<rect x="122.31" y="685.85" width="432.3" height="4.03" fill="url(#h96)" stroke="none" stroke-width="0" transform="translate(6.29)"/>
<rect x="128.6" y="682.32" width="432.3" height="4.03" fill="url(#h99)" stroke="none" stroke-width="0"/>
<rect x="125.46" y="678.78" width="432.3" height="4.03" fill="url(#h99)" stroke="none" stroke-width="0" transform="translate(3.14)"/>
<rect x="122.31" y="675.25" width="432.3" height="4.03" fill="url(#h99)" stroke="none" stroke-width="0" transform="translate(6.29)"/>
<rect x="128.6" y="671.72" width="432.3" height="4.03" fill="url(#h102)" stroke="none" stroke-width="0"/>
<rect x="125.46" y="668.19" width="432.3" height="4.03" fill="url(#h102)" stroke="none" stroke-width="0" transform="translate(3.14)"/>
<rect x="122.31" y="664.66" width="432.3" height="4.03" fill="url(#h102)" stroke="none" stroke-width="0" transform="translate(6.29)"/>
<rect x="128.6" y="661.13" width="432.3" height="4.03" fill="url(#h105)" stroke="none" stroke-width="0"/>
<rect x="125.46" y="657.6" width="432.3" height="4.03" fill="url(#h105)" stroke="none" stroke-width="0" transform="translate(3.14)"/>
<rect x="122.31" y="654.07" width="432.3" height="4.03" fill="url(#h105)" stroke="none" stroke-width="0" transform="translate(6.29)"/>
<rect x="128.6" y="650.54" width="432.3" height="4.03" fill="url(#h108)" stroke="none" stroke-width="0"/>
<rect x="125.46" y="647.01" width="432.3" height="4.03" fill="url(#h108)" stroke="none" stroke-width="0" transform="translate(3.14)"/>
<rect x="122.31" y="643.47" width="432.3" height="4.03" fill="url(#h108)" stroke="none" stroke-width="0" transform="translate(6.29)"/>
<rect x="128.6" y="639.94" width="432.3" height="4.03" fill="url(#h111)" stroke="none" stroke-width="0"/>
</g>
<rect x="128.6" y="644.2" width="432.3" height="390.3" fill="none" stroke="#262626" stroke-width="1.2"/>
<line x1="236.67" y1="1034.5" x2="236.67" y2="1031" stroke="#262626" stroke-width="1"/>
<line x1="236.67" y1="644.2" x2="236.67" y2="647.7" stroke="#262626" stroke-width="1"/>
<line x1="344.75" y1="1034.5" x2="344.75" y2="1031" stroke="#262626" stroke-width="1"/>
<line x1="344.75" y1="644.2" x2="344.75" y2="647.7" stroke="#262626" stroke-width="1"/>
<line x1="452.82" y1="1034.5" x2="452.82" y2="1031" stroke="#262626" stroke-width="1"/>
<line x1="452.82" y1="644.2" x2="452.82" y2="647.7" stroke="#262626" stroke-width="1"/>
<line x1="128.6" y1="963.28" x2="132.1" y2="963.28" stroke="#262626" stroke-width="1"/>
<line x1="560.9" y1="963.28" x2="557.4" y2="963.28" stroke="#262626" stroke-width="1"/>
<line x1="128.6" y1="892.66" x2="132.1" y2="892.66" stroke="#262626" stroke-width="1"/>
<line x1="560.9" y1="892.66" x2="557.4" y2="892.66" stroke="#262626" stroke-width="1"/>
<line x1="128.6" y1="822.04" x2="132.1" y2="822.04" stroke="#262626" stroke-width="1"/>
<line x1="560.9" y1="822.04" x2="557.4" y2="822.04" stroke="#262626" stroke-width="1"/>
<line x1="128.6" y1="751.42" x2="132.1" y2="751.42" stroke="#262626" stroke-width="1"/>
<line x1="560.9" y1="751.42" x2="557.4" y2="751.42" stroke="#262626" stroke-width="1"/>
<line x1="128.6" y1="680.8" x2="132.1" y2="680.8" stroke="#262626" stroke-width="1"/>
<line x1="560.9" y1="680.8" x2="557.4" y2="680.8" stroke="#262626" stroke-width="1"/>
<text transform="translate(120.2,1041.7) scale(1,1.04)" font-family='"Liberation Sans", sans-serif' font-size="21.3" text-anchor="end" font-weight="normal" font-style="normal" fill="#262626">60</text>
<text transform="translate(120.2,971.08) scale(1,1.04)" font-family='"Liberation Sans", sans-serif' font-size="21.3" text-anchor="end" font-weight="normal" font-style="normal" fill="#262626">80</text>
<text transform="translate(120.2,900.46) scale(1,1.04)" font-family='"Liberation Sans", sans-serif' font-size="21.3" text-anchor="end" font-weight="normal" font-style="normal" fill="#262626">100</text>
<text transform="translate(120.2,829.84) scale(1,1.04)" font-family='"Liberation Sans", sans-serif' font-size="21.3" text-anchor="end" font-weight="normal" font-style="normal" fill="#262626">120</text>
<text transform="translate(120.2,759.22) scale(1,1.04)" font-family='"Liberation Sans", sans-serif' font-size="21.3" text-anchor="end" font-weight="normal" font-style="normal" fill="#262626">140</text>
<text transform="translate(120.2,688.6) scale(1,1.04)" font-family='"Liberation Sans", sans-serif' font-size="21.3" text-anchor="end" font-weight="normal" font-style="normal" fill="#262626">160</text>
<text transform="translate(128.6,1067.6) scale(1,1.04)" font-family='"Liberation Sans", sans-serif' font-size="21.3" text-anchor="middle" font-weight="normal" font-style="normal" fill="#262626">400</text>
<text transform="translate(236.67,1067.6) scale(1,1.04)" font-family='"Liberation Sans", sans-serif' font-size="21.3" text-anchor="middle" font-weight="normal" font-style="normal" fill="#262626">500</text>
<text transform="translate(344.75,1067.6) scale(1,1.04)" font-family='"Liberation Sans", sans-serif' font-size="21.3" text-anchor="middle" font-weight="normal" font-style="normal" fill="#262626">600</text>
<text transform="translate(452.82,1067.6) scale(1,1.04)" font-family='"Liberation Sans", sans-serif' font-size="21.3" text-anchor="middle" font-weight="normal" font-style="normal" fill="#262626">700</text>
<text transform="translate(560.9,1067.6) scale(1,1.04)" font-family='"Liberation Sans", sans-serif' font-size="21.3" text-anchor="middle" font-weight="normal" font-style="normal" fill="#262626">800</text>
<text transform="translate(61.5,839.3) rotate(-90)" font-family='"Liberation Sans", sans-serif' font-size="26" text-anchor="middle" fill="#262626">SiO<tspan font-size="19.5" dy="12.5">2</tspan><tspan dy="-12.5"> layer thickness (nm)</tspan></text>
<text x="344.5" y="1097.6" font-family='"Liberation Sans", sans-serif' font-size="26" text-anchor="middle" fill="#262626">λ<tspan font-size="19.5" dy="14">0</tspan><tspan dy="-14"> (nm)</tspan></text>
<defs><linearGradient id="jet" x1="0" y1="1" x2="0" y2="0"><stop offset="0" stop-color="#000080"/><stop offset="0.12" stop-color="#0000FF"/><stop offset="0.38" stop-color="#00FFFF"/><stop offset="0.62" stop-color="#FFFF00"/><stop offset="0.88" stop-color="#FF0000"/><stop offset="1" stop-color="#800000"/></linearGradient></defs>
<rect x="592" y="644.2" width="25" height="390.3" fill="url(#jet)" stroke="#262626" stroke-width="1"/>
<text transform="translate(624,1042.2) scale(1,1.04)" font-family='"Liberation Sans", sans-serif' font-size="20" text-anchor="start" font-weight="normal" font-style="normal" fill="#262626">0</text>
<line x1="617" y1="904.4" x2="613.5" y2="904.4" stroke="#262626" stroke-width="1"/>
<text transform="translate(624,912.1) scale(1,1.04)" font-family='"Liberation Sans", sans-serif' font-size="20" text-anchor="start" font-weight="normal" font-style="normal" fill="#262626">0.2</text>
<line x1="617" y1="774.3" x2="613.5" y2="774.3" stroke="#262626" stroke-width="1"/>
<text transform="translate(624,782) scale(1,1.04)" font-family='"Liberation Sans", sans-serif' font-size="20" text-anchor="start" font-weight="normal" font-style="normal" fill="#262626">0.4</text>
<text transform="translate(624,651.9) scale(1,1.04)" font-family='"Liberation Sans", sans-serif' font-size="20" text-anchor="start" font-weight="normal" font-style="normal" fill="#262626">0.6</text>
<text x="604" y="632.7" font-family='"Liberation Sans", sans-serif' font-size="20" text-anchor="middle" font-weight="normal" font-style="normal" fill="#262626">T</text>
<text x="2.6" y="608.1" font-family='"Liberation Sans", sans-serif' font-size="41" text-anchor="start" font-weight="bold" font-style="normal" fill="#000">(c)</text>
</g>
<g id="panel_d">
<clipPath id="cd"><rect x="773.5" y="661.2" width="453" height="373.3"/></clipPath>
<line x1="773.5" y1="979.89" x2="780.5" y2="979.89" stroke="#000" stroke-width="2"/>
<line x1="773.5" y1="926.77" x2="780.5" y2="926.77" stroke="#000" stroke-width="2"/>
<line x1="773.5" y1="873.66" x2="780.5" y2="873.66" stroke="#000" stroke-width="2"/>
<line x1="773.5" y1="820.54" x2="780.5" y2="820.54" stroke="#000" stroke-width="2"/>
<line x1="773.5" y1="767.43" x2="780.5" y2="767.43" stroke="#000" stroke-width="2"/>
<line x1="773.5" y1="714.31" x2="780.5" y2="714.31" stroke="#000" stroke-width="2"/>
<line x1="886.75" y1="1033" x2="886.75" y2="1027.5" stroke="#000" stroke-width="2"/>
<line x1="1000" y1="1033" x2="1000" y2="1027.5" stroke="#000" stroke-width="2"/>
<line x1="1113.25" y1="1033" x2="1113.25" y2="1027.5" stroke="#000" stroke-width="2"/>
<g clip-path="url(#cd)" fill="none" stroke-width="2.7" stroke-linejoin="miter">
<path d="M773.5 896.92 L779.16 861.49 L784.83 824.75 L790.49 789.31 L796.15 756.14 L801.81 733.17 L807.48 722.87 L813.14 726.05 L818.8 741.71 L824.46 767.44 L830.12 804.31 L835.79 852.46 L841.45 899.34 L847.11 937.48 L852.77 965.92 L858.44 986.73 L864.1 1000.13 L869.76 1009.18 L875.42 1014.97 L881.09 1018.98 L886.75 1022.3 L892.41 1025.14 L898.08 1027.35 L903.74 1028.92 L909.4 1030.02 L915.06 1030.82 L920.73 1031.4 L926.39 1031.82 L932.05 1032.12 L937.71 1032.35 L943.38 1032.51 L949.04 1032.63 L954.7 1032.72 L960.36 1032.79 L966.02 1032.84 L971.69 1032.88 L977.35 1032.9 L983.01 1032.93 L988.67 1032.94 L994.34 1032.95 L1000 1032.96 L1005.66 1032.97 L1011.33 1032.98 L1016.99 1032.98 L1022.65 1032.99 L1028.31 1032.99 L1033.97 1032.99 L1039.64 1032.99 L1045.3 1032.99 L1050.96 1032.99 L1056.62 1033 L1062.29 1033 L1067.95 1033 L1073.61 1033 L1079.28 1033 L1084.94 1033 L1090.6 1033 L1096.26 1033 L1101.92 1033 L1107.59 1033 L1113.25 1033 L1118.91 1033 L1124.58 1033 L1130.24 1033 L1135.9 1033 L1141.56 1033 L1147.22 1033 L1152.89 1033 L1158.55 1033 L1164.21 1033 L1169.88 1033 L1175.54 1033 L1181.2 1033 L1186.86 1033 L1192.53 1033 L1198.19 1033 L1203.85 1033 L1209.51 1033 L1215.17 1033 L1220.84 1033 L1226.5 1033" stroke="#1E0A9E"/>
<path d="M773.5 1020.47 L779.16 1018.81 L784.83 1016.76 L790.49 1014.22 L796.15 1011.03 L801.81 1007 L807.48 1002.21 L813.14 996.38 L818.8 987.72 L824.46 973.77 L830.12 954.42 L835.79 924.71 L841.45 878.05 L847.11 827.83 L852.77 786.27 L858.44 752.67 L864.1 728.3 L869.76 717.08 L875.42 720.27 L881.09 737.05 L886.75 765.3 L892.41 804.93 L898.08 856.83 L903.74 908.92 L909.4 948.39 L915.06 978.02 L920.73 996.37 L926.39 1007.14 L932.05 1014.5 L937.71 1019.32 L943.38 1022.95 L949.04 1025.72 L954.7 1027.74 L960.36 1029.16 L966.02 1030.17 L971.69 1030.9 L977.35 1031.43 L983.01 1031.82 L988.67 1032.11 L994.34 1032.32 L1000 1032.48 L1005.66 1032.59 L1011.33 1032.68 L1016.99 1032.75 L1022.65 1032.8 L1028.31 1032.84 L1033.97 1032.88 L1039.64 1032.9 L1045.3 1032.92 L1050.96 1032.93 L1056.62 1032.95 L1062.29 1032.96 L1067.95 1032.96 L1073.61 1032.97 L1079.28 1032.97 L1084.94 1032.98 L1090.6 1032.98 L1096.26 1032.98 L1101.92 1032.99 L1107.59 1032.99 L1113.25 1032.99 L1118.91 1032.99 L1124.58 1032.99 L1130.24 1032.99 L1135.9 1032.99 L1141.56 1033 L1147.22 1033 L1152.89 1033 L1158.55 1033 L1164.21 1033 L1169.88 1033 L1175.54 1033 L1181.2 1033 L1186.86 1033 L1192.53 1033 L1198.19 1033 L1203.85 1033 L1209.51 1033 L1215.17 1033 L1220.84 1033 L1226.5 1033" stroke="#0F5A7D"/>
<path d="M773.5 1029.44 L779.16 1029.31 L784.83 1029.15 L790.49 1028.96 L796.15 1028.75 L801.81 1028.49 L807.48 1028.19 L813.14 1027.83 L818.8 1027.4 L824.46 1026.89 L830.12 1026.27 L835.79 1025.51 L841.45 1024.57 L847.11 1023.38 L852.77 1021.85 L858.44 1019.99 L864.1 1017.59 L869.76 1014.26 L875.42 1009.37 L881.09 1002.12 L886.75 991.57 L892.41 973.62 L898.08 946.7 L903.74 907.04 L909.4 855.84 L915.06 796.9 L920.73 754.28 L926.39 725.21 L932.05 712.13 L937.71 715.06 L943.38 732.73 L949.04 762.86 L954.7 807.37 L960.36 861.57 L966.02 913.71 L971.69 957.11 L977.35 986.68 L983.01 1003.85 L988.67 1013.76 L994.34 1018.77 L1000 1022.46 L1005.66 1025.53 L1011.33 1027.78 L1016.99 1029.28 L1022.65 1030.33 L1028.31 1031.07 L1033.97 1031.59 L1039.64 1031.96 L1045.3 1032.23 L1050.96 1032.42 L1056.62 1032.57 L1062.29 1032.67 L1067.95 1032.75 L1073.61 1032.8 L1079.28 1032.85 L1084.94 1032.88 L1090.6 1032.91 L1096.26 1032.92 L1101.92 1032.94 L1107.59 1032.95 L1113.25 1032.96 L1118.91 1032.97 L1124.58 1032.97 L1130.24 1032.98 L1135.9 1032.98 L1141.56 1032.98 L1147.22 1032.99 L1152.89 1032.99 L1158.55 1032.99 L1164.21 1032.99 L1169.88 1032.99 L1175.54 1032.99 L1181.2 1033 L1186.86 1033 L1192.53 1033 L1198.19 1033 L1203.85 1033 L1209.51 1033 L1215.17 1033 L1220.84 1033 L1226.5 1033" stroke="#12A012"/>
<path d="M773.5 1028.3 L779.16 1029.13 L784.83 1029.79 L790.49 1030.3 L796.15 1030.69 L801.81 1030.99 L807.48 1031.21 L813.14 1031.37 L818.8 1031.47 L824.46 1031.53 L830.12 1031.55 L835.79 1031.54 L841.45 1031.48 L847.11 1031.4 L852.77 1031.27 L858.44 1031.11 L864.1 1030.91 L869.76 1030.65 L875.42 1030.34 L881.09 1029.95 L886.75 1029.47 L892.41 1028.88 L898.08 1028.14 L903.74 1027.28 L909.4 1026.31 L915.06 1025.09 L920.73 1023.56 L926.39 1021.62 L932.05 1019.31 L937.71 1016.29 L943.38 1011.87 L949.04 1004.9 L954.7 995.18 L960.36 974.96 L966.02 940.46 L971.69 889.79 L977.35 826.2 L983.01 766.94 L988.67 725.16 L994.34 703.33 L1000 700.71 L1005.66 714.27 L1011.33 740.84 L1016.99 787.66 L1022.65 848.76 L1028.31 908.5 L1033.97 953.5 L1039.64 984.75 L1045.3 1002.48 L1050.96 1013.01 L1056.62 1018.8 L1062.29 1022.72 L1067.95 1025.63 L1073.61 1027.59 L1079.28 1028.88 L1084.94 1029.75 L1090.6 1030.35 L1096.26 1030.85 L1101.92 1031.24 L1107.59 1031.55 L1113.25 1031.79 L1118.91 1031.98 L1124.58 1032.13 L1130.24 1032.25 L1135.9 1032.36 L1141.56 1032.44 L1147.22 1032.51 L1152.89 1032.57 L1158.55 1032.62 L1164.21 1032.66 L1169.88 1032.7 L1175.54 1032.73 L1181.2 1032.76 L1186.86 1032.78 L1192.53 1032.8 L1198.19 1032.82 L1203.85 1032.83 L1209.51 1032.85 L1215.17 1032.86 L1220.84 1032.87 L1226.5 1032.88" stroke="#C4570F"/>
<path d="M773.5 1026.06 L779.16 1027.18 L784.83 1028.12 L790.49 1028.91 L796.15 1029.57 L801.81 1030.12 L807.48 1030.57 L813.14 1030.96 L818.8 1031.27 L824.46 1031.54 L830.12 1031.76 L835.79 1031.94 L841.45 1032.09 L847.11 1032.21 L852.77 1032.31 L858.44 1032.39 L864.1 1032.45 L869.76 1032.5 L875.42 1032.53 L881.09 1032.55 L886.75 1032.56 L892.41 1032.56 L898.08 1032.54 L903.74 1032.52 L909.4 1032.48 L915.06 1032.42 L920.73 1032.35 L926.39 1032.26 L932.05 1032.14 L937.71 1031.99 L943.38 1031.79 L949.04 1031.55 L954.7 1031.23 L960.36 1030.82 L966.02 1030.29 L971.69 1029.58 L977.35 1028.65 L983.01 1027.36 L988.67 1025.57 L994.34 1023.27 L1000 1020.38 L1005.66 1016.9 L1011.33 1011.94 L1016.99 1003.99 L1022.65 992.39 L1028.31 965.52 L1033.97 923.57 L1039.64 859.63 L1045.3 788.7 L1050.96 731.77 L1056.62 698.55 L1062.29 685.83 L1067.95 691 L1073.61 713.18 L1079.28 750.7 L1084.94 806.49 L1090.6 873.16 L1096.26 944.46 L1101.92 987.77 L1107.59 1009.79 L1113.25 1018.01 L1118.91 1021.4 L1124.58 1024.65 L1130.24 1026.94 L1135.9 1028.52 L1141.56 1029.63 L1147.22 1030.43 L1152.89 1031.01 L1158.55 1031.44 L1164.21 1031.76 L1169.88 1032 L1175.54 1032.19 L1181.2 1032.33 L1186.86 1032.44 L1192.53 1032.53 L1198.19 1032.61 L1203.85 1032.66 L1209.51 1032.71 L1215.17 1032.75 L1220.84 1032.78 L1226.5 1032.81" stroke="#6B0F0F"/>
</g>
<rect x="773.5" y="661.2" width="453" height="371.8" fill="none" stroke="#000" stroke-width="2.5"/>
<text transform="translate(765,1041.3) scale(1,1.04)" font-family='"Liberation Sans", sans-serif' font-size="24.3" text-anchor="end" font-weight="normal" font-style="normal" fill="#000">0.0</text>
<text transform="translate(765,988.19) scale(1,1.04)" font-family='"Liberation Sans", sans-serif' font-size="24.3" text-anchor="end" font-weight="normal" font-style="normal" fill="#000">0.1</text>
<text transform="translate(765,935.07) scale(1,1.04)" font-family='"Liberation Sans", sans-serif' font-size="24.3" text-anchor="end" font-weight="normal" font-style="normal" fill="#000">0.2</text>
<text transform="translate(765,881.96) scale(1,1.04)" font-family='"Liberation Sans", sans-serif' font-size="24.3" text-anchor="end" font-weight="normal" font-style="normal" fill="#000">0.3</text>
<text transform="translate(765,828.84) scale(1,1.04)" font-family='"Liberation Sans", sans-serif' font-size="24.3" text-anchor="end" font-weight="normal" font-style="normal" fill="#000">0.4</text>
<text transform="translate(765,775.73) scale(1,1.04)" font-family='"Liberation Sans", sans-serif' font-size="24.3" text-anchor="end" font-weight="normal" font-style="normal" fill="#000">0.5</text>
<text transform="translate(765,722.61) scale(1,1.04)" font-family='"Liberation Sans", sans-serif' font-size="24.3" text-anchor="end" font-weight="normal" font-style="normal" fill="#000">0.6</text>
<text transform="translate(765,669.5) scale(1,1.04)" font-family='"Liberation Sans", sans-serif' font-size="24.3" text-anchor="end" font-weight="normal" font-style="normal" fill="#000">0.7</text>
<text transform="translate(773.5,1060.8) scale(1,1.04)" font-family='"Liberation Sans", sans-serif' font-size="24.3" text-anchor="middle" font-weight="normal" font-style="normal" fill="#000">400</text>
<text transform="translate(886.75,1060.8) scale(1,1.04)" font-family='"Liberation Sans", sans-serif' font-size="24.3" text-anchor="middle" font-weight="normal" font-style="normal" fill="#000">500</text>
<text transform="translate(1000,1060.8) scale(1,1.04)" font-family='"Liberation Sans", sans-serif' font-size="24.3" text-anchor="middle" font-weight="normal" font-style="normal" fill="#000">600</text>
<text transform="translate(1113.25,1060.8) scale(1,1.04)" font-family='"Liberation Sans", sans-serif' font-size="24.3" text-anchor="middle" font-weight="normal" font-style="normal" fill="#000">700</text>
<text transform="translate(1226.5,1060.8) scale(1,1.04)" font-family='"Liberation Sans", sans-serif' font-size="24.3" text-anchor="middle" font-weight="normal" font-style="normal" fill="#000">800</text>
<text transform="translate(710.1,838.7) rotate(-90)" font-family='"Liberation Sans", sans-serif' font-size="24.5" text-anchor="middle">T</text>
<text x="999.4" y="1099.9" font-family='"Liberation Sans", sans-serif' font-size="24.5" text-anchor="middle">λ<tspan font-size="17.5" dy="7">0</tspan><tspan dy="-7"> (nm)</tspan></text>
<line x1="1247" y1="744.4" x2="1289.7" y2="744.4" stroke="#1E0A9E" stroke-width="3"/>
<text x="1299" y="753.4" font-family='"Liberation Serif", serif' font-size="27" text-anchor="start" font-weight="normal" font-style="normal" fill="#000" letter-spacing="1.1">90 nm</text>
<line x1="1247" y1="789.5" x2="1289.7" y2="789.5" stroke="#0F5A7D" stroke-width="3"/>
<text x="1299" y="798.5" font-family='"Liberation Serif", serif' font-size="27" text-anchor="start" font-weight="normal" font-style="normal" fill="#000" letter-spacing="1.1">110 nm</text>
<line x1="1247" y1="837.9" x2="1289.7" y2="837.9" stroke="#12A012" stroke-width="3"/>
<text x="1299" y="846.9" font-family='"Liberation Serif", serif' font-size="27" text-anchor="start" font-weight="normal" font-style="normal" fill="#000" letter-spacing="1.1">130 nm</text>
<line x1="1247" y1="891" x2="1289.7" y2="891" stroke="#C4570F" stroke-width="3"/>
<text x="1299" y="900" font-family='"Liberation Serif", serif' font-size="27" text-anchor="start" font-weight="normal" font-style="normal" fill="#000" letter-spacing="1.1">150 nm</text>
<line x1="1247" y1="938.9" x2="1289.7" y2="938.9" stroke="#6B0F0F" stroke-width="3"/>
<text x="1299" y="947.9" font-family='"Liberation Serif", serif' font-size="27" text-anchor="start" font-weight="normal" font-style="normal" fill="#000" letter-spacing="1.1">170 nm</text>
<text x="675.1" y="608.1" font-family='"Liberation Sans", sans-serif' font-size="41" text-anchor="start" font-weight="bold" font-style="normal" fill="#000">(d)</text>
</g>
<g id="panel_e">
<clipPath id="ce"><rect x="1479.1" y="303.4" width="503.1" height="578.4"/></clipPath>
<path d="M1508.13 303.4V881.8M1539.76 303.4V881.8M1571.39 303.4V881.8M1603.02 303.4V881.8M1634.65 303.4V881.8M1666.28 303.4V881.8M1697.91 303.4V881.8M1729.54 303.4V881.8M1761.17 303.4V881.8M1792.8 303.4V881.8M1824.43 303.4V881.8M1856.06 303.4V881.8M1887.69 303.4V881.8M1919.32 303.4V881.8M1950.95 303.4V881.8M1479.1 849.67H1982.2M1479.1 817.53H1982.2M1479.1 785.4H1982.2M1479.1 753.27H1982.2M1479.1 721.13H1982.2M1479.1 689H1982.2M1479.1 656.87H1982.2M1479.1 624.73H1982.2M1479.1 592.6H1982.2M1479.1 560.47H1982.2M1479.1 528.33H1982.2M1479.1 496.2H1982.2M1479.1 464.07H1982.2M1479.1 431.93H1982.2M1479.1 399.8H1982.2M1479.1 367.67H1982.2M1479.1 335.53H1982.2" stroke="#C2C2C2" stroke-width="1.8" fill="none"/>
<line x1="1541.99" y1="303.4" x2="1982.2" y2="753.27" stroke="#ABABAB" stroke-width="1.5"/>
<clipPath id="cl"><polygon points="1586.64,878.59 1580.81,875.13 1575.52,870.38 1570.31,865.57 1565.49,860.31 1561.16,854.67 1557.31,848.67 1553.8,842.45 1550.53,836.1 1547.47,829.65 1544.57,823.12 1541.83,816.52 1539.21,809.87 1536.68,803.18 1534.24,796.46 1531.84,789.72 1529.5,782.96 1527.22,776.18 1525.01,769.38 1522.87,762.56 1520.81,755.71 1518.82,748.84 1516.93,741.94 1515.11,735.03 1513.35,728.09 1511.67,721.13 1510.03,714.16 1508.45,707.18 1506.92,700.18 1505.42,693.18 1503.96,686.17 1502.53,679.15 1501.13,672.13 1499.77,665.1 1498.44,658.07 1497.15,651.03 1495.89,643.98 1494.67,636.93 1493.49,629.87 1492.34,622.8 1491.24,615.73 1490.17,608.65 1489.15,601.57 1488.17,594.48 1487.22,587.39 1486.32,580.29 1485.47,573.18 1484.65,566.06 1483.88,558.94 1483.16,551.81 1482.47,544.68 1481.84,537.53 1481.24,530.38 1480.7,523.22 1480.22,516.06 1479.79,508.9 1479.43,501.73 1479.15,494.57 1478.94,487.41 1478.82,480.25 1478.79,473.1 1478.86,465.95 1479.03,458.82 1479.31,451.69 1479.7,444.57 1480.22,437.45 1480.86,430.34 1481.65,423.22 1482.57,416.1 1483.65,408.98 1484.89,401.84 1486.29,394.7 1487.96,387.61 1490.01,380.66 1492.58,373.94 1495.8,367.55 1499.8,361.57 1504.69,356.12 1510.38,351.47 1516.68,347.96 1523.39,345.96 1530.31,345.71 1537.31,346.89 1544.25,349.07 1551,351.78 1557.5,354.76 1563.79,357.94 1569.95,361.32 1576.02,364.86 1582.04,368.54 1588.01,372.36 1593.92,376.3 1599.75,380.36 1605.5,384.51 1611.17,388.76 1616.78,393.1 1622.33,397.51 1627.83,401.99 1633.28,406.53 1638.69,411.13 1644.04,415.79 1649.36,420.49 1654.64,425.24 1659.89,430.02 1665.1,434.84 1670.29,439.69 1675.46,444.56 1680.61,449.45 1685.74,454.37 1690.86,459.29 1695.96,464.23 1701.05,469.19 1706.13,474.16 1711.19,479.14 1716.24,484.14 1721.28,489.14 1726.31,494.16 1731.34,499.18 1736.36,504.2 1741.39,509.23 1746.41,514.25 1751.43,519.28 1756.45,524.32 1761.45,529.36 1766.46,534.4 1771.45,539.45 1776.45,544.51 1781.44,549.56 1786.44,554.62 1791.43,559.68 1796.42,564.73 1801.41,569.79 1806.4,574.85 1811.39,579.91 1816.38,584.97 1821.38,590.02 1826.38,595.06 1831.39,600.11 1836.39,605.15 1841.39,610.21 1846.37,615.27 1851.35,620.34 1856.34,625.4 1861.33,630.46 1866.32,635.51 1871.32,640.57 1876.32,645.62 1881.31,650.68 1886.31,655.72 1891.33,660.76 1896.34,665.79 1901.34,670.85 1906.31,675.91 1911.29,680.99 1916.3,686.03 1921.3,691.07 1926.29,696.14 1931.27,701.21 1936.29,706.24 1941.27,711.3"/></clipPath>
<defs>
<linearGradient id="e0" gradientUnits="userSpaceOnUse" x1="1512.94" y1="0" x2="1546.11" y2="0"><stop offset="0" stop-color="#00FF00"/><stop offset="1" stop-color="#00FF00"/></linearGradient>
<linearGradient id="e1" gradientUnits="userSpaceOnUse" x1="1506.75" y1="0" x2="1555.62" y2="0"><stop offset="0" stop-color="#00FF00"/><stop offset="1" stop-color="#00FF00"/></linearGradient>
<linearGradient id="e2" gradientUnits="userSpaceOnUse" x1="1502.22" y1="0" x2="1563.84" y2="0"><stop offset="0" stop-color="#00FF00"/><stop offset="1" stop-color="#00FF00"/></linearGradient>
<linearGradient id="e3" gradientUnits="userSpaceOnUse" x1="1498.63" y1="0" x2="1571.25" y2="0"><stop offset="0" stop-color="#00FF00"/><stop offset="1" stop-color="#00FF00"/></linearGradient>
<linearGradient id="e4" gradientUnits="userSpaceOnUse" x1="1495.87" y1="0" x2="1578.09" y2="0"><stop offset="0" stop-color="#00FF12"/><stop offset="0.074" stop-color="#00FF00"/><stop offset="1" stop-color="#00FF00"/></linearGradient>
<linearGradient id="e5" gradientUnits="userSpaceOnUse" x1="1493.47" y1="0" x2="1584.59" y2="0"><stop offset="0" stop-color="#00FF1F"/><stop offset="0.1" stop-color="#00FF0D"/><stop offset="0.133" stop-color="#00FF03"/><stop offset="0.333" stop-color="#00FF00"/><stop offset="1" stop-color="#00FF00"/></linearGradient>
<linearGradient id="e6" gradientUnits="userSpaceOnUse" x1="1491.45" y1="0" x2="1590.79" y2="0"><stop offset="0" stop-color="#00FF28"/><stop offset="0.121" stop-color="#00FF17"/><stop offset="0.212" stop-color="#00FF00"/><stop offset="1" stop-color="#00FF00"/></linearGradient>
<linearGradient id="e7" gradientUnits="userSpaceOnUse" x1="1489.83" y1="0" x2="1596.73" y2="0"><stop offset="0" stop-color="#00FF2F"/><stop offset="0.171" stop-color="#00FF18"/><stop offset="0.257" stop-color="#00FF00"/><stop offset="1" stop-color="#00FF00"/></linearGradient>
<linearGradient id="e8" gradientUnits="userSpaceOnUse" x1="1488.35" y1="0" x2="1602.43" y2="0"><stop offset="0" stop-color="#00FF35"/><stop offset="0.184" stop-color="#00FF1E"/><stop offset="0.263" stop-color="#00FF0B"/><stop offset="0.289" stop-color="#00FF00"/><stop offset="1" stop-color="#00FF00"/></linearGradient>
<linearGradient id="e9" gradientUnits="userSpaceOnUse" x1="1487.17" y1="0" x2="1607.93" y2="0"><stop offset="0" stop-color="#00FF3A"/><stop offset="0.225" stop-color="#00FF1F"/><stop offset="0.3" stop-color="#00FF0B"/><stop offset="0.325" stop-color="#00FF00"/><stop offset="1" stop-color="#00FF00"/></linearGradient>
<linearGradient id="e10" gradientUnits="userSpaceOnUse" x1="1486.08" y1="0" x2="1613.25" y2="0"><stop offset="0" stop-color="#00FF3F"/><stop offset="0.214" stop-color="#00FF27"/><stop offset="0.31" stop-color="#00FF13"/><stop offset="0.357" stop-color="#00FF00"/><stop offset="1" stop-color="#00FF00"/></linearGradient>
<linearGradient id="e11" gradientUnits="userSpaceOnUse" x1="1485.14" y1="0" x2="1618.42" y2="0"><stop offset="0" stop-color="#00FF43"/><stop offset="0.227" stop-color="#00FF2B"/><stop offset="0.341" stop-color="#00FF13"/><stop offset="0.386" stop-color="#00FF00"/><stop offset="1" stop-color="#00FF00"/></linearGradient>
<linearGradient id="e12" gradientUnits="userSpaceOnUse" x1="1484.3" y1="0" x2="1623.46" y2="0"><stop offset="0" stop-color="#00FF47"/><stop offset="0.261" stop-color="#00FF2B"/><stop offset="0.37" stop-color="#00FF13"/><stop offset="0.413" stop-color="#00FF00"/><stop offset="1" stop-color="#00FF00"/></linearGradient>
<linearGradient id="e13" gradientUnits="userSpaceOnUse" x1="1483.51" y1="0" x2="1628.37" y2="0"><stop offset="0" stop-color="#00FF4B"/><stop offset="0.25" stop-color="#00FF31"/><stop offset="0.375" stop-color="#00FF19"/><stop offset="0.437" stop-color="#00FF00"/><stop offset="1" stop-color="#00FF00"/></linearGradient>
<linearGradient id="e14" gradientUnits="userSpaceOnUse" x1="1482.8" y1="0" x2="1633.19" y2="0"><stop offset="0" stop-color="#00FF4F"/><stop offset="0.28" stop-color="#00FF31"/><stop offset="0.4" stop-color="#00FF19"/><stop offset="0.46" stop-color="#00FF00"/><stop offset="1" stop-color="#00FF00"/></linearGradient>
<linearGradient id="e15" gradientUnits="userSpaceOnUse" x1="1482.12" y1="0" x2="1637.93" y2="0"><stop offset="0" stop-color="#00FF52"/><stop offset="0.294" stop-color="#00FF34"/><stop offset="0.412" stop-color="#00FF1D"/><stop offset="0.451" stop-color="#00FF0E"/><stop offset="0.471" stop-color="#00FF02"/><stop offset="1" stop-color="#00FF00"/></linearGradient>
<linearGradient id="e16" gradientUnits="userSpaceOnUse" x1="1481.51" y1="0" x2="1642.57" y2="0"><stop offset="0" stop-color="#00FF55"/><stop offset="0.283" stop-color="#00FF39"/><stop offset="0.415" stop-color="#00FF22"/><stop offset="0.472" stop-color="#00FF0E"/><stop offset="0.491" stop-color="#00FF02"/><stop offset="1" stop-color="#00FF00"/></linearGradient>
<linearGradient id="e17" gradientUnits="userSpaceOnUse" x1="1480.93" y1="0" x2="1647.15" y2="0"><stop offset="0" stop-color="#00FF58"/><stop offset="0.291" stop-color="#00FF3C"/><stop offset="0.436" stop-color="#00FF22"/><stop offset="0.491" stop-color="#00FF0E"/><stop offset="0.509" stop-color="#00FF01"/><stop offset="1" stop-color="#00FF00"/></linearGradient>
<linearGradient id="e18" gradientUnits="userSpaceOnUse" x1="1480.41" y1="0" x2="1651.66" y2="0"><stop offset="0" stop-color="#00FF5B"/><stop offset="0.281" stop-color="#00FF41"/><stop offset="0.439" stop-color="#00FF26"/><stop offset="0.491" stop-color="#00FF16"/><stop offset="0.526" stop-color="#00FF01"/><stop offset="1" stop-color="#00FF00"/></linearGradient>
<linearGradient id="e19" gradientUnits="userSpaceOnUse" x1="1479.93" y1="0" x2="1656.11" y2="0"><stop offset="0" stop-color="#00FF5E"/><stop offset="0.293" stop-color="#00FF43"/><stop offset="0.466" stop-color="#00FF25"/><stop offset="0.517" stop-color="#00FF12"/><stop offset="0.552" stop-color="#00FF00"/><stop offset="1" stop-color="#00FF00"/></linearGradient>
<linearGradient id="e20" gradientUnits="userSpaceOnUse" x1="1479.49" y1="0" x2="1660.49" y2="0"><stop offset="0" stop-color="#00FF61"/><stop offset="0.3" stop-color="#00FF45"/><stop offset="0.45" stop-color="#00FF2D"/><stop offset="0.517" stop-color="#00FF1A"/><stop offset="0.567" stop-color="#00FF00"/><stop offset="1" stop-color="#00FF00"/></linearGradient>
<linearGradient id="e21" gradientUnits="userSpaceOnUse" x1="1479.1" y1="0" x2="1664.84" y2="0"><stop offset="0" stop-color="#00FF64"/><stop offset="0.311" stop-color="#00FF47"/><stop offset="0.459" stop-color="#00FF2F"/><stop offset="0.541" stop-color="#00FF17"/><stop offset="0.557" stop-color="#00FF0E"/><stop offset="0.574" stop-color="#00FF00"/><stop offset="1" stop-color="#00FF00"/></linearGradient>
<linearGradient id="e22" gradientUnits="userSpaceOnUse" x1="1478.74" y1="0" x2="1669.14" y2="0"><stop offset="0" stop-color="#00FF67"/><stop offset="0.317" stop-color="#00FF49"/><stop offset="0.46" stop-color="#00FF33"/><stop offset="0.54" stop-color="#00FF1E"/><stop offset="0.571" stop-color="#00FF0E"/><stop offset="0.587" stop-color="#00FF01"/><stop offset="1" stop-color="#00FF00"/></linearGradient>
<linearGradient id="e23" gradientUnits="userSpaceOnUse" x1="1478.45" y1="0" x2="1673.41" y2="0"><stop offset="0" stop-color="#00FF69"/><stop offset="0.312" stop-color="#00FF4D"/><stop offset="0.484" stop-color="#00FF32"/><stop offset="0.562" stop-color="#00FF1A"/><stop offset="0.609" stop-color="#00FF00"/><stop offset="1" stop-color="#00FF00"/></linearGradient>
<linearGradient id="e24" gradientUnits="userSpaceOnUse" x1="1478.17" y1="0" x2="1677.64" y2="0"><stop offset="0" stop-color="#00FF6C"/><stop offset="0.318" stop-color="#00FF4F"/><stop offset="0.485" stop-color="#00FF35"/><stop offset="0.576" stop-color="#00FF1B"/><stop offset="0.621" stop-color="#00FF00"/><stop offset="1" stop-color="#00FF00"/></linearGradient>
<linearGradient id="e25" gradientUnits="userSpaceOnUse" x1="1477.94" y1="0" x2="1681.85" y2="0"><stop offset="0" stop-color="#00FF6F"/><stop offset="0.343" stop-color="#00FF4F"/><stop offset="0.507" stop-color="#00FF34"/><stop offset="0.582" stop-color="#00FF1E"/><stop offset="0.612" stop-color="#00FF0D"/><stop offset="0.627" stop-color="#00FF00"/><stop offset="0.985" stop-color="#00FF00"/><stop offset="1" stop-color="#1FFF00"/></linearGradient>
<linearGradient id="e26" gradientUnits="userSpaceOnUse" x1="1477.75" y1="0" x2="1686.03" y2="0"><stop offset="0" stop-color="#00FF71"/><stop offset="0.319" stop-color="#00FF55"/><stop offset="0.507" stop-color="#00FF38"/><stop offset="0.594" stop-color="#00FF1E"/><stop offset="0.623" stop-color="#00FF0E"/><stop offset="0.638" stop-color="#00FF00"/><stop offset="0.957" stop-color="#00FF00"/><stop offset="0.986" stop-color="#2EFF00"/><stop offset="1" stop-color="#3DFF00"/></linearGradient>
<linearGradient id="e27" gradientUnits="userSpaceOnUse" x1="1477.59" y1="0" x2="1690.19" y2="0"><stop offset="0" stop-color="#00FF74"/><stop offset="0.343" stop-color="#00FF55"/><stop offset="0.514" stop-color="#00FF3A"/><stop offset="0.6" stop-color="#00FF21"/><stop offset="0.657" stop-color="#00FF00"/><stop offset="0.929" stop-color="#00FF00"/><stop offset="0.943" stop-color="#0CFF00"/><stop offset="0.957" stop-color="#2AFF00"/><stop offset="0.986" stop-color="#46FF00"/><stop offset="1" stop-color="#51FF00"/></linearGradient>
<linearGradient id="e28" gradientUnits="userSpaceOnUse" x1="1477.47" y1="0" x2="1694.34" y2="0"><stop offset="0" stop-color="#00FF76"/><stop offset="0.333" stop-color="#00FF59"/><stop offset="0.514" stop-color="#00FF3D"/><stop offset="0.597" stop-color="#00FF27"/><stop offset="0.639" stop-color="#00FF14"/><stop offset="0.653" stop-color="#00FF07"/><stop offset="0.667" stop-color="#00FF00"/><stop offset="0.917" stop-color="#00FF00"/><stop offset="0.931" stop-color="#25FF00"/><stop offset="0.944" stop-color="#37FF00"/><stop offset="0.986" stop-color="#58FF00"/><stop offset="1" stop-color="#60FF00"/></linearGradient>
<linearGradient id="e29" gradientUnits="userSpaceOnUse" x1="1477.38" y1="0" x2="1698.46" y2="0"><stop offset="0" stop-color="#00FF79"/><stop offset="0.356" stop-color="#00FF59"/><stop offset="0.534" stop-color="#00FF3C"/><stop offset="0.616" stop-color="#00FF25"/><stop offset="0.644" stop-color="#00FF18"/><stop offset="0.671" stop-color="#00FF00"/><stop offset="0.89" stop-color="#00FF00"/><stop offset="0.904" stop-color="#1EFF00"/><stop offset="0.932" stop-color="#41FF00"/><stop offset="0.986" stop-color="#66FF00"/><stop offset="1" stop-color="#6EFF00"/></linearGradient>
<linearGradient id="e30" gradientUnits="userSpaceOnUse" x1="1477.33" y1="0" x2="1702.57" y2="0"><stop offset="0" stop-color="#00FF7B"/><stop offset="0.333" stop-color="#00FF5E"/><stop offset="0.52" stop-color="#00FF42"/><stop offset="0.613" stop-color="#00FF2A"/><stop offset="0.653" stop-color="#00FF18"/><stop offset="0.667" stop-color="#00FF0F"/><stop offset="0.68" stop-color="#00FF00"/><stop offset="0.867" stop-color="#00FF00"/><stop offset="0.893" stop-color="#2FFF00"/><stop offset="0.92" stop-color="#4AFF00"/><stop offset="0.973" stop-color="#6CFF00"/><stop offset="1" stop-color="#7AFF00"/></linearGradient>
<linearGradient id="e31" gradientUnits="userSpaceOnUse" x1="1477.29" y1="0" x2="1706.66" y2="0"><stop offset="0" stop-color="#00FF7D"/><stop offset="0.342" stop-color="#00FF60"/><stop offset="0.526" stop-color="#00FF44"/><stop offset="0.632" stop-color="#00FF28"/><stop offset="0.671" stop-color="#00FF13"/><stop offset="0.684" stop-color="#00FF06"/><stop offset="0.697" stop-color="#00FF00"/><stop offset="0.842" stop-color="#00FF00"/><stop offset="0.855" stop-color="#08FF00"/><stop offset="0.868" stop-color="#29FF00"/><stop offset="0.895" stop-color="#47FF00"/><stop offset="0.947" stop-color="#6BFF00"/><stop offset="1" stop-color="#85FF00"/></linearGradient>
<linearGradient id="e32" gradientUnits="userSpaceOnUse" x1="1477.29" y1="0" x2="1710.73" y2="0"><stop offset="0" stop-color="#00FF80"/><stop offset="0.364" stop-color="#00FF60"/><stop offset="0.558" stop-color="#00FF40"/><stop offset="0.636" stop-color="#00FF2B"/><stop offset="0.675" stop-color="#00FF18"/><stop offset="0.701" stop-color="#00FF00"/><stop offset="0.831" stop-color="#00FF00"/><stop offset="0.844" stop-color="#21FF00"/><stop offset="0.857" stop-color="#35FF00"/><stop offset="0.883" stop-color="#4FFF00"/><stop offset="0.961" stop-color="#7EFF00"/><stop offset="1" stop-color="#8FFF00"/></linearGradient>
<linearGradient id="e33" gradientUnits="userSpaceOnUse" x1="1477.31" y1="0" x2="1714.78" y2="0"><stop offset="0" stop-color="#00FF82"/><stop offset="0.342" stop-color="#00FF65"/><stop offset="0.544" stop-color="#00FF47"/><stop offset="0.646" stop-color="#00FF2B"/><stop offset="0.684" stop-color="#00FF19"/><stop offset="0.709" stop-color="#00FF00"/><stop offset="0.81" stop-color="#00FF00"/><stop offset="0.823" stop-color="#1DFF00"/><stop offset="0.835" stop-color="#32FF00"/><stop offset="0.861" stop-color="#4DFF00"/><stop offset="0.911" stop-color="#6FFF00"/><stop offset="1" stop-color="#99FF00"/></linearGradient>
<linearGradient id="e34" gradientUnits="userSpaceOnUse" x1="1477.34" y1="0" x2="1718.82" y2="0"><stop offset="0" stop-color="#00FF84"/><stop offset="0.312" stop-color="#00FF6B"/><stop offset="0.525" stop-color="#00FF4D"/><stop offset="0.637" stop-color="#00FF32"/><stop offset="0.688" stop-color="#00FF1C"/><stop offset="0.712" stop-color="#00FF05"/><stop offset="0.738" stop-color="#00FF00"/><stop offset="0.787" stop-color="#00FF00"/><stop offset="0.8" stop-color="#0FFF00"/><stop offset="0.813" stop-color="#2CFF00"/><stop offset="0.825" stop-color="#3DFF00"/><stop offset="0.875" stop-color="#66FF00"/><stop offset="0.975" stop-color="#99FF00"/><stop offset="1" stop-color="#A3FF00"/></linearGradient>
<linearGradient id="e35" gradientUnits="userSpaceOnUse" x1="1477.41" y1="0" x2="1722.85" y2="0"><stop offset="0" stop-color="#00FF87"/><stop offset="0.37" stop-color="#00FF67"/><stop offset="0.568" stop-color="#00FF48"/><stop offset="0.667" stop-color="#00FF2C"/><stop offset="0.704" stop-color="#00FF18"/><stop offset="0.728" stop-color="#00FF00"/><stop offset="0.778" stop-color="#00FF00"/><stop offset="0.79" stop-color="#24FF00"/><stop offset="0.802" stop-color="#38FF00"/><stop offset="0.84" stop-color="#5BFF00"/><stop offset="0.914" stop-color="#87FF00"/><stop offset="1" stop-color="#ACFF00"/></linearGradient>
<linearGradient id="e36" gradientUnits="userSpaceOnUse" x1="1477.5" y1="0" x2="1726.86" y2="0"><stop offset="0" stop-color="#00FF89"/><stop offset="0.349" stop-color="#00FF6C"/><stop offset="0.554" stop-color="#00FF4E"/><stop offset="0.663" stop-color="#00FF31"/><stop offset="0.711" stop-color="#00FF19"/><stop offset="0.735" stop-color="#00FF00"/><stop offset="0.759" stop-color="#00FF00"/><stop offset="0.771" stop-color="#21FF00"/><stop offset="0.783" stop-color="#35FF00"/><stop offset="0.807" stop-color="#4FFF00"/><stop offset="0.867" stop-color="#79FF00"/><stop offset="0.976" stop-color="#ACFF00"/><stop offset="1" stop-color="#B5FF00"/></linearGradient>
<linearGradient id="e37" gradientUnits="userSpaceOnUse" x1="1477.61" y1="0" x2="1730.87" y2="0"><stop offset="0" stop-color="#00FF8B"/><stop offset="0.381" stop-color="#00FF6B"/><stop offset="0.571" stop-color="#00FF4D"/><stop offset="0.667" stop-color="#00FF34"/><stop offset="0.714" stop-color="#00FF1D"/><stop offset="0.726" stop-color="#00FF13"/><stop offset="0.738" stop-color="#00FF03"/><stop offset="0.75" stop-color="#14FF00"/><stop offset="0.762" stop-color="#2FFF00"/><stop offset="0.786" stop-color="#4CFF00"/><stop offset="0.833" stop-color="#70FF00"/><stop offset="0.929" stop-color="#A1FF00"/><stop offset="1" stop-color="#BEFF00"/></linearGradient>
<linearGradient id="e38" gradientUnits="userSpaceOnUse" x1="1477.75" y1="0" x2="1734.87" y2="0"><stop offset="0" stop-color="#00FF8E"/><stop offset="0.376" stop-color="#00FF6E"/><stop offset="0.576" stop-color="#00FF4F"/><stop offset="0.671" stop-color="#00FF36"/><stop offset="0.718" stop-color="#00FF20"/><stop offset="0.729" stop-color="#00FF18"/><stop offset="0.741" stop-color="#27FF0B"/><stop offset="0.753" stop-color="#3AFF00"/><stop offset="0.788" stop-color="#5DFF00"/><stop offset="0.859" stop-color="#89FF00"/><stop offset="1" stop-color="#C7FF00"/></linearGradient>
<linearGradient id="e39" gradientUnits="userSpaceOnUse" x1="1477.91" y1="0" x2="1738.87" y2="0"><stop offset="0" stop-color="#00FF90"/><stop offset="0.337" stop-color="#00FF75"/><stop offset="0.547" stop-color="#00FF58"/><stop offset="0.663" stop-color="#00FF3C"/><stop offset="0.709" stop-color="#00FF2A"/><stop offset="0.721" stop-color="#1DFF24"/><stop offset="0.733" stop-color="#34FF1C"/><stop offset="0.744" stop-color="#43FF11"/><stop offset="0.756" stop-color="#50FF00"/><stop offset="0.814" stop-color="#7BFF00"/><stop offset="0.93" stop-color="#B4FF00"/><stop offset="1" stop-color="#CFFF00"/></linearGradient>
<linearGradient id="e40" gradientUnits="userSpaceOnUse" x1="1478.11" y1="0" x2="1742.87" y2="0"><stop offset="0" stop-color="#00FF92"/><stop offset="0.341" stop-color="#00FF77"/><stop offset="0.545" stop-color="#00FF5B"/><stop offset="0.67" stop-color="#00FF3D"/><stop offset="0.693" stop-color="#00FF35"/><stop offset="0.716" stop-color="#32FF2B"/><stop offset="0.739" stop-color="#4FFF1D"/><stop offset="0.75" stop-color="#59FF13"/><stop offset="0.761" stop-color="#63FF02"/><stop offset="0.841" stop-color="#94FF00"/><stop offset="0.989" stop-color="#D4FF00"/><stop offset="1" stop-color="#D8FF00"/></linearGradient>
<linearGradient id="e41" gradientUnits="userSpaceOnUse" x1="1478.31" y1="0" x2="1746.87" y2="0"><stop offset="0" stop-color="#00FF94"/><stop offset="0.337" stop-color="#00FF7A"/><stop offset="0.551" stop-color="#00FF5C"/><stop offset="0.663" stop-color="#00FF43"/><stop offset="0.674" stop-color="#00FF3F"/><stop offset="0.685" stop-color="#05FF3B"/><stop offset="0.697" stop-color="#2BFF37"/><stop offset="0.719" stop-color="#4BFF2E"/><stop offset="0.753" stop-color="#69FF18"/><stop offset="0.764" stop-color="#71FF09"/><stop offset="0.775" stop-color="#78FF00"/><stop offset="0.876" stop-color="#AEFF00"/><stop offset="1" stop-color="#E1FF00"/></linearGradient>
<linearGradient id="e42" gradientUnits="userSpaceOnUse" x1="1478.55" y1="0" x2="1750.86" y2="0"><stop offset="0" stop-color="#00FF97"/><stop offset="0.367" stop-color="#00FF79"/><stop offset="0.567" stop-color="#00FF5C"/><stop offset="0.667" stop-color="#00FF45"/><stop offset="0.678" stop-color="#21FF41"/><stop offset="0.689" stop-color="#37FF3E"/><stop offset="0.722" stop-color="#5DFF30"/><stop offset="0.756" stop-color="#76FF1C"/><stop offset="0.778" stop-color="#84FF00"/><stop offset="0.878" stop-color="#B7FF00"/><stop offset="1" stop-color="#E9FF00"/></linearGradient>
<linearGradient id="e43" gradientUnits="userSpaceOnUse" x1="1478.79" y1="0" x2="1754.85" y2="0"><stop offset="0" stop-color="#00FF99"/><stop offset="0.337" stop-color="#00FF7F"/><stop offset="0.565" stop-color="#00FF5F"/><stop offset="0.652" stop-color="#00FF4C"/><stop offset="0.663" stop-color="#1FFF49"/><stop offset="0.674" stop-color="#36FF46"/><stop offset="0.696" stop-color="#52FF3F"/><stop offset="0.739" stop-color="#76FF2C"/><stop offset="0.761" stop-color="#84FF1E"/><stop offset="0.772" stop-color="#8BFF13"/><stop offset="0.783" stop-color="#91FF00"/><stop offset="0.924" stop-color="#D4FF00"/><stop offset="1" stop-color="#F2FF00"/></linearGradient>
<linearGradient id="e44" gradientUnits="userSpaceOnUse" x1="1479.07" y1="0" x2="1758.83" y2="0"><stop offset="0" stop-color="#00FF9B"/><stop offset="0.323" stop-color="#00FF83"/><stop offset="0.548" stop-color="#00FF65"/><stop offset="0.634" stop-color="#00FF54"/><stop offset="0.645" stop-color="#10FF51"/><stop offset="0.656" stop-color="#2FFF4E"/><stop offset="0.677" stop-color="#4EFF48"/><stop offset="0.72" stop-color="#74FF39"/><stop offset="0.763" stop-color="#90FF22"/><stop offset="0.774" stop-color="#96FF18"/><stop offset="0.785" stop-color="#9CFF08"/><stop offset="0.796" stop-color="#A1FF00"/><stop offset="0.925" stop-color="#DDFF00"/><stop offset="1" stop-color="#FBFF00"/></linearGradient>
<linearGradient id="e45" gradientUnits="userSpaceOnUse" x1="1479.35" y1="0" x2="1762.81" y2="0"><stop offset="0" stop-color="#00FF9E"/><stop offset="0.383" stop-color="#00FF7F"/><stop offset="0.585" stop-color="#00FF61"/><stop offset="0.628" stop-color="#00FF58"/><stop offset="0.638" stop-color="#26FF56"/><stop offset="0.66" stop-color="#49FF50"/><stop offset="0.691" stop-color="#69FF47"/><stop offset="0.745" stop-color="#8EFF32"/><stop offset="0.777" stop-color="#A0FF1C"/><stop offset="0.798" stop-color="#ACFF00"/><stop offset="0.968" stop-color="#F7FF00"/><stop offset="0.989" stop-color="#FFFF00"/><stop offset="1" stop-color="#FFFB00"/></linearGradient>
<linearGradient id="e46" gradientUnits="userSpaceOnUse" x1="1479.66" y1="0" x2="1766.77" y2="0"><stop offset="0" stop-color="#00FFA0"/><stop offset="0.358" stop-color="#00FF84"/><stop offset="0.568" stop-color="#00FF67"/><stop offset="0.611" stop-color="#00FF5F"/><stop offset="0.632" stop-color="#34FF5A"/><stop offset="0.653" stop-color="#51FF55"/><stop offset="0.695" stop-color="#77FF49"/><stop offset="0.758" stop-color="#9FFF2F"/><stop offset="0.779" stop-color="#ABFF21"/><stop offset="0.789" stop-color="#B0FF16"/><stop offset="0.8" stop-color="#B5FF03"/><stop offset="0.863" stop-color="#D3FF00"/><stop offset="0.968" stop-color="#FFFE00"/><stop offset="1" stop-color="#FFF200"/></linearGradient>
<linearGradient id="e47" gradientUnits="userSpaceOnUse" x1="1479.98" y1="0" x2="1770.73" y2="0"><stop offset="0" stop-color="#00FFA2"/><stop offset="0.354" stop-color="#00FF87"/><stop offset="0.562" stop-color="#00FF6B"/><stop offset="0.604" stop-color="#01FF63"/><stop offset="0.615" stop-color="#2BFF61"/><stop offset="0.625" stop-color="#3FFF5F"/><stop offset="0.656" stop-color="#63FF57"/><stop offset="0.708" stop-color="#8BFF48"/><stop offset="0.771" stop-color="#AFFF2C"/><stop offset="0.792" stop-color="#BAFF1B"/><stop offset="0.812" stop-color="#C4FF00"/><stop offset="0.948" stop-color="#FFFE00"/><stop offset="1" stop-color="#FFEA00"/></linearGradient>
<linearGradient id="e48" gradientUnits="userSpaceOnUse" x1="1480.31" y1="0" x2="1774.69" y2="0"><stop offset="0" stop-color="#00FFA5"/><stop offset="0.357" stop-color="#00FF89"/><stop offset="0.582" stop-color="#00FF6B"/><stop offset="0.592" stop-color="#00FF69"/><stop offset="0.602" stop-color="#2BFF67"/><stop offset="0.612" stop-color="#3FFF65"/><stop offset="0.643" stop-color="#63FF5E"/><stop offset="0.704" stop-color="#92FF4D"/><stop offset="0.765" stop-color="#B5FF34"/><stop offset="0.796" stop-color="#C5FF1D"/><stop offset="0.816" stop-color="#CFFF00"/><stop offset="0.929" stop-color="#FFFD00"/><stop offset="1" stop-color="#FFE300"/></linearGradient>
<linearGradient id="e49" gradientUnits="userSpaceOnUse" x1="1480.66" y1="0" x2="1778.64" y2="0"><stop offset="0" stop-color="#00FFA7"/><stop offset="0.354" stop-color="#00FF8C"/><stop offset="0.566" stop-color="#00FF70"/><stop offset="0.576" stop-color="#00FF6E"/><stop offset="0.586" stop-color="#20FF6D"/><stop offset="0.596" stop-color="#38FF6B"/><stop offset="0.616" stop-color="#55FF67"/><stop offset="0.667" stop-color="#82FF5B"/><stop offset="0.758" stop-color="#BAFF3C"/><stop offset="0.798" stop-color="#CEFF21"/><stop offset="0.808" stop-color="#D3FF16"/><stop offset="0.818" stop-color="#D8FF01"/><stop offset="0.909" stop-color="#FFFD00"/><stop offset="1" stop-color="#FFDB00"/></linearGradient>
<linearGradient id="e50" gradientUnits="userSpaceOnUse" x1="1481.02" y1="0" x2="1782.59" y2="0"><stop offset="0" stop-color="#00FFA9"/><stop offset="0.36" stop-color="#00FF8E"/><stop offset="0.56" stop-color="#00FF74"/><stop offset="0.57" stop-color="#0FFF72"/><stop offset="0.58" stop-color="#30FF71"/><stop offset="0.6" stop-color="#51FF6D"/><stop offset="0.64" stop-color="#78FF65"/><stop offset="0.71" stop-color="#A8FF52"/><stop offset="0.78" stop-color="#CEFF34"/><stop offset="0.8" stop-color="#D8FF26"/><stop offset="0.83" stop-color="#E6FF00"/><stop offset="0.88" stop-color="#FDFF00"/><stop offset="1" stop-color="#FFD400"/></linearGradient>
<linearGradient id="e51" gradientUnits="userSpaceOnUse" x1="1481.41" y1="0" x2="1786.54" y2="0"><stop offset="0" stop-color="#00FFAC"/><stop offset="0.366" stop-color="#00FF90"/><stop offset="0.554" stop-color="#00FF78"/><stop offset="0.564" stop-color="#27FF76"/><stop offset="0.584" stop-color="#4CFF73"/><stop offset="0.624" stop-color="#76FF6B"/><stop offset="0.703" stop-color="#ADFF57"/><stop offset="0.762" stop-color="#CDFF41"/><stop offset="0.802" stop-color="#E1FF29"/><stop offset="0.822" stop-color="#EBFF13"/><stop offset="0.832" stop-color="#F0FF00"/><stop offset="0.871" stop-color="#FFFC00"/><stop offset="0.99" stop-color="#FFD000"/><stop offset="1" stop-color="#FFCD00"/></linearGradient>
<linearGradient id="e52" gradientUnits="userSpaceOnUse" x1="1481.8" y1="0" x2="1790.49" y2="0"><stop offset="0" stop-color="#00FFAE"/><stop offset="0.353" stop-color="#00FF94"/><stop offset="0.539" stop-color="#00FF7D"/><stop offset="0.559" stop-color="#35FF7A"/><stop offset="0.578" stop-color="#54FF77"/><stop offset="0.618" stop-color="#7BFF6F"/><stop offset="0.686" stop-color="#ACFF5F"/><stop offset="0.765" stop-color="#D7FF44"/><stop offset="0.804" stop-color="#EBFF2D"/><stop offset="0.824" stop-color="#F4FF19"/><stop offset="0.833" stop-color="#F9FF04"/><stop offset="0.853" stop-color="#FFFC00"/><stop offset="0.971" stop-color="#FFCF00"/><stop offset="1" stop-color="#FFC700"/></linearGradient>
<linearGradient id="e53" gradientUnits="userSpaceOnUse" x1="1482.21" y1="0" x2="1794.44" y2="0"><stop offset="0" stop-color="#00FFB0"/><stop offset="0.365" stop-color="#00FF96"/><stop offset="0.529" stop-color="#00FF82"/><stop offset="0.548" stop-color="#36FF7F"/><stop offset="0.567" stop-color="#55FF7C"/><stop offset="0.596" stop-color="#74FF77"/><stop offset="0.654" stop-color="#A0FF6B"/><stop offset="0.75" stop-color="#D8FF4E"/><stop offset="0.798" stop-color="#F1FF36"/><stop offset="0.827" stop-color="#FFFF1C"/><stop offset="0.837" stop-color="#FFFB09"/><stop offset="0.846" stop-color="#FFF600"/><stop offset="0.962" stop-color="#FFCC00"/><stop offset="1" stop-color="#FFC000"/></linearGradient>
<linearGradient id="e54" gradientUnits="userSpaceOnUse" x1="1482.63" y1="0" x2="1798.39" y2="0"><stop offset="0" stop-color="#00FFB3"/><stop offset="0.381" stop-color="#00FF97"/><stop offset="0.524" stop-color="#02FF86"/><stop offset="0.533" stop-color="#2EFF84"/><stop offset="0.543" stop-color="#42FF83"/><stop offset="0.571" stop-color="#67FF7E"/><stop offset="0.619" stop-color="#91FF75"/><stop offset="0.724" stop-color="#D3FF5B"/><stop offset="0.79" stop-color="#F6FF3F"/><stop offset="0.81" stop-color="#FFFF33"/><stop offset="0.829" stop-color="#FFF620"/><stop offset="0.848" stop-color="#FFED00"/><stop offset="0.981" stop-color="#FFBF00"/><stop offset="1" stop-color="#FFBA00"/></linearGradient>
<linearGradient id="e55" gradientUnits="userSpaceOnUse" x1="1483.06" y1="0" x2="1802.34" y2="0"><stop offset="0" stop-color="#00FFB5"/><stop offset="0.358" stop-color="#00FF9C"/><stop offset="0.509" stop-color="#00FF8B"/><stop offset="0.519" stop-color="#23FF89"/><stop offset="0.528" stop-color="#3BFF88"/><stop offset="0.547" stop-color="#59FF85"/><stop offset="0.594" stop-color="#88FF7D"/><stop offset="0.679" stop-color="#C2FF6B"/><stop offset="0.764" stop-color="#F1FF50"/><stop offset="0.792" stop-color="#FFFE42"/><stop offset="0.83" stop-color="#FFED22"/><stop offset="0.84" stop-color="#FFE916"/><stop offset="0.849" stop-color="#FFE501"/><stop offset="0.991" stop-color="#FFB600"/><stop offset="1" stop-color="#FFB400"/></linearGradient>
<linearGradient id="e56" gradientUnits="userSpaceOnUse" x1="1483.51" y1="0" x2="1806.28" y2="0"><stop offset="0" stop-color="#00FFB7"/><stop offset="0.346" stop-color="#00FFA0"/><stop offset="0.495" stop-color="#00FF90"/><stop offset="0.505" stop-color="#11FF8E"/><stop offset="0.514" stop-color="#33FF8D"/><stop offset="0.533" stop-color="#54FF8A"/><stop offset="0.57" stop-color="#7DFF85"/><stop offset="0.626" stop-color="#A9FF7A"/><stop offset="0.738" stop-color="#ECFF5D"/><stop offset="0.776" stop-color="#FFFE4E"/><stop offset="0.832" stop-color="#FFE425"/><stop offset="0.86" stop-color="#FFD900"/><stop offset="1" stop-color="#FFAE00"/></linearGradient>
<linearGradient id="e57" gradientUnits="userSpaceOnUse" x1="1483.97" y1="0" x2="1810.23" y2="0"><stop offset="0" stop-color="#00FFBA"/><stop offset="0.38" stop-color="#00FFA0"/><stop offset="0.491" stop-color="#00FF93"/><stop offset="0.5" stop-color="#29FF92"/><stop offset="0.509" stop-color="#3FFF91"/><stop offset="0.537" stop-color="#68FF8D"/><stop offset="0.593" stop-color="#9AFF84"/><stop offset="0.704" stop-color="#E2FF6C"/><stop offset="0.759" stop-color="#FFFE59"/><stop offset="0.824" stop-color="#FFE02F"/><stop offset="0.843" stop-color="#FFD81D"/><stop offset="0.861" stop-color="#FFD200"/><stop offset="1" stop-color="#FFA800"/></linearGradient>
<linearGradient id="e58" gradientUnits="userSpaceOnUse" x1="1484.45" y1="0" x2="1814.18" y2="0"><stop offset="0" stop-color="#00FFBC"/><stop offset="0.358" stop-color="#00FFA5"/><stop offset="0.477" stop-color="#00FF98"/><stop offset="0.495" stop-color="#38FF96"/><stop offset="0.514" stop-color="#58FF93"/><stop offset="0.55" stop-color="#81FF8E"/><stop offset="0.624" stop-color="#BAFF82"/><stop offset="0.734" stop-color="#FBFF66"/><stop offset="0.752" stop-color="#FFF95D"/><stop offset="0.826" stop-color="#FFD830"/><stop offset="0.853" stop-color="#FFCD15"/><stop offset="0.862" stop-color="#FFCA03"/><stop offset="0.917" stop-color="#FFB900"/><stop offset="1" stop-color="#FFA200"/></linearGradient>
<linearGradient id="e59" gradientUnits="userSpaceOnUse" x1="1484.94" y1="0" x2="1818.13" y2="0"><stop offset="0" stop-color="#00FFBF"/><stop offset="0.378" stop-color="#00FFA6"/><stop offset="0.468" stop-color="#00FF9C"/><stop offset="0.486" stop-color="#3BFF9A"/><stop offset="0.505" stop-color="#5AFF98"/><stop offset="0.541" stop-color="#82FF93"/><stop offset="0.604" stop-color="#B5FF89"/><stop offset="0.721" stop-color="#FDFF6E"/><stop offset="0.82" stop-color="#FFD336"/><stop offset="0.856" stop-color="#FFC617"/><stop offset="0.865" stop-color="#FFC307"/><stop offset="0.874" stop-color="#FFC000"/><stop offset="1" stop-color="#FF9D00"/></linearGradient>
<linearGradient id="e60" gradientUnits="userSpaceOnUse" x1="1485.45" y1="0" x2="1822.08" y2="0"><stop offset="0" stop-color="#00FFC1"/><stop offset="0.357" stop-color="#00FFAB"/><stop offset="0.455" stop-color="#00FFA1"/><stop offset="0.464" stop-color="#0BFFA0"/><stop offset="0.473" stop-color="#32FF9F"/><stop offset="0.491" stop-color="#55FF9D"/><stop offset="0.527" stop-color="#80FF98"/><stop offset="0.589" stop-color="#B4FF8F"/><stop offset="0.705" stop-color="#FDFF76"/><stop offset="0.821" stop-color="#FFCB37"/><stop offset="0.857" stop-color="#FFBF1A"/><stop offset="0.875" stop-color="#FFB900"/><stop offset="1" stop-color="#FF9700"/></linearGradient>
<linearGradient id="e61" gradientUnits="userSpaceOnUse" x1="1485.97" y1="0" x2="1826.05" y2="0"><stop offset="0" stop-color="#00FFC4"/><stop offset="0.381" stop-color="#00FFAC"/><stop offset="0.451" stop-color="#00FFA5"/><stop offset="0.46" stop-color="#28FFA4"/><stop offset="0.469" stop-color="#40FFA3"/><stop offset="0.496" stop-color="#6AFFA0"/><stop offset="0.54" stop-color="#97FF9A"/><stop offset="0.628" stop-color="#D7FF8B"/><stop offset="0.69" stop-color="#FEFF7E"/><stop offset="0.788" stop-color="#FFD14C"/><stop offset="0.85" stop-color="#FFBB25"/><stop offset="0.867" stop-color="#FFB512"/><stop offset="0.876" stop-color="#FFB201"/><stop offset="1" stop-color="#FF9100"/></linearGradient>
<linearGradient id="e62" gradientUnits="userSpaceOnUse" x1="1486.5" y1="0" x2="1830.02" y2="0"><stop offset="0" stop-color="#00FFC6"/><stop offset="0.36" stop-color="#00FFB1"/><stop offset="0.439" stop-color="#00FFA9"/><stop offset="0.447" stop-color="#19FFA8"/><stop offset="0.456" stop-color="#38FFA8"/><stop offset="0.474" stop-color="#5AFFA6"/><stop offset="0.509" stop-color="#84FFA1"/><stop offset="0.579" stop-color="#BFFF98"/><stop offset="0.675" stop-color="#FEFF85"/><stop offset="0.772" stop-color="#FFD054"/><stop offset="0.842" stop-color="#FFB72D"/><stop offset="0.868" stop-color="#FFAF15"/><stop offset="0.877" stop-color="#FFAC07"/><stop offset="0.886" stop-color="#FFA900"/><stop offset="1" stop-color="#FF8C00"/></linearGradient>
<linearGradient id="e63" gradientUnits="userSpaceOnUse" x1="1487.04" y1="0" x2="1833.98" y2="0"><stop offset="0" stop-color="#00FFC9"/><stop offset="0.374" stop-color="#00FFB3"/><stop offset="0.435" stop-color="#00FFAD"/><stop offset="0.443" stop-color="#2FFFAC"/><stop offset="0.452" stop-color="#45FFAB"/><stop offset="0.478" stop-color="#6EFFA9"/><stop offset="0.522" stop-color="#9BFFA3"/><stop offset="0.609" stop-color="#DCFF96"/><stop offset="0.661" stop-color="#FEFF8D"/><stop offset="0.757" stop-color="#FFCF5C"/><stop offset="0.843" stop-color="#FFB02E"/><stop offset="0.87" stop-color="#FFA818"/><stop offset="0.887" stop-color="#FFA300"/><stop offset="1" stop-color="#FF8600"/></linearGradient>
<linearGradient id="e64" gradientUnits="userSpaceOnUse" x1="1487.6" y1="0" x2="1837.95" y2="0"><stop offset="0" stop-color="#00FFCC"/><stop offset="0.388" stop-color="#00FFB5"/><stop offset="0.422" stop-color="#00FFB2"/><stop offset="0.431" stop-color="#22FFB1"/><stop offset="0.44" stop-color="#3EFFB0"/><stop offset="0.457" stop-color="#5EFFAE"/><stop offset="0.491" stop-color="#88FFAB"/><stop offset="0.552" stop-color="#BDFFA3"/><stop offset="0.647" stop-color="#FFFF93"/><stop offset="0.733" stop-color="#FFD267"/><stop offset="0.845" stop-color="#FFAA2F"/><stop offset="0.879" stop-color="#FF9F11"/><stop offset="0.888" stop-color="#FF9D01"/><stop offset="1" stop-color="#FF8100"/></linearGradient>
<linearGradient id="e65" gradientUnits="userSpaceOnUse" x1="1488.17" y1="0" x2="1841.9" y2="0"><stop offset="0" stop-color="#00FFCE"/><stop offset="0.385" stop-color="#00FFB9"/><stop offset="0.41" stop-color="#00FFB6"/><stop offset="0.419" stop-color="#0DFFB6"/><stop offset="0.427" stop-color="#35FFB5"/><stop offset="0.436" stop-color="#4AFFB4"/><stop offset="0.462" stop-color="#72FFB1"/><stop offset="0.513" stop-color="#A7FFAC"/><stop offset="0.615" stop-color="#F4FF9D"/><stop offset="0.632" stop-color="#FFFF9A"/><stop offset="0.709" stop-color="#FFD572"/><stop offset="0.829" stop-color="#FFA839"/><stop offset="0.872" stop-color="#FF9C1D"/><stop offset="0.889" stop-color="#FF9707"/><stop offset="0.897" stop-color="#FF9500"/><stop offset="1" stop-color="#FF7B00"/></linearGradient>
<linearGradient id="e66" gradientUnits="userSpaceOnUse" x1="1488.76" y1="0" x2="1845.84" y2="0"><stop offset="0" stop-color="#00FFD1"/><stop offset="0.387" stop-color="#00FFBC"/><stop offset="0.403" stop-color="#00FFBA"/><stop offset="0.412" stop-color="#1AFFBA"/><stop offset="0.42" stop-color="#3AFFB9"/><stop offset="0.437" stop-color="#5CFFB8"/><stop offset="0.471" stop-color="#88FFB4"/><stop offset="0.538" stop-color="#C5FFAD"/><stop offset="0.613" stop-color="#FCFFA2"/><stop offset="0.664" stop-color="#FFE488"/><stop offset="0.756" stop-color="#FFBB5C"/><stop offset="0.849" stop-color="#FF9C30"/><stop offset="0.882" stop-color="#FF9316"/><stop offset="0.899" stop-color="#FF8E00"/><stop offset="1" stop-color="#FF7500"/></linearGradient>
<linearGradient id="e67" gradientUnits="userSpaceOnUse" x1="1489.36" y1="0" x2="1849.78" y2="0"><stop offset="0" stop-color="#00FFD4"/><stop offset="0.383" stop-color="#00FFC0"/><stop offset="0.4" stop-color="#00FFBE"/><stop offset="0.408" stop-color="#31FFBE"/><stop offset="0.425" stop-color="#58FFBC"/><stop offset="0.458" stop-color="#86FFB9"/><stop offset="0.517" stop-color="#BDFFB3"/><stop offset="0.6" stop-color="#FCFFA8"/><stop offset="0.65" stop-color="#FFE38E"/><stop offset="0.75" stop-color="#FFB65F"/><stop offset="0.85" stop-color="#FF9630"/><stop offset="0.883" stop-color="#FF8D18"/><stop offset="0.892" stop-color="#FF8B0F"/><stop offset="0.9" stop-color="#FF8800"/><stop offset="1" stop-color="#FF7000"/></linearGradient>
<linearGradient id="e68" gradientUnits="userSpaceOnUse" x1="1489.97" y1="0" x2="1853.71" y2="0"><stop offset="0" stop-color="#00FFD7"/><stop offset="0.388" stop-color="#00FFC3"/><stop offset="0.397" stop-color="#24FFC2"/><stop offset="0.405" stop-color="#40FFC2"/><stop offset="0.421" stop-color="#61FFC0"/><stop offset="0.455" stop-color="#8DFFBE"/><stop offset="0.521" stop-color="#CAFFB7"/><stop offset="0.587" stop-color="#FCFFAF"/><stop offset="0.636" stop-color="#FFE293"/><stop offset="0.736" stop-color="#FFB565"/><stop offset="0.851" stop-color="#FF9031"/><stop offset="0.884" stop-color="#FF871B"/><stop offset="0.901" stop-color="#FF8205"/><stop offset="0.917" stop-color="#FF7E00"/><stop offset="1" stop-color="#FF6A00"/></linearGradient>
<linearGradient id="e69" gradientUnits="userSpaceOnUse" x1="1490.59" y1="0" x2="1857.65" y2="0"><stop offset="0" stop-color="#00FFD9"/><stop offset="0.377" stop-color="#00FFC8"/><stop offset="0.385" stop-color="#0FFFC7"/><stop offset="0.393" stop-color="#37FFC6"/><stop offset="0.41" stop-color="#5DFFC5"/><stop offset="0.443" stop-color="#8AFFC3"/><stop offset="0.5" stop-color="#C2FFBD"/><stop offset="0.574" stop-color="#FDFFB5"/><stop offset="0.664" stop-color="#FFCC85"/><stop offset="0.787" stop-color="#FF9D50"/><stop offset="0.869" stop-color="#FF8528"/><stop offset="0.893" stop-color="#FF7F15"/><stop offset="0.91" stop-color="#FF7A00"/><stop offset="1" stop-color="#FF6400"/></linearGradient>
<linearGradient id="e70" gradientUnits="userSpaceOnUse" x1="1491.23" y1="0" x2="1861.59" y2="0"><stop offset="0" stop-color="#00FFDC"/><stop offset="0.374" stop-color="#00FFCC"/><stop offset="0.382" stop-color="#2DFFCB"/><stop offset="0.39" stop-color="#46FFCB"/><stop offset="0.407" stop-color="#66FFC9"/><stop offset="0.439" stop-color="#91FFC7"/><stop offset="0.504" stop-color="#D0FFC1"/><stop offset="0.561" stop-color="#FDFFBB"/><stop offset="0.65" stop-color="#FFCB8A"/><stop offset="0.78" stop-color="#FF9953"/><stop offset="0.87" stop-color="#FF7F29"/><stop offset="0.902" stop-color="#FF770E"/><stop offset="0.911" stop-color="#FF7401"/><stop offset="1" stop-color="#FF5E00"/></linearGradient>
<linearGradient id="e71" gradientUnits="userSpaceOnUse" x1="1491.88" y1="0" x2="1865.55" y2="0"><stop offset="0" stop-color="#00FFDF"/><stop offset="0.363" stop-color="#00FFD0"/><stop offset="0.379" stop-color="#3EFFCF"/><stop offset="0.395" stop-color="#62FFCE"/><stop offset="0.427" stop-color="#8FFFCC"/><stop offset="0.476" stop-color="#C1FFC8"/><stop offset="0.548" stop-color="#FDFFC1"/><stop offset="0.637" stop-color="#FFCA8F"/><stop offset="0.758" stop-color="#FF9A5C"/><stop offset="0.863" stop-color="#FF7B2F"/><stop offset="0.895" stop-color="#FF7319"/><stop offset="0.911" stop-color="#FF6E05"/><stop offset="0.919" stop-color="#FF6C00"/><stop offset="1" stop-color="#FF5800"/></linearGradient>
<linearGradient id="e72" gradientUnits="userSpaceOnUse" x1="1492.55" y1="0" x2="1869.5" y2="0"><stop offset="0" stop-color="#00FFE2"/><stop offset="0.36" stop-color="#00FFD5"/><stop offset="0.368" stop-color="#35FFD4"/><stop offset="0.376" stop-color="#4CFFD4"/><stop offset="0.392" stop-color="#6BFFD3"/><stop offset="0.424" stop-color="#96FFD1"/><stop offset="0.488" stop-color="#D6FFCC"/><stop offset="0.536" stop-color="#FEFFC7"/><stop offset="0.616" stop-color="#FFCD98"/><stop offset="0.728" stop-color="#FF9E68"/><stop offset="0.856" stop-color="#FF7733"/><stop offset="0.896" stop-color="#FF6C1B"/><stop offset="0.92" stop-color="#FF6600"/><stop offset="1" stop-color="#FF5100"/></linearGradient>
<linearGradient id="e73" gradientUnits="userSpaceOnUse" x1="1493.22" y1="0" x2="1873.46" y2="0"><stop offset="0" stop-color="#00FFE5"/><stop offset="0.349" stop-color="#00FFD9"/><stop offset="0.357" stop-color="#29FFD9"/><stop offset="0.365" stop-color="#45FFD8"/><stop offset="0.381" stop-color="#67FFD8"/><stop offset="0.413" stop-color="#94FFD6"/><stop offset="0.468" stop-color="#CEFFD2"/><stop offset="0.524" stop-color="#FEFFCE"/><stop offset="0.595" stop-color="#FFD0A2"/><stop offset="0.698" stop-color="#FFA373"/><stop offset="0.849" stop-color="#FF7338"/><stop offset="0.897" stop-color="#FF661D"/><stop offset="0.913" stop-color="#FF620D"/><stop offset="0.921" stop-color="#FF6001"/><stop offset="1" stop-color="#FF4A00"/></linearGradient>
<linearGradient id="e74" gradientUnits="userSpaceOnUse" x1="1493.91" y1="0" x2="1877.41" y2="0"><stop offset="0" stop-color="#00FFE8"/><stop offset="0.339" stop-color="#00FFDE"/><stop offset="0.346" stop-color="#17FFDE"/><stop offset="0.354" stop-color="#3CFFDD"/><stop offset="0.362" stop-color="#52FFDD"/><stop offset="0.386" stop-color="#7DFFDC"/><stop offset="0.425" stop-color="#ADFFDA"/><stop offset="0.504" stop-color="#F8FFD4"/><stop offset="0.512" stop-color="#FEFFD4"/><stop offset="0.583" stop-color="#FFCFA7"/><stop offset="0.685" stop-color="#FFA178"/><stop offset="0.866" stop-color="#FF6830"/><stop offset="0.906" stop-color="#FF5D18"/><stop offset="0.921" stop-color="#FF5905"/><stop offset="0.937" stop-color="#FF5500"/><stop offset="1" stop-color="#FF4200"/></linearGradient>
<linearGradient id="e75" gradientUnits="userSpaceOnUse" x1="1494.61" y1="0" x2="1881.36" y2="0"><stop offset="0" stop-color="#00FFEB"/><stop offset="0.336" stop-color="#00FFE2"/><stop offset="0.344" stop-color="#32FFE2"/><stop offset="0.352" stop-color="#4BFFE2"/><stop offset="0.367" stop-color="#6CFFE1"/><stop offset="0.398" stop-color="#9AFFE0"/><stop offset="0.461" stop-color="#DCFFDC"/><stop offset="0.5" stop-color="#FFFFDA"/><stop offset="0.563" stop-color="#FFD3B0"/><stop offset="0.648" stop-color="#FFA987"/><stop offset="0.789" stop-color="#FF7851"/><stop offset="0.883" stop-color="#FF5D29"/><stop offset="0.914" stop-color="#FF5413"/><stop offset="0.93" stop-color="#FF5000"/><stop offset="1" stop-color="#FF3A00"/></linearGradient>
<linearGradient id="e76" gradientUnits="userSpaceOnUse" x1="1495.32" y1="0" x2="1885.32" y2="0"><stop offset="0" stop-color="#00FFEE"/><stop offset="0.326" stop-color="#00FFE7"/><stop offset="0.333" stop-color="#25FFE7"/><stop offset="0.341" stop-color="#44FFE7"/><stop offset="0.357" stop-color="#68FFE6"/><stop offset="0.388" stop-color="#98FFE5"/><stop offset="0.45" stop-color="#DBFFE2"/><stop offset="0.488" stop-color="#FFFFE0"/><stop offset="0.543" stop-color="#FFD6BA"/><stop offset="0.636" stop-color="#FFA78B"/><stop offset="0.798" stop-color="#FF6F4E"/><stop offset="0.891" stop-color="#FF5425"/><stop offset="0.922" stop-color="#FF4B0D"/><stop offset="0.93" stop-color="#FF4801"/><stop offset="1" stop-color="#FF3100"/></linearGradient>
<linearGradient id="e77" gradientUnits="userSpaceOnUse" x1="1496.05" y1="0" x2="1889.29" y2="0"><stop offset="0" stop-color="#00FFF2"/><stop offset="0.321" stop-color="#00FFEC"/><stop offset="0.328" stop-color="#31FFEC"/><stop offset="0.336" stop-color="#4BFFEC"/><stop offset="0.351" stop-color="#6DFFEB"/><stop offset="0.382" stop-color="#9CFFEA"/><stop offset="0.443" stop-color="#DFFFE8"/><stop offset="0.473" stop-color="#FCFFE7"/><stop offset="0.511" stop-color="#FFE2CB"/><stop offset="0.588" stop-color="#FFB6A0"/><stop offset="0.695" stop-color="#FF8A73"/><stop offset="0.878" stop-color="#FF512E"/><stop offset="0.916" stop-color="#FF4516"/><stop offset="0.931" stop-color="#FF4004"/><stop offset="0.947" stop-color="#FF3B00"/><stop offset="1" stop-color="#FF2500"/></linearGradient>
<linearGradient id="e78" gradientUnits="userSpaceOnUse" x1="1496.78" y1="0" x2="1893.28" y2="0"><stop offset="0" stop-color="#00FFF5"/><stop offset="0.311" stop-color="#00FFF1"/><stop offset="0.326" stop-color="#44FFF1"/><stop offset="0.341" stop-color="#69FFF0"/><stop offset="0.371" stop-color="#9AFFF0"/><stop offset="0.432" stop-color="#DFFFEE"/><stop offset="0.462" stop-color="#FDFFED"/><stop offset="0.53" stop-color="#FFCDBD"/><stop offset="0.621" stop-color="#FFA08F"/><stop offset="0.773" stop-color="#FF6A57"/><stop offset="0.886" stop-color="#FF462B"/><stop offset="0.917" stop-color="#FF3C18"/><stop offset="0.939" stop-color="#FF3400"/><stop offset="0.992" stop-color="#FF1A00"/><stop offset="1" stop-color="#FF1400"/></linearGradient>
<linearGradient id="e79" gradientUnits="userSpaceOnUse" x1="1497.53" y1="0" x2="1897.26" y2="0"><stop offset="0" stop-color="#00FFF8"/><stop offset="0.301" stop-color="#00FFF6"/><stop offset="0.308" stop-color="#06FFF6"/><stop offset="0.316" stop-color="#3BFFF6"/><stop offset="0.323" stop-color="#53FFF6"/><stop offset="0.346" stop-color="#81FFF5"/><stop offset="0.383" stop-color="#B5FFF5"/><stop offset="0.451" stop-color="#FDFFF3"/><stop offset="0.511" stop-color="#FFD1C6"/><stop offset="0.594" stop-color="#FFA49A"/><stop offset="0.744" stop-color="#FF6D61"/><stop offset="0.88" stop-color="#FF402F"/><stop offset="0.917" stop-color="#FF321A"/><stop offset="0.94" stop-color="#FF2800"/><stop offset="0.977" stop-color="#FF0F00"/><stop offset="0.992" stop-color="#FF0000"/><stop offset="1" stop-color="#FF0000"/></linearGradient>
<linearGradient id="e80" gradientUnits="userSpaceOnUse" x1="1498.29" y1="0" x2="1901.22" y2="0"><stop offset="0" stop-color="#00FFFC"/><stop offset="0.299" stop-color="#00FFFB"/><stop offset="0.306" stop-color="#2FFFFB"/><stop offset="0.313" stop-color="#4CFFFB"/><stop offset="0.328" stop-color="#6FFFFB"/><stop offset="0.358" stop-color="#A0FFFA"/><stop offset="0.418" stop-color="#E7FFFA"/><stop offset="0.44" stop-color="#FEFFFA"/><stop offset="0.5" stop-color="#FFCFCB"/><stop offset="0.59" stop-color="#FF9F9B"/><stop offset="0.761" stop-color="#FF605B"/><stop offset="0.881" stop-color="#FF372F"/><stop offset="0.925" stop-color="#FF2215"/><stop offset="0.94" stop-color="#FF1804"/><stop offset="0.955" stop-color="#FF0900"/><stop offset="0.963" stop-color="#FF0000"/><stop offset="1" stop-color="#FF0000"/></linearGradient>
<linearGradient id="e81" gradientUnits="userSpaceOnUse" x1="1499.07" y1="0" x2="1905.16" y2="0"><stop offset="0" stop-color="#00FFFF"/><stop offset="0.289" stop-color="#00FEFF"/><stop offset="0.304" stop-color="#43FEFF"/><stop offset="0.319" stop-color="#6BFEFF"/><stop offset="0.348" stop-color="#9DFEFF"/><stop offset="0.393" stop-color="#D5FEFF"/><stop offset="0.43" stop-color="#FDFEFF"/><stop offset="0.489" stop-color="#FFCED0"/><stop offset="0.563" stop-color="#FFA5A6"/><stop offset="0.696" stop-color="#FF6F71"/><stop offset="0.867" stop-color="#FF3236"/><stop offset="0.911" stop-color="#FF1A21"/><stop offset="0.926" stop-color="#FF0D17"/><stop offset="0.933" stop-color="#FF0210"/><stop offset="0.948" stop-color="#FF0000"/><stop offset="1" stop-color="#FF0000"/></linearGradient>
<linearGradient id="e82" gradientUnits="userSpaceOnUse" x1="1499.85" y1="0" x2="1909.09" y2="0"><stop offset="0" stop-color="#00FBFF"/><stop offset="0.287" stop-color="#00F9FF"/><stop offset="0.294" stop-color="#38F9FF"/><stop offset="0.301" stop-color="#51F9FF"/><stop offset="0.316" stop-color="#73F9FF"/><stop offset="0.338" stop-color="#98F8FF"/><stop offset="0.397" stop-color="#E0F8FF"/><stop offset="0.426" stop-color="#FFF7FF"/><stop offset="0.485" stop-color="#FFC8CF"/><stop offset="0.566" stop-color="#FF9CA3"/><stop offset="0.706" stop-color="#FF656E"/><stop offset="0.846" stop-color="#FF313F"/><stop offset="0.89" stop-color="#FF172D"/><stop offset="0.912" stop-color="#FF0022"/><stop offset="0.941" stop-color="#FF000A"/><stop offset="0.949" stop-color="#FF0001"/><stop offset="1" stop-color="#FF0000"/></linearGradient>
<linearGradient id="e83" gradientUnits="userSpaceOnUse" x1="1500.64" y1="0" x2="1913.02" y2="0"><stop offset="0" stop-color="#00F8FF"/><stop offset="0.277" stop-color="#00F4FF"/><stop offset="0.285" stop-color="#2BF4FF"/><stop offset="0.292" stop-color="#49F4FF"/><stop offset="0.307" stop-color="#6DF3FF"/><stop offset="0.336" stop-color="#9DF3FF"/><stop offset="0.394" stop-color="#E2F1FF"/><stop offset="0.423" stop-color="#FFEFFE"/><stop offset="0.474" stop-color="#FFC6D4"/><stop offset="0.555" stop-color="#FF9AA7"/><stop offset="0.686" stop-color="#FF6574"/><stop offset="0.825" stop-color="#FF2F47"/><stop offset="0.861" stop-color="#FF193A"/><stop offset="0.883" stop-color="#FF0031"/><stop offset="0.927" stop-color="#FF001A"/><stop offset="0.956" stop-color="#FF0000"/><stop offset="1" stop-color="#FF0000"/></linearGradient>
<linearGradient id="e84" gradientUnits="userSpaceOnUse" x1="1501.45" y1="0" x2="1916.98" y2="0"><stop offset="0" stop-color="#00F4FF"/><stop offset="0.268" stop-color="#00EFFF"/><stop offset="0.275" stop-color="#19EFFF"/><stop offset="0.283" stop-color="#3FEFFF"/><stop offset="0.297" stop-color="#66EEFF"/><stop offset="0.319" stop-color="#8DEEFF"/><stop offset="0.362" stop-color="#C5ECFF"/><stop offset="0.413" stop-color="#FBEAFF"/><stop offset="0.428" stop-color="#FFE1F5"/><stop offset="0.486" stop-color="#FFB7CA"/><stop offset="0.572" stop-color="#FF8B9E"/><stop offset="0.732" stop-color="#FF4D65"/><stop offset="0.819" stop-color="#FF2549"/><stop offset="0.848" stop-color="#FF0D3F"/><stop offset="0.855" stop-color="#FF023C"/><stop offset="0.92" stop-color="#FF0020"/><stop offset="0.942" stop-color="#FF0010"/><stop offset="0.957" stop-color="#FF0000"/><stop offset="1" stop-color="#FF0000"/></linearGradient>
<linearGradient id="e85" gradientUnits="userSpaceOnUse" x1="1502.27" y1="0" x2="1920.95" y2="0"><stop offset="0" stop-color="#00F1FF"/><stop offset="0.266" stop-color="#00EAFF"/><stop offset="0.273" stop-color="#34EAFF"/><stop offset="0.281" stop-color="#4DEAFF"/><stop offset="0.295" stop-color="#6FE9FF"/><stop offset="0.331" stop-color="#A6E8FF"/><stop offset="0.396" stop-color="#EEE5FF"/><stop offset="0.41" stop-color="#FCE4FF"/><stop offset="0.453" stop-color="#FFC3DD"/><stop offset="0.532" stop-color="#FF96AF"/><stop offset="0.655" stop-color="#FF627E"/><stop offset="0.777" stop-color="#FF2F57"/><stop offset="0.813" stop-color="#FF184B"/><stop offset="0.835" stop-color="#FF0044"/><stop offset="0.921" stop-color="#FF0021"/><stop offset="0.95" stop-color="#FF000A"/><stop offset="0.957" stop-color="#FF0001"/><stop offset="1" stop-color="#FF0000"/></linearGradient>
<linearGradient id="e86" gradientUnits="userSpaceOnUse" x1="1503.1" y1="0" x2="1923.92" y2="0"><stop offset="0" stop-color="#00EDFF"/><stop offset="0.257" stop-color="#00E6FF"/><stop offset="0.271" stop-color="#42E6FF"/><stop offset="0.286" stop-color="#67E5FF"/><stop offset="0.314" stop-color="#96E4FF"/><stop offset="0.364" stop-color="#D2E1FF"/><stop offset="0.407" stop-color="#FDDFFF"/><stop offset="0.471" stop-color="#FFB0CF"/><stop offset="0.557" stop-color="#FF84A3"/><stop offset="0.7" stop-color="#FF4A6F"/><stop offset="0.779" stop-color="#FF2357"/><stop offset="0.814" stop-color="#FF004B"/><stop offset="0.914" stop-color="#FF0026"/><stop offset="0.95" stop-color="#FF000D"/><stop offset="0.964" stop-color="#FF0000"/><stop offset="1" stop-color="#FF0000"/></linearGradient>
<linearGradient id="e87" gradientUnits="userSpaceOnUse" x1="1503.72" y1="0" x2="1926.87" y2="0"><stop offset="0" stop-color="#00EBFF"/><stop offset="0.255" stop-color="#00E3FF"/><stop offset="0.262" stop-color="#31E2FF"/><stop offset="0.27" stop-color="#4BE2FF"/><stop offset="0.284" stop-color="#6CE1FF"/><stop offset="0.312" stop-color="#99E0FF"/><stop offset="0.369" stop-color="#DBDCFF"/><stop offset="0.404" stop-color="#FEDAFF"/><stop offset="0.468" stop-color="#FFACCF"/><stop offset="0.56" stop-color="#FF7DA1"/><stop offset="0.709" stop-color="#FF3F6C"/><stop offset="0.766" stop-color="#FF1F5B"/><stop offset="0.794" stop-color="#FF0052"/><stop offset="0.915" stop-color="#FF0026"/><stop offset="0.95" stop-color="#FF000F"/><stop offset="0.965" stop-color="#FF0000"/><stop offset="1" stop-color="#FF0000"/></linearGradient>
<linearGradient id="e88" gradientUnits="userSpaceOnUse" x1="1504.36" y1="0" x2="1929.82" y2="0"><stop offset="0" stop-color="#00E8FF"/><stop offset="0.248" stop-color="#00DFFF"/><stop offset="0.255" stop-color="#25DFFF"/><stop offset="0.262" stop-color="#43DEFF"/><stop offset="0.277" stop-color="#67DEFF"/><stop offset="0.305" stop-color="#95DCFF"/><stop offset="0.355" stop-color="#D0D9FF"/><stop offset="0.404" stop-color="#FFD3FD"/><stop offset="0.461" stop-color="#FFAAD2"/><stop offset="0.546" stop-color="#FF7EA6"/><stop offset="0.695" stop-color="#FF3E70"/><stop offset="0.752" stop-color="#FF1C5F"/><stop offset="0.766" stop-color="#FF0C5B"/><stop offset="0.773" stop-color="#FF0058"/><stop offset="0.901" stop-color="#FF002D"/><stop offset="0.943" stop-color="#FF0017"/><stop offset="0.965" stop-color="#FF0000"/><stop offset="1" stop-color="#FF0000"/></linearGradient>
<linearGradient id="e89" gradientUnits="userSpaceOnUse" x1="1505" y1="0" x2="1932.77" y2="0"><stop offset="0" stop-color="#00E6FF"/><stop offset="0.246" stop-color="#00DCFF"/><stop offset="0.254" stop-color="#34DBFF"/><stop offset="0.261" stop-color="#4CDBFF"/><stop offset="0.275" stop-color="#6CDAFF"/><stop offset="0.303" stop-color="#98D8FF"/><stop offset="0.359" stop-color="#D8D4FF"/><stop offset="0.401" stop-color="#FFCEFD"/><stop offset="0.458" stop-color="#FFA6D2"/><stop offset="0.542" stop-color="#FF7AA7"/><stop offset="0.676" stop-color="#FF3F76"/><stop offset="0.732" stop-color="#FF1D65"/><stop offset="0.746" stop-color="#FF0E60"/><stop offset="0.754" stop-color="#FF025E"/><stop offset="0.894" stop-color="#FF0030"/><stop offset="0.944" stop-color="#FF0018"/><stop offset="0.965" stop-color="#FF0002"/><stop offset="1" stop-color="#FF0000"/></linearGradient>
<linearGradient id="e90" gradientUnits="userSpaceOnUse" x1="1505.65" y1="0" x2="1935.77" y2="0"><stop offset="0" stop-color="#00E3FF"/><stop offset="0.238" stop-color="#00D8FF"/><stop offset="0.252" stop-color="#3FD7FF"/><stop offset="0.266" stop-color="#63D7FF"/><stop offset="0.287" stop-color="#87D5FF"/><stop offset="0.322" stop-color="#B4D2FF"/><stop offset="0.385" stop-color="#F5CDFF"/><stop offset="0.399" stop-color="#FFC9FC"/><stop offset="0.455" stop-color="#FFA2D3"/><stop offset="0.538" stop-color="#FF76A7"/><stop offset="0.685" stop-color="#FF3273"/><stop offset="0.72" stop-color="#FF1868"/><stop offset="0.734" stop-color="#FF0464"/><stop offset="0.748" stop-color="#FF0060"/><stop offset="0.902" stop-color="#FF002E"/><stop offset="0.951" stop-color="#FF0013"/><stop offset="0.972" stop-color="#FF0000"/><stop offset="1" stop-color="#FF0000"/></linearGradient>
<linearGradient id="e91" gradientUnits="userSpaceOnUse" x1="1506.3" y1="0" x2="1938.74" y2="0"><stop offset="0" stop-color="#00E0FF"/><stop offset="0.236" stop-color="#00D5FF"/><stop offset="0.243" stop-color="#2FD4FF"/><stop offset="0.25" stop-color="#48D4FF"/><stop offset="0.264" stop-color="#68D3FF"/><stop offset="0.292" stop-color="#94D1FF"/><stop offset="0.347" stop-color="#D4CCFF"/><stop offset="0.389" stop-color="#FCC7FF"/><stop offset="0.431" stop-color="#FFAAE0"/><stop offset="0.521" stop-color="#FF78AE"/><stop offset="0.653" stop-color="#FF3A7D"/><stop offset="0.694" stop-color="#FF2070"/><stop offset="0.722" stop-color="#FF0068"/><stop offset="0.903" stop-color="#FF002E"/><stop offset="0.944" stop-color="#FF0019"/><stop offset="0.972" stop-color="#FF0000"/><stop offset="1" stop-color="#FF0000"/></linearGradient>
<linearGradient id="e92" gradientUnits="userSpaceOnUse" x1="1506.96" y1="0" x2="1941.7" y2="0"><stop offset="0" stop-color="#00DEFF"/><stop offset="0.229" stop-color="#00D1FF"/><stop offset="0.236" stop-color="#23D1FF"/><stop offset="0.243" stop-color="#41D0FF"/><stop offset="0.257" stop-color="#63CFFF"/><stop offset="0.278" stop-color="#87CEFF"/><stop offset="0.319" stop-color="#BBCAFF"/><stop offset="0.389" stop-color="#FFC2FF"/><stop offset="0.444" stop-color="#FF9BD5"/><stop offset="0.542" stop-color="#FF68A4"/><stop offset="0.653" stop-color="#FF317D"/><stop offset="0.688" stop-color="#FF1672"/><stop offset="0.701" stop-color="#FF006E"/><stop offset="0.896" stop-color="#FF0031"/><stop offset="0.951" stop-color="#FF0016"/><stop offset="0.972" stop-color="#FF0000"/><stop offset="1" stop-color="#FF0000"/></linearGradient>
<linearGradient id="e93" gradientUnits="userSpaceOnUse" x1="1507.64" y1="0" x2="1941.9" y2="0"><stop offset="0" stop-color="#00DBFF"/><stop offset="0.229" stop-color="#00CEFF"/><stop offset="0.236" stop-color="#33CDFF"/><stop offset="0.243" stop-color="#4ACDFF"/><stop offset="0.257" stop-color="#69CCFF"/><stop offset="0.292" stop-color="#9DC8FF"/><stop offset="0.354" stop-color="#E0C2FF"/><stop offset="0.389" stop-color="#FFBDFE"/><stop offset="0.451" stop-color="#FF92D1"/><stop offset="0.549" stop-color="#FF60A2"/><stop offset="0.639" stop-color="#FF3282"/><stop offset="0.674" stop-color="#FF1777"/><stop offset="0.688" stop-color="#FF0173"/><stop offset="0.91" stop-color="#FF002F"/><stop offset="0.958" stop-color="#FF0016"/><stop offset="0.979" stop-color="#FF0002"/><stop offset="1" stop-color="#FF0000"/></linearGradient>
<linearGradient id="e94" gradientUnits="userSpaceOnUse" x1="1508.32" y1="0" x2="1938.72" y2="0"><stop offset="0" stop-color="#00D8FF"/><stop offset="0.224" stop-color="#00CBFF"/><stop offset="0.238" stop-color="#3DCAFF"/><stop offset="0.252" stop-color="#60C8FF"/><stop offset="0.28" stop-color="#8EC6FF"/><stop offset="0.336" stop-color="#CDC0FF"/><stop offset="0.392" stop-color="#FFB8FE"/><stop offset="0.455" stop-color="#FF8ED1"/><stop offset="0.559" stop-color="#FF58A0"/><stop offset="0.643" stop-color="#FF2B83"/><stop offset="0.671" stop-color="#FF117B"/><stop offset="0.678" stop-color="#FF0478"/><stop offset="0.692" stop-color="#FF0074"/><stop offset="0.923" stop-color="#FF002F"/><stop offset="0.972" stop-color="#FF0017"/><stop offset="1" stop-color="#FF0000"/></linearGradient>
<linearGradient id="e95" gradientUnits="userSpaceOnUse" x1="1509.01" y1="0" x2="1932.36" y2="0"><stop offset="0" stop-color="#00D6FF"/><stop offset="0.227" stop-color="#00C7FF"/><stop offset="0.234" stop-color="#2DC7FF"/><stop offset="0.241" stop-color="#46C6FF"/><stop offset="0.262" stop-color="#72C4FF"/><stop offset="0.305" stop-color="#AAC0FF"/><stop offset="0.383" stop-color="#F4B6FF"/><stop offset="0.397" stop-color="#FFB3FE"/><stop offset="0.454" stop-color="#FF8DD6"/><stop offset="0.539" stop-color="#FF61AC"/><stop offset="0.631" stop-color="#FF318B"/><stop offset="0.66" stop-color="#FF1B82"/><stop offset="0.681" stop-color="#FF007C"/><stop offset="0.95" stop-color="#FF002D"/><stop offset="1" stop-color="#FF0014"/></linearGradient>
<linearGradient id="e96" gradientUnits="userSpaceOnUse" x1="1509.72" y1="0" x2="1926" y2="0"><stop offset="0" stop-color="#00D3FF"/><stop offset="0.225" stop-color="#00C4FF"/><stop offset="0.239" stop-color="#3EC3FF"/><stop offset="0.254" stop-color="#60C2FF"/><stop offset="0.275" stop-color="#83BFFF"/><stop offset="0.326" stop-color="#BDBAFF"/><stop offset="0.399" stop-color="#FDAFFF"/><stop offset="0.471" stop-color="#FF83D0"/><stop offset="0.594" stop-color="#FF459B"/><stop offset="0.645" stop-color="#FF268B"/><stop offset="0.667" stop-color="#FF0F84"/><stop offset="0.674" stop-color="#FF0082"/><stop offset="0.964" stop-color="#FF0030"/><stop offset="1" stop-color="#FF0021"/></linearGradient>
<linearGradient id="e97" gradientUnits="userSpaceOnUse" x1="1510.43" y1="0" x2="1919.64" y2="0"><stop offset="0" stop-color="#00D0FF"/><stop offset="0.228" stop-color="#00C1FF"/><stop offset="0.235" stop-color="#2FC0FF"/><stop offset="0.243" stop-color="#47BFFF"/><stop offset="0.265" stop-color="#71BDFF"/><stop offset="0.301" stop-color="#A0B9FF"/><stop offset="0.368" stop-color="#DFB0FF"/><stop offset="0.404" stop-color="#FDAAFF"/><stop offset="0.485" stop-color="#FF7ACD"/><stop offset="0.581" stop-color="#FF4AA4"/><stop offset="0.64" stop-color="#FF2790"/><stop offset="0.662" stop-color="#FF118A"/><stop offset="0.669" stop-color="#FF0487"/><stop offset="0.684" stop-color="#FF0083"/><stop offset="0.993" stop-color="#FF002E"/><stop offset="1" stop-color="#FF002B"/></linearGradient>
<linearGradient id="e98" gradientUnits="userSpaceOnUse" x1="1511.15" y1="0" x2="1913.28" y2="0"><stop offset="0" stop-color="#00CEFF"/><stop offset="0.224" stop-color="#00BEFF"/><stop offset="0.231" stop-color="#19BDFF"/><stop offset="0.239" stop-color="#3ABCFF"/><stop offset="0.246" stop-color="#4EBCFF"/><stop offset="0.269" stop-color="#75B9FF"/><stop offset="0.313" stop-color="#AAB4FF"/><stop offset="0.396" stop-color="#F2A8FF"/><stop offset="0.41" stop-color="#FEA5FF"/><stop offset="0.493" stop-color="#FF76CD"/><stop offset="0.612" stop-color="#FF389D"/><stop offset="0.649" stop-color="#FF1C91"/><stop offset="0.672" stop-color="#FF008B"/><stop offset="1" stop-color="#FF0033"/></linearGradient>
<linearGradient id="e99" gradientUnits="userSpaceOnUse" x1="1511.88" y1="0" x2="1906.92" y2="0"><stop offset="0" stop-color="#00CBFF"/><stop offset="0.229" stop-color="#00BAFF"/><stop offset="0.237" stop-color="#31B9FF"/><stop offset="0.244" stop-color="#48B8FF"/><stop offset="0.267" stop-color="#71B6FF"/><stop offset="0.305" stop-color="#9FB2FF"/><stop offset="0.382" stop-color="#E3A7FF"/><stop offset="0.42" stop-color="#FF9FFE"/><stop offset="0.481" stop-color="#FF7BD8"/><stop offset="0.58" stop-color="#FF48AC"/><stop offset="0.641" stop-color="#FF2198"/><stop offset="0.656" stop-color="#FF0F93"/><stop offset="0.664" stop-color="#FF0091"/><stop offset="1" stop-color="#FF003A"/></linearGradient>
<linearGradient id="e100" gradientUnits="userSpaceOnUse" x1="1512.64" y1="0" x2="1900.56" y2="0"><stop offset="0" stop-color="#00C8FF"/><stop offset="0.225" stop-color="#00B7FF"/><stop offset="0.24" stop-color="#3CB6FF"/><stop offset="0.256" stop-color="#5DB4FF"/><stop offset="0.279" stop-color="#7FB1FF"/><stop offset="0.333" stop-color="#B7AAFF"/><stop offset="0.419" stop-color="#FB9CFF"/><stop offset="0.434" stop-color="#FF95F8"/><stop offset="0.512" stop-color="#FF69CD"/><stop offset="0.62" stop-color="#FF2FA3"/><stop offset="0.643" stop-color="#FF1B9B"/><stop offset="0.651" stop-color="#FF1299"/><stop offset="0.659" stop-color="#FF0397"/><stop offset="0.698" stop-color="#FF008B"/><stop offset="1" stop-color="#FF0041"/></linearGradient>
<linearGradient id="e101" gradientUnits="userSpaceOnUse" x1="1513.4" y1="0" x2="1894.2" y2="0"><stop offset="0" stop-color="#00C5FF"/><stop offset="0.222" stop-color="#00B4FF"/><stop offset="0.23" stop-color="#08B3FF"/><stop offset="0.238" stop-color="#34B3FF"/><stop offset="0.246" stop-color="#49B2FF"/><stop offset="0.27" stop-color="#71AFFF"/><stop offset="0.317" stop-color="#A6A9FF"/><stop offset="0.405" stop-color="#ED9BFF"/><stop offset="0.429" stop-color="#FE96FF"/><stop offset="0.516" stop-color="#FF66CF"/><stop offset="0.619" stop-color="#FF2DA7"/><stop offset="0.643" stop-color="#FF189F"/><stop offset="0.659" stop-color="#FF009B"/><stop offset="0.921" stop-color="#FF0059"/><stop offset="1" stop-color="#FF0047"/></linearGradient>
<linearGradient id="e102" gradientUnits="userSpaceOnUse" x1="1514.18" y1="0" x2="1887.84" y2="0"><stop offset="0" stop-color="#00C3FF"/><stop offset="0.226" stop-color="#00B1FF"/><stop offset="0.234" stop-color="#22B0FF"/><stop offset="0.242" stop-color="#3EAFFF"/><stop offset="0.258" stop-color="#5EADFF"/><stop offset="0.29" stop-color="#88A9FF"/><stop offset="0.347" stop-color="#BDA1FF"/><stop offset="0.435" stop-color="#FE91FF"/><stop offset="0.524" stop-color="#FF60CF"/><stop offset="0.613" stop-color="#FF2FAD"/><stop offset="0.645" stop-color="#FF10A3"/><stop offset="0.653" stop-color="#FF00A0"/><stop offset="0.911" stop-color="#FF0060"/><stop offset="1" stop-color="#FF004D"/></linearGradient>
<linearGradient id="e103" gradientUnits="userSpaceOnUse" x1="1514.97" y1="0" x2="1881.48" y2="0"><stop offset="0" stop-color="#00C0FF"/><stop offset="0.23" stop-color="#00ADFF"/><stop offset="0.238" stop-color="#30ACFF"/><stop offset="0.246" stop-color="#46ABFF"/><stop offset="0.262" stop-color="#63A9FF"/><stop offset="0.295" stop-color="#8BA5FF"/><stop offset="0.352" stop-color="#BE9DFF"/><stop offset="0.443" stop-color="#FE8BFF"/><stop offset="0.525" stop-color="#FF5FD3"/><stop offset="0.615" stop-color="#FF2BB1"/><stop offset="0.639" stop-color="#FF13A9"/><stop offset="0.648" stop-color="#FF03A6"/><stop offset="0.697" stop-color="#FF0098"/><stop offset="0.975" stop-color="#FF0057"/><stop offset="1" stop-color="#FF0052"/></linearGradient>
<linearGradient id="e104" gradientUnits="userSpaceOnUse" x1="1515.78" y1="0" x2="1875.12" y2="0"><stop offset="0" stop-color="#00BDFF"/><stop offset="0.227" stop-color="#00AAFF"/><stop offset="0.235" stop-color="#27A9FF"/><stop offset="0.244" stop-color="#3FA8FF"/><stop offset="0.252" stop-color="#51A7FF"/><stop offset="0.286" stop-color="#7FA3FF"/><stop offset="0.345" stop-color="#B59AFF"/><stop offset="0.445" stop-color="#FC87FF"/><stop offset="0.496" stop-color="#FF6CE5"/><stop offset="0.597" stop-color="#FF35BB"/><stop offset="0.63" stop-color="#FF19B0"/><stop offset="0.647" stop-color="#FF00AA"/><stop offset="0.866" stop-color="#FF0073"/><stop offset="1" stop-color="#FF0057"/></linearGradient>
<linearGradient id="e105" gradientUnits="userSpaceOnUse" x1="1516.6" y1="0" x2="1868.77" y2="0"><stop offset="0" stop-color="#00BAFF"/><stop offset="0.222" stop-color="#00A7FF"/><stop offset="0.231" stop-color="#0BA6FF"/><stop offset="0.239" stop-color="#33A5FF"/><stop offset="0.256" stop-color="#57A3FF"/><stop offset="0.291" stop-color="#829FFF"/><stop offset="0.359" stop-color="#BD95FF"/><stop offset="0.453" stop-color="#FC81FF"/><stop offset="0.504" stop-color="#FF66E5"/><stop offset="0.598" stop-color="#FF31BE"/><stop offset="0.624" stop-color="#FF1BB6"/><stop offset="0.641" stop-color="#FF00B0"/><stop offset="0.838" stop-color="#FF007E"/><stop offset="1" stop-color="#FF005C"/></linearGradient>
<linearGradient id="e106" gradientUnits="userSpaceOnUse" x1="1517.43" y1="0" x2="1862.41" y2="0"><stop offset="0" stop-color="#00B8FF"/><stop offset="0.228" stop-color="#00A3FF"/><stop offset="0.237" stop-color="#2BA2FF"/><stop offset="0.246" stop-color="#42A1FF"/><stop offset="0.272" stop-color="#6B9EFF"/><stop offset="0.316" stop-color="#9898FF"/><stop offset="0.404" stop-color="#D889FF"/><stop offset="0.465" stop-color="#FF7AFF"/><stop offset="0.561" stop-color="#FF46D0"/><stop offset="0.614" stop-color="#FF21BD"/><stop offset="0.64" stop-color="#FF00B5"/><stop offset="0.816" stop-color="#FF0087"/><stop offset="1" stop-color="#FF0061"/></linearGradient>
<linearGradient id="e107" gradientUnits="userSpaceOnUse" x1="1518.3" y1="0" x2="1856.05" y2="0"><stop offset="0" stop-color="#00B5FF"/><stop offset="0.223" stop-color="#00A1FF"/><stop offset="0.232" stop-color="#16A0FF"/><stop offset="0.241" stop-color="#369FFF"/><stop offset="0.259" stop-color="#589CFF"/><stop offset="0.295" stop-color="#8297FF"/><stop offset="0.366" stop-color="#BC8CFF"/><stop offset="0.473" stop-color="#FF74FF"/><stop offset="0.58" stop-color="#FF38CD"/><stop offset="0.616" stop-color="#FF1AC1"/><stop offset="0.634" stop-color="#FF00BB"/><stop offset="0.804" stop-color="#FF008E"/><stop offset="1" stop-color="#FF0066"/></linearGradient>
<linearGradient id="e108" gradientUnits="userSpaceOnUse" x1="1519.16" y1="0" x2="1849.69" y2="0"><stop offset="0" stop-color="#00B2FF"/><stop offset="0.227" stop-color="#009DFF"/><stop offset="0.236" stop-color="#289CFF"/><stop offset="0.245" stop-color="#3F9BFF"/><stop offset="0.264" stop-color="#5D98FF"/><stop offset="0.3" stop-color="#8593FF"/><stop offset="0.373" stop-color="#BD87FF"/><stop offset="0.482" stop-color="#FF6DFF"/><stop offset="0.582" stop-color="#FF34D1"/><stop offset="0.609" stop-color="#FF1CC7"/><stop offset="0.627" stop-color="#FF00C1"/><stop offset="0.809" stop-color="#FF0091"/><stop offset="1" stop-color="#FF006B"/></linearGradient>
<linearGradient id="e109" gradientUnits="userSpaceOnUse" x1="1520.06" y1="0" x2="1843.33" y2="0"><stop offset="0" stop-color="#00AFFF"/><stop offset="0.224" stop-color="#009AFF"/><stop offset="0.243" stop-color="#3998FF"/><stop offset="0.262" stop-color="#5995FF"/><stop offset="0.299" stop-color="#8290FF"/><stop offset="0.355" stop-color="#AE87FF"/><stop offset="0.477" stop-color="#F86BFF"/><stop offset="0.495" stop-color="#FF64FC"/><stop offset="0.589" stop-color="#FF2BD3"/><stop offset="0.607" stop-color="#FF18CC"/><stop offset="0.617" stop-color="#FF09C9"/><stop offset="0.626" stop-color="#FF00C6"/><stop offset="0.785" stop-color="#FF009B"/><stop offset="1" stop-color="#FF0070"/></linearGradient>
<linearGradient id="e110" gradientUnits="userSpaceOnUse" x1="1520.96" y1="0" x2="1836.97" y2="0"><stop offset="0" stop-color="#00ACFF"/><stop offset="0.229" stop-color="#0096FF"/><stop offset="0.238" stop-color="#2D95FF"/><stop offset="0.257" stop-color="#5292FF"/><stop offset="0.295" stop-color="#7D8DFF"/><stop offset="0.362" stop-color="#B082FF"/><stop offset="0.486" stop-color="#F864FF"/><stop offset="0.505" stop-color="#FF5CFC"/><stop offset="0.581" stop-color="#FF2DDA"/><stop offset="0.6" stop-color="#FF1BD3"/><stop offset="0.619" stop-color="#FF00CD"/><stop offset="0.771" stop-color="#FF00A2"/><stop offset="1" stop-color="#FF0074"/></linearGradient>
<linearGradient id="e111" gradientUnits="userSpaceOnUse" x1="1521.89" y1="0" x2="1830.61" y2="0"><stop offset="0" stop-color="#00A9FF"/><stop offset="0.225" stop-color="#0093FF"/><stop offset="0.235" stop-color="#2492FF"/><stop offset="0.245" stop-color="#3D91FF"/><stop offset="0.265" stop-color="#5B8EFF"/><stop offset="0.304" stop-color="#8288FF"/><stop offset="0.382" stop-color="#BA7AFF"/><stop offset="0.49" stop-color="#F65FFF"/><stop offset="0.51" stop-color="#FF57FE"/><stop offset="0.578" stop-color="#FF2BE0"/><stop offset="0.598" stop-color="#FF16D9"/><stop offset="0.608" stop-color="#FF03D5"/><stop offset="0.667" stop-color="#FF00C2"/><stop offset="0.853" stop-color="#FF0095"/><stop offset="1" stop-color="#FF0079"/></linearGradient>
<linearGradient id="e112" gradientUnits="userSpaceOnUse" x1="1522.83" y1="0" x2="1824.25" y2="0"><stop offset="0" stop-color="#00A6FF"/><stop offset="0.22" stop-color="#0090FF"/><stop offset="0.23" stop-color="#0B8FFF"/><stop offset="0.24" stop-color="#318EFF"/><stop offset="0.25" stop-color="#458DFF"/><stop offset="0.28" stop-color="#6A88FF"/><stop offset="0.34" stop-color="#9C7FFF"/><stop offset="0.46" stop-color="#E264FF"/><stop offset="0.52" stop-color="#FF4EFE"/><stop offset="0.57" stop-color="#FF2DE8"/><stop offset="0.59" stop-color="#FF19E0"/><stop offset="0.6" stop-color="#FF07DC"/><stop offset="0.61" stop-color="#FF00D9"/><stop offset="0.77" stop-color="#FF00AB"/><stop offset="1" stop-color="#FF007E"/></linearGradient>
<linearGradient id="e113" gradientUnits="userSpaceOnUse" x1="1523.78" y1="0" x2="1817.89" y2="0"><stop offset="0" stop-color="#00A3FF"/><stop offset="0.224" stop-color="#008CFF"/><stop offset="0.235" stop-color="#238BFF"/><stop offset="0.245" stop-color="#3B8AFF"/><stop offset="0.265" stop-color="#5987FF"/><stop offset="0.306" stop-color="#8081FF"/><stop offset="0.388" stop-color="#B772FF"/><stop offset="0.49" stop-color="#ED56FF"/><stop offset="0.531" stop-color="#FF45FE"/><stop offset="0.571" stop-color="#FF26EC"/><stop offset="0.582" stop-color="#FF1CE8"/><stop offset="0.592" stop-color="#FF0BE4"/><stop offset="0.602" stop-color="#FF00E0"/><stop offset="0.755" stop-color="#FF00B3"/><stop offset="1" stop-color="#FF0082"/></linearGradient>
<linearGradient id="e114" gradientUnits="userSpaceOnUse" x1="1524.75" y1="0" x2="1811.53" y2="0"><stop offset="0" stop-color="#00A0FF"/><stop offset="0.221" stop-color="#0089FF"/><stop offset="0.232" stop-color="#1888FF"/><stop offset="0.242" stop-color="#3687FF"/><stop offset="0.263" stop-color="#5584FF"/><stop offset="0.305" stop-color="#7E7DFF"/><stop offset="0.389" stop-color="#B56EFF"/><stop offset="0.495" stop-color="#EB50FF"/><stop offset="0.537" stop-color="#FE3CFF"/><stop offset="0.568" stop-color="#FF23F2"/><stop offset="0.579" stop-color="#FF16EE"/><stop offset="0.589" stop-color="#FF00EA"/><stop offset="0.726" stop-color="#FF00BF"/><stop offset="0.958" stop-color="#FF008E"/><stop offset="1" stop-color="#FF0087"/></linearGradient>
<linearGradient id="e115" gradientUnits="userSpaceOnUse" x1="1525.73" y1="0" x2="1805.17" y2="0"><stop offset="0" stop-color="#009DFF"/><stop offset="0.226" stop-color="#0085FF"/><stop offset="0.237" stop-color="#2984FF"/><stop offset="0.247" stop-color="#3F82FF"/><stop offset="0.28" stop-color="#667EFF"/><stop offset="0.333" stop-color="#9075FF"/><stop offset="0.452" stop-color="#D25AFF"/><stop offset="0.527" stop-color="#F53CFF"/><stop offset="0.548" stop-color="#FF2FFF"/><stop offset="0.57" stop-color="#FF19F6"/><stop offset="0.581" stop-color="#FF05F2"/><stop offset="0.602" stop-color="#FF00EA"/><stop offset="0.731" stop-color="#FF00C3"/><stop offset="0.925" stop-color="#FF0099"/><stop offset="1" stop-color="#FF008C"/></linearGradient>
<linearGradient id="e116" gradientUnits="userSpaceOnUse" x1="1526.74" y1="0" x2="1798.81" y2="0"><stop offset="0" stop-color="#0099FF"/><stop offset="0.222" stop-color="#0082FF"/><stop offset="0.233" stop-color="#2181FF"/><stop offset="0.244" stop-color="#3A7FFF"/><stop offset="0.278" stop-color="#637AFF"/><stop offset="0.344" stop-color="#956FFF"/><stop offset="0.467" stop-color="#D551FF"/><stop offset="0.533" stop-color="#F333FF"/><stop offset="0.556" stop-color="#FD21FF"/><stop offset="0.567" stop-color="#FF13FD"/><stop offset="0.578" stop-color="#FF00F8"/><stop offset="0.711" stop-color="#FF00CD"/><stop offset="0.9" stop-color="#FF00A2"/><stop offset="1" stop-color="#FF0090"/></linearGradient>
<linearGradient id="e117" gradientUnits="userSpaceOnUse" x1="1527.75" y1="0" x2="1792.45" y2="0"><stop offset="0" stop-color="#0096FF"/><stop offset="0.216" stop-color="#0080FF"/><stop offset="0.227" stop-color="#077EFF"/><stop offset="0.239" stop-color="#2F7CFF"/><stop offset="0.261" stop-color="#5079FF"/><stop offset="0.295" stop-color="#7174FF"/><stop offset="0.375" stop-color="#A465FF"/><stop offset="0.489" stop-color="#DB44FF"/><stop offset="0.534" stop-color="#EF2CFF"/><stop offset="0.557" stop-color="#F815FF"/><stop offset="0.568" stop-color="#FD00FF"/><stop offset="0.739" stop-color="#FF00CA"/><stop offset="0.955" stop-color="#FF009D"/><stop offset="1" stop-color="#FF0095"/></linearGradient>
<linearGradient id="e118" gradientUnits="userSpaceOnUse" x1="1528.78" y1="0" x2="1786.09" y2="0"><stop offset="0" stop-color="#0093FF"/><stop offset="0.224" stop-color="#007BFF"/><stop offset="0.235" stop-color="#2879FF"/><stop offset="0.259" stop-color="#4D76FF"/><stop offset="0.306" stop-color="#776EFF"/><stop offset="0.388" stop-color="#A85EFF"/><stop offset="0.482" stop-color="#D441FF"/><stop offset="0.529" stop-color="#E827FF"/><stop offset="0.541" stop-color="#ED1DFF"/><stop offset="0.565" stop-color="#F600FF"/><stop offset="0.588" stop-color="#FF00FE"/><stop offset="0.729" stop-color="#FF00D1"/><stop offset="0.953" stop-color="#FF00A2"/><stop offset="1" stop-color="#FF009A"/></linearGradient>
<linearGradient id="e119" gradientUnits="userSpaceOnUse" x1="1529.82" y1="0" x2="1779.73" y2="0"><stop offset="0" stop-color="#008FFF"/><stop offset="0.217" stop-color="#0078FF"/><stop offset="0.229" stop-color="#1776FF"/><stop offset="0.241" stop-color="#3475FF"/><stop offset="0.265" stop-color="#5371FF"/><stop offset="0.313" stop-color="#7A69FF"/><stop offset="0.398" stop-color="#AA57FF"/><stop offset="0.482" stop-color="#D03CFF"/><stop offset="0.518" stop-color="#DF28FF"/><stop offset="0.53" stop-color="#E41EFF"/><stop offset="0.554" stop-color="#ED00FF"/><stop offset="0.602" stop-color="#FF00FE"/><stop offset="0.747" stop-color="#FF00D2"/><stop offset="0.964" stop-color="#FF00A5"/><stop offset="1" stop-color="#FF009F"/></linearGradient>
<linearGradient id="e120" gradientUnits="userSpaceOnUse" x1="1530.87" y1="0" x2="1773.37" y2="0"><stop offset="0" stop-color="#008CFF"/><stop offset="0.213" stop-color="#0075FF"/><stop offset="0.225" stop-color="#0673FF"/><stop offset="0.238" stop-color="#2E71FF"/><stop offset="0.263" stop-color="#4F6DFF"/><stop offset="0.313" stop-color="#7865FF"/><stop offset="0.4" stop-color="#A852FF"/><stop offset="0.475" stop-color="#C939FF"/><stop offset="0.512" stop-color="#D824FF"/><stop offset="0.525" stop-color="#DD18FF"/><stop offset="0.538" stop-color="#E204FF"/><stop offset="0.563" stop-color="#EC00FF"/><stop offset="0.613" stop-color="#FE00FF"/><stop offset="0.775" stop-color="#FF00D0"/><stop offset="1" stop-color="#FF00A4"/></linearGradient>
<linearGradient id="e121" gradientUnits="userSpaceOnUse" x1="1531.94" y1="0" x2="1767.01" y2="0"><stop offset="0" stop-color="#0089FF"/><stop offset="0.218" stop-color="#0070FF"/><stop offset="0.231" stop-color="#216EFF"/><stop offset="0.244" stop-color="#386CFF"/><stop offset="0.269" stop-color="#5568FF"/><stop offset="0.321" stop-color="#7B5FFF"/><stop offset="0.423" stop-color="#B046FF"/><stop offset="0.474" stop-color="#C533FF"/><stop offset="0.513" stop-color="#D41AFF"/><stop offset="0.526" stop-color="#D907FF"/><stop offset="0.538" stop-color="#DE00FF"/><stop offset="0.628" stop-color="#FE00FF"/><stop offset="0.808" stop-color="#FF00CE"/><stop offset="1" stop-color="#FF00A9"/></linearGradient>
<linearGradient id="e122" gradientUnits="userSpaceOnUse" x1="1533.01" y1="0" x2="1760.65" y2="0"><stop offset="0" stop-color="#0085FF"/><stop offset="0.213" stop-color="#006DFF"/><stop offset="0.24" stop-color="#3369FF"/><stop offset="0.267" stop-color="#5265FF"/><stop offset="0.307" stop-color="#715EFF"/><stop offset="0.4" stop-color="#A248FF"/><stop offset="0.467" stop-color="#BE30FF"/><stop offset="0.493" stop-color="#C920FF"/><stop offset="0.507" stop-color="#CE13FF"/><stop offset="0.52" stop-color="#D300FF"/><stop offset="0.653" stop-color="#FF00FD"/><stop offset="0.813" stop-color="#FF00D2"/><stop offset="1" stop-color="#FF00AE"/></linearGradient>
<linearGradient id="e123" gradientUnits="userSpaceOnUse" x1="1534.1" y1="0" x2="1754.29" y2="0"><stop offset="0" stop-color="#0081FF"/><stop offset="0.219" stop-color="#0068FF"/><stop offset="0.233" stop-color="#2866FF"/><stop offset="0.247" stop-color="#3D64FF"/><stop offset="0.288" stop-color="#625DFF"/><stop offset="0.356" stop-color="#8B4EFF"/><stop offset="0.438" stop-color="#AF36FF"/><stop offset="0.479" stop-color="#C020FF"/><stop offset="0.493" stop-color="#C515FF"/><stop offset="0.507" stop-color="#CA00FF"/><stop offset="0.671" stop-color="#FF00FD"/><stop offset="0.849" stop-color="#FF00CF"/><stop offset="1" stop-color="#FF00B4"/></linearGradient>
<linearGradient id="e124" gradientUnits="userSpaceOnUse" x1="1535.2" y1="0" x2="1747.93" y2="0"><stop offset="0" stop-color="#007DFF"/><stop offset="0.214" stop-color="#0064FF"/><stop offset="0.229" stop-color="#2162FF"/><stop offset="0.243" stop-color="#3860FF"/><stop offset="0.271" stop-color="#555BFF"/><stop offset="0.343" stop-color="#824DFF"/><stop offset="0.429" stop-color="#A833FF"/><stop offset="0.471" stop-color="#B91CFF"/><stop offset="0.5" stop-color="#C300FF"/><stop offset="0.686" stop-color="#FF00FE"/><stop offset="0.871" stop-color="#FF00D0"/><stop offset="1" stop-color="#FF00B9"/></linearGradient>
<linearGradient id="e125" gradientUnits="userSpaceOnUse" x1="1536.33" y1="0" x2="1741.57" y2="0"><stop offset="0" stop-color="#007AFF"/><stop offset="0.206" stop-color="#0062FF"/><stop offset="0.221" stop-color="#0960FF"/><stop offset="0.235" stop-color="#2E5DFF"/><stop offset="0.265" stop-color="#4E58FF"/><stop offset="0.324" stop-color="#754DFF"/><stop offset="0.426" stop-color="#A42FFF"/><stop offset="0.471" stop-color="#B514FF"/><stop offset="0.485" stop-color="#BA00FF"/><stop offset="0.706" stop-color="#FF00FE"/><stop offset="0.897" stop-color="#FF00D1"/><stop offset="1" stop-color="#FF00BF"/></linearGradient>
<linearGradient id="e126" gradientUnits="userSpaceOnUse" x1="1537.08" y1="0" x2="1737.33" y2="0"><stop offset="0" stop-color="#0077FF"/><stop offset="0.212" stop-color="#005EFF"/><stop offset="0.227" stop-color="#215CFF"/><stop offset="0.242" stop-color="#3859FF"/><stop offset="0.288" stop-color="#5F51FF"/><stop offset="0.379" stop-color="#8F3BFF"/><stop offset="0.439" stop-color="#A723FF"/><stop offset="0.455" stop-color="#AD19FF"/><stop offset="0.47" stop-color="#B208FF"/><stop offset="0.485" stop-color="#B700FF"/><stop offset="0.712" stop-color="#FE00FF"/><stop offset="0.924" stop-color="#FF00D0"/><stop offset="1" stop-color="#FF00C2"/></linearGradient>
<linearGradient id="e127" gradientUnits="userSpaceOnUse" x1="1537.84" y1="0" x2="1733.09" y2="0"><stop offset="0" stop-color="#0075FF"/><stop offset="0.215" stop-color="#005AFF"/><stop offset="0.231" stop-color="#2858FF"/><stop offset="0.262" stop-color="#4B53FF"/><stop offset="0.323" stop-color="#7346FF"/><stop offset="0.415" stop-color="#9C29FF"/><stop offset="0.446" stop-color="#A717FF"/><stop offset="0.462" stop-color="#AD05FF"/><stop offset="0.492" stop-color="#B700FF"/><stop offset="0.723" stop-color="#FC00FF"/><stop offset="0.815" stop-color="#FF00EA"/><stop offset="1" stop-color="#FF00C6"/></linearGradient>
<linearGradient id="e128" gradientUnits="userSpaceOnUse" x1="1538.63" y1="0" x2="1728.85" y2="0"><stop offset="0" stop-color="#0072FF"/><stop offset="0.206" stop-color="#0059FF"/><stop offset="0.238" stop-color="#3453FF"/><stop offset="0.27" stop-color="#514EFF"/><stop offset="0.333" stop-color="#7740FF"/><stop offset="0.413" stop-color="#9925FF"/><stop offset="0.46" stop-color="#AA00FF"/><stop offset="0.698" stop-color="#F200FF"/><stop offset="0.746" stop-color="#FE00FF"/><stop offset="0.968" stop-color="#FF00D0"/><stop offset="1" stop-color="#FF00CA"/></linearGradient>
<linearGradient id="e129" gradientUnits="userSpaceOnUse" x1="1539.42" y1="0" x2="1724.61" y2="0"><stop offset="0" stop-color="#006FFF"/><stop offset="0.213" stop-color="#0054FF"/><stop offset="0.23" stop-color="#2951FF"/><stop offset="0.246" stop-color="#3D4FFF"/><stop offset="0.295" stop-color="#6145FF"/><stop offset="0.377" stop-color="#892EFF"/><stop offset="0.426" stop-color="#9C14FF"/><stop offset="0.443" stop-color="#A201FF"/><stop offset="0.689" stop-color="#EB00FF"/><stop offset="0.77" stop-color="#FF00FD"/><stop offset="1" stop-color="#FF00CE"/></linearGradient>
<linearGradient id="e130" gradientUnits="userSpaceOnUse" x1="1540.21" y1="0" x2="1720.37" y2="0"><stop offset="0" stop-color="#006CFF"/><stop offset="0.2" stop-color="#0053FF"/><stop offset="0.217" stop-color="#1150FF"/><stop offset="0.233" stop-color="#2F4DFF"/><stop offset="0.267" stop-color="#4E47FF"/><stop offset="0.333" stop-color="#7437FF"/><stop offset="0.383" stop-color="#8A26FF"/><stop offset="0.417" stop-color="#9612FF"/><stop offset="0.433" stop-color="#9C00FF"/><stop offset="0.65" stop-color="#DD00FF"/><stop offset="0.783" stop-color="#FF00FF"/><stop offset="0.983" stop-color="#FF00D6"/><stop offset="1" stop-color="#FF00D3"/></linearGradient>
<linearGradient id="e131" gradientUnits="userSpaceOnUse" x1="1541.03" y1="0" x2="1716.13" y2="0"><stop offset="0" stop-color="#0069FF"/><stop offset="0.207" stop-color="#004EFF"/><stop offset="0.224" stop-color="#244BFF"/><stop offset="0.241" stop-color="#3948FF"/><stop offset="0.293" stop-color="#5F3DFF"/><stop offset="0.362" stop-color="#7F28FF"/><stop offset="0.397" stop-color="#8D17FF"/><stop offset="0.414" stop-color="#9306FF"/><stop offset="0.431" stop-color="#9900FF"/><stop offset="0.621" stop-color="#D200FF"/><stop offset="0.81" stop-color="#FF00FD"/><stop offset="1" stop-color="#FF00D7"/></linearGradient>
<linearGradient id="e132" gradientUnits="userSpaceOnUse" x1="1541.86" y1="0" x2="1711.89" y2="0"><stop offset="0" stop-color="#0066FF"/><stop offset="0.196" stop-color="#004CFF"/><stop offset="0.214" stop-color="#1349FF"/><stop offset="0.232" stop-color="#3046FF"/><stop offset="0.268" stop-color="#4F3EFF"/><stop offset="0.339" stop-color="#742BFF"/><stop offset="0.375" stop-color="#831BFF"/><stop offset="0.411" stop-color="#9000FF"/><stop offset="0.589" stop-color="#C600FF"/><stop offset="0.821" stop-color="#FF00FF"/><stop offset="1" stop-color="#FF00DB"/></linearGradient>
<linearGradient id="e133" gradientUnits="userSpaceOnUse" x1="1542.69" y1="0" x2="1707.65" y2="0"><stop offset="0" stop-color="#0062FF"/><stop offset="0.204" stop-color="#0047FF"/><stop offset="0.222" stop-color="#2544FF"/><stop offset="0.241" stop-color="#3A40FF"/><stop offset="0.278" stop-color="#5538FF"/><stop offset="0.352" stop-color="#781FFF"/><stop offset="0.37" stop-color="#8015FF"/><stop offset="0.389" stop-color="#8702FF"/><stop offset="0.593" stop-color="#C400FF"/><stop offset="0.833" stop-color="#FD00FF"/><stop offset="1" stop-color="#FF00E0"/></linearGradient>
<linearGradient id="e134" gradientUnits="userSpaceOnUse" x1="1543.56" y1="0" x2="1703.41" y2="0"><stop offset="0" stop-color="#005FFF"/><stop offset="0.189" stop-color="#0045FF"/><stop offset="0.208" stop-color="#0A42FF"/><stop offset="0.226" stop-color="#2D3EFF"/><stop offset="0.264" stop-color="#4C36FF"/><stop offset="0.34" stop-color="#721DFF"/><stop offset="0.358" stop-color="#7A12FF"/><stop offset="0.377" stop-color="#8100FF"/><stop offset="0.566" stop-color="#BA00FF"/><stop offset="0.868" stop-color="#FF00FE"/><stop offset="1" stop-color="#FF00E5"/></linearGradient>
<linearGradient id="e135" gradientUnits="userSpaceOnUse" x1="1544.44" y1="0" x2="1699.17" y2="0"><stop offset="0" stop-color="#005BFF"/><stop offset="0.196" stop-color="#0040FF"/><stop offset="0.216" stop-color="#213CFF"/><stop offset="0.235" stop-color="#3738FF"/><stop offset="0.294" stop-color="#5D28FF"/><stop offset="0.333" stop-color="#6E17FF"/><stop offset="0.353" stop-color="#7607FF"/><stop offset="0.373" stop-color="#7E00FF"/><stop offset="0.549" stop-color="#B200FF"/><stop offset="0.843" stop-color="#F600FF"/><stop offset="0.902" stop-color="#FF00FC"/><stop offset="1" stop-color="#FF00EA"/></linearGradient>
<linearGradient id="e136" gradientUnits="userSpaceOnUse" x1="1545.33" y1="0" x2="1694.93" y2="0"><stop offset="0" stop-color="#0058FF"/><stop offset="0.184" stop-color="#003DFF"/><stop offset="0.204" stop-color="#0F39FF"/><stop offset="0.224" stop-color="#2E35FF"/><stop offset="0.265" stop-color="#4D2AFF"/><stop offset="0.306" stop-color="#621BFF"/><stop offset="0.347" stop-color="#7300FF"/><stop offset="0.531" stop-color="#AB00FF"/><stop offset="0.857" stop-color="#F400FF"/><stop offset="0.918" stop-color="#FF00FE"/><stop offset="1" stop-color="#FF00EF"/></linearGradient>
<linearGradient id="e137" gradientUnits="userSpaceOnUse" x1="1546.23" y1="0" x2="1690.69" y2="0"><stop offset="0" stop-color="#0054FF"/><stop offset="0.188" stop-color="#0037FF"/><stop offset="0.208" stop-color="#1D33FF"/><stop offset="0.229" stop-color="#342EFF"/><stop offset="0.271" stop-color="#5021FF"/><stop offset="0.333" stop-color="#6C00FF"/><stop offset="0.479" stop-color="#9B00FF"/><stop offset="0.771" stop-color="#DE00FF"/><stop offset="0.938" stop-color="#FF00FF"/><stop offset="1" stop-color="#FF00F4"/></linearGradient>
<linearGradient id="e138" gradientUnits="userSpaceOnUse" x1="1547.18" y1="0" x2="1686.45" y2="0"><stop offset="0" stop-color="#004FFF"/><stop offset="0.174" stop-color="#0035FF"/><stop offset="0.196" stop-color="#0730FF"/><stop offset="0.217" stop-color="#2B2AFF"/><stop offset="0.261" stop-color="#4B1CFF"/><stop offset="0.283" stop-color="#5611FF"/><stop offset="0.304" stop-color="#6000FF"/><stop offset="0.435" stop-color="#8C00FF"/><stop offset="0.652" stop-color="#C100FF"/><stop offset="0.957" stop-color="#FD00FF"/><stop offset="1" stop-color="#FF00F9"/></linearGradient>
<linearGradient id="e139" gradientUnits="userSpaceOnUse" x1="1548.14" y1="0" x2="1682.21" y2="0"><stop offset="0" stop-color="#004BFF"/><stop offset="0.159" stop-color="#0032FF"/><stop offset="0.182" stop-color="#002DFF"/><stop offset="0.205" stop-color="#2027FF"/><stop offset="0.227" stop-color="#3620FF"/><stop offset="0.273" stop-color="#5107FF"/><stop offset="0.295" stop-color="#5C00FF"/><stop offset="0.432" stop-color="#8900FF"/><stop offset="0.659" stop-color="#BF00FF"/><stop offset="1" stop-color="#FF00FF"/></linearGradient>
<linearGradient id="e140" gradientUnits="userSpaceOnUse" x1="1549.09" y1="0" x2="1677.97" y2="0"><stop offset="0" stop-color="#0046FF"/><stop offset="0.143" stop-color="#002FFF"/><stop offset="0.167" stop-color="#0029FF"/><stop offset="0.19" stop-color="#0E23FF"/><stop offset="0.214" stop-color="#2D1BFF"/><stop offset="0.262" stop-color="#4C00FF"/><stop offset="0.357" stop-color="#7200FF"/><stop offset="0.548" stop-color="#A400FF"/><stop offset="0.881" stop-color="#E500FF"/><stop offset="1" stop-color="#FA00FF"/></linearGradient>
<linearGradient id="e141" gradientUnits="userSpaceOnUse" x1="1550.12" y1="0" x2="1673.73" y2="0"><stop offset="0" stop-color="#0041FF"/><stop offset="0.146" stop-color="#0027FF"/><stop offset="0.171" stop-color="#0020FF"/><stop offset="0.195" stop-color="#1D17FF"/><stop offset="0.22" stop-color="#3409FF"/><stop offset="0.244" stop-color="#4300FF"/><stop offset="0.317" stop-color="#6300FF"/><stop offset="0.488" stop-color="#9400FF"/><stop offset="0.805" stop-color="#D300FF"/><stop offset="1" stop-color="#F400FF"/></linearGradient>
<linearGradient id="e142" gradientUnits="userSpaceOnUse" x1="1551.15" y1="0" x2="1669.49" y2="0"><stop offset="0" stop-color="#003BFF"/><stop offset="0.128" stop-color="#0023FF"/><stop offset="0.154" stop-color="#001BFF"/><stop offset="0.179" stop-color="#0A10FF"/><stop offset="0.205" stop-color="#2C00FF"/><stop offset="0.256" stop-color="#4B00FF"/><stop offset="0.359" stop-color="#7000FF"/><stop offset="0.564" stop-color="#A200FF"/><stop offset="0.949" stop-color="#E600FF"/><stop offset="1" stop-color="#EE00FF"/></linearGradient>
<linearGradient id="e143" gradientUnits="userSpaceOnUse" x1="1552.18" y1="0" x2="1665.25" y2="0"><stop offset="0" stop-color="#0035FF"/><stop offset="0.108" stop-color="#001FFF"/><stop offset="0.162" stop-color="#0006FF"/><stop offset="0.189" stop-color="#2100FF"/><stop offset="0.216" stop-color="#3600FF"/><stop offset="0.27" stop-color="#5100FF"/><stop offset="0.378" stop-color="#7400FF"/><stop offset="0.568" stop-color="#A000FF"/><stop offset="0.973" stop-color="#E500FF"/><stop offset="1" stop-color="#E900FF"/></linearGradient>
<linearGradient id="e144" gradientUnits="userSpaceOnUse" x1="1553.29" y1="0" x2="1661.01" y2="0"><stop offset="0" stop-color="#002EFF"/><stop offset="0.086" stop-color="#001AFF"/><stop offset="0.143" stop-color="#0000FF"/><stop offset="0.171" stop-color="#1300FF"/><stop offset="0.2" stop-color="#2F00FF"/><stop offset="0.257" stop-color="#4C00FF"/><stop offset="0.371" stop-color="#7100FF"/><stop offset="0.6" stop-color="#A300FF"/><stop offset="1" stop-color="#E300FF"/></linearGradient>
<linearGradient id="e145" gradientUnits="userSpaceOnUse" x1="1554.42" y1="0" x2="1656.77" y2="0"><stop offset="0" stop-color="#0025FF"/><stop offset="0.059" stop-color="#0014FF"/><stop offset="0.088" stop-color="#0005FF"/><stop offset="0.147" stop-color="#0000FF"/><stop offset="0.176" stop-color="#2100FF"/><stop offset="0.206" stop-color="#3600FF"/><stop offset="0.294" stop-color="#5A00FF"/><stop offset="0.441" stop-color="#8100FF"/><stop offset="0.735" stop-color="#B600FF"/><stop offset="1" stop-color="#DD00FF"/></linearGradient>
<linearGradient id="e146" gradientUnits="userSpaceOnUse" x1="1555.55" y1="0" x2="1652.53" y2="0"><stop offset="0" stop-color="#0019FF"/><stop offset="0.062" stop-color="#0000FF"/><stop offset="0.125" stop-color="#0000FF"/><stop offset="0.156" stop-color="#1300FF"/><stop offset="0.187" stop-color="#2F00FF"/><stop offset="0.25" stop-color="#4C00FF"/><stop offset="0.375" stop-color="#7000FF"/><stop offset="0.656" stop-color="#A600FF"/><stop offset="1" stop-color="#D800FF"/></linearGradient>
<linearGradient id="e147" gradientUnits="userSpaceOnUse" x1="1556.79" y1="0" x2="1648.29" y2="0"><stop offset="0" stop-color="#0002FF"/><stop offset="0.133" stop-color="#0000FF"/><stop offset="0.167" stop-color="#2600FF"/><stop offset="0.233" stop-color="#4700FF"/><stop offset="0.367" stop-color="#6D00FF"/><stop offset="0.633" stop-color="#9F00FF"/><stop offset="1" stop-color="#D200FF"/></linearGradient>
<linearGradient id="e148" gradientUnits="userSpaceOnUse" x1="1558.08" y1="0" x2="1644.05" y2="0"><stop offset="0" stop-color="#0000FF"/><stop offset="0.107" stop-color="#0000FF"/><stop offset="0.143" stop-color="#1C00FF"/><stop offset="0.179" stop-color="#3300FF"/><stop offset="0.286" stop-color="#5900FF"/><stop offset="0.5" stop-color="#8600FF"/><stop offset="0.929" stop-color="#C400FF"/><stop offset="1" stop-color="#CC00FF"/></linearGradient>
<linearGradient id="e149" gradientUnits="userSpaceOnUse" x1="1559.36" y1="0" x2="1639.81" y2="0"><stop offset="0" stop-color="#0000FF"/><stop offset="0.077" stop-color="#0000FF"/><stop offset="0.115" stop-color="#0C00FF"/><stop offset="0.154" stop-color="#2C00FF"/><stop offset="0.231" stop-color="#4A00FF"/><stop offset="0.346" stop-color="#6700FF"/><stop offset="0.615" stop-color="#9600FF"/><stop offset="1" stop-color="#C600FF"/></linearGradient>
<linearGradient id="e150" gradientUnits="userSpaceOnUse" x1="1560.84" y1="0" x2="1635.57" y2="0"><stop offset="0" stop-color="#0000FF"/><stop offset="0.083" stop-color="#0000FF"/><stop offset="0.125" stop-color="#2400FF"/><stop offset="0.167" stop-color="#3800FF"/><stop offset="0.292" stop-color="#5C00FF"/><stop offset="0.542" stop-color="#8800FF"/><stop offset="1" stop-color="#C100FF"/></linearGradient>
<linearGradient id="e151" gradientUnits="userSpaceOnUse" x1="1562.38" y1="0" x2="1631.33" y2="0"><stop offset="0" stop-color="#0000FF"/><stop offset="0.045" stop-color="#0000FF"/><stop offset="0.136" stop-color="#3300FF"/><stop offset="0.273" stop-color="#5900FF"/><stop offset="0.545" stop-color="#8600FF"/><stop offset="1" stop-color="#BB00FF"/></linearGradient>
<linearGradient id="e152" gradientUnits="userSpaceOnUse" x1="1563.91" y1="0" x2="1627.09" y2="0"><stop offset="0" stop-color="#0000FF"/><stop offset="0.048" stop-color="#0A00FF"/><stop offset="0.095" stop-color="#2A00FF"/><stop offset="0.19" stop-color="#4800FF"/><stop offset="0.381" stop-color="#6C00FF"/><stop offset="0.714" stop-color="#9800FF"/><stop offset="1" stop-color="#B500FF"/></linearGradient>
<linearGradient id="e153" gradientUnits="userSpaceOnUse" x1="1565.73" y1="0" x2="1622.85" y2="0"><stop offset="0" stop-color="#0000FF"/><stop offset="0.053" stop-color="#2500FF"/><stop offset="0.105" stop-color="#3800FF"/><stop offset="0.263" stop-color="#5A00FF"/><stop offset="0.526" stop-color="#7F00FF"/><stop offset="1" stop-color="#AF00FF"/></linearGradient>
<linearGradient id="e154" gradientUnits="userSpaceOnUse" x1="1567.56" y1="0" x2="1618.61" y2="0"><stop offset="0" stop-color="#2000FF"/><stop offset="0.118" stop-color="#4300FF"/><stop offset="0.353" stop-color="#6900FF"/><stop offset="0.882" stop-color="#9F00FF"/><stop offset="1" stop-color="#A800FF"/></linearGradient>
<linearGradient id="e155" gradientUnits="userSpaceOnUse" x1="1569.5" y1="0" x2="1614.37" y2="0"><stop offset="0" stop-color="#3100FF"/><stop offset="0.143" stop-color="#4D00FF"/><stop offset="0.429" stop-color="#7100FF"/><stop offset="0.929" stop-color="#9D00FF"/><stop offset="1" stop-color="#A200FF"/></linearGradient>
<linearGradient id="e156" gradientUnits="userSpaceOnUse" x1="1571.67" y1="0" x2="1610.13" y2="0"><stop offset="0" stop-color="#3F00FF"/><stop offset="0.25" stop-color="#6000FF"/><stop offset="0.75" stop-color="#8A00FF"/><stop offset="1" stop-color="#9B00FF"/></linearGradient>
<linearGradient id="e157" gradientUnits="userSpaceOnUse" x1="1573.83" y1="0" x2="1605.89" y2="0"><stop offset="0" stop-color="#4900FF"/><stop offset="0.3" stop-color="#6700FF"/><stop offset="1" stop-color="#9500FF"/></linearGradient>
<linearGradient id="e158" gradientUnits="userSpaceOnUse" x1="1576.06" y1="0" x2="1601.65" y2="0"><stop offset="0" stop-color="#5300FF"/><stop offset="0.75" stop-color="#8200FF"/><stop offset="1" stop-color="#8E00FF"/></linearGradient>
<linearGradient id="e159" gradientUnits="userSpaceOnUse" x1="1578.29" y1="0" x2="1597.41" y2="0"><stop offset="0" stop-color="#5B00FF"/><stop offset="1" stop-color="#8700FF"/></linearGradient>
<linearGradient id="e160" gradientUnits="userSpaceOnUse" x1="1581.14" y1="0" x2="1593.17" y2="0"><stop offset="0" stop-color="#6400FF"/><stop offset="1" stop-color="#7F00FF"/></linearGradient>
<linearGradient id="e161" gradientUnits="userSpaceOnUse" x1="1584.5" y1="0" x2="1588.93" y2="0"><stop offset="0" stop-color="#6D00FF"/><stop offset="1" stop-color="#7700FF"/></linearGradient>
</defs>
<g clip-path="url(#cl)">
<rect x="1512.94" y="344.91" width="33.17" height="4.6" fill="url(#e0)"/>
<rect x="1506.75" y="348.91" width="48.86" height="4.6" fill="url(#e1)"/>
<rect x="1502.22" y="352.91" width="61.63" height="4.6" fill="url(#e2)"/>
<rect x="1498.63" y="356.91" width="72.62" height="4.6" fill="url(#e3)"/>
<rect x="1495.87" y="360.91" width="82.23" height="4.6" fill="url(#e4)"/>
<rect x="1493.47" y="364.91" width="91.12" height="4.6" fill="url(#e5)"/>
<rect x="1491.45" y="368.91" width="99.34" height="4.6" fill="url(#e6)"/>
<rect x="1489.83" y="372.91" width="106.9" height="4.6" fill="url(#e7)"/>
<rect x="1488.35" y="376.91" width="114.09" height="4.6" fill="url(#e8)"/>
<rect x="1487.17" y="380.91" width="120.77" height="4.6" fill="url(#e9)"/>
<rect x="1486.08" y="384.91" width="127.17" height="4.6" fill="url(#e10)"/>
<rect x="1485.14" y="388.91" width="133.28" height="4.6" fill="url(#e11)"/>
<rect x="1484.3" y="392.91" width="139.16" height="4.6" fill="url(#e12)"/>
<rect x="1483.51" y="396.91" width="144.86" height="4.6" fill="url(#e13)"/>
<rect x="1482.8" y="400.91" width="150.39" height="4.6" fill="url(#e14)"/>
<rect x="1482.12" y="404.91" width="155.81" height="4.6" fill="url(#e15)"/>
<rect x="1481.51" y="408.91" width="161.06" height="4.6" fill="url(#e16)"/>
<rect x="1480.93" y="412.91" width="166.22" height="4.6" fill="url(#e17)"/>
<rect x="1480.41" y="416.91" width="171.25" height="4.6" fill="url(#e18)"/>
<rect x="1479.93" y="420.91" width="176.18" height="4.6" fill="url(#e19)"/>
<rect x="1479.49" y="424.91" width="181.01" height="4.6" fill="url(#e20)"/>
<rect x="1479.1" y="428.91" width="185.73" height="4.6" fill="url(#e21)"/>
<rect x="1478.74" y="432.91" width="190.4" height="4.6" fill="url(#e22)"/>
<rect x="1478.45" y="436.91" width="194.96" height="4.6" fill="url(#e23)"/>
<rect x="1478.17" y="440.91" width="199.48" height="4.6" fill="url(#e24)"/>
<rect x="1477.94" y="444.91" width="203.91" height="4.6" fill="url(#e25)"/>
<rect x="1477.75" y="448.91" width="208.28" height="4.6" fill="url(#e26)"/>
<rect x="1477.59" y="452.91" width="212.6" height="4.6" fill="url(#e27)"/>
<rect x="1477.47" y="456.91" width="216.86" height="4.6" fill="url(#e28)"/>
<rect x="1477.38" y="460.91" width="221.08" height="4.6" fill="url(#e29)"/>
<rect x="1477.33" y="464.91" width="225.24" height="4.6" fill="url(#e30)"/>
<rect x="1477.29" y="468.91" width="229.37" height="4.6" fill="url(#e31)"/>
<rect x="1477.29" y="472.91" width="233.44" height="4.6" fill="url(#e32)"/>
<rect x="1477.31" y="476.91" width="237.47" height="4.6" fill="url(#e33)"/>
<rect x="1477.34" y="480.91" width="241.48" height="4.6" fill="url(#e34)"/>
<rect x="1477.41" y="484.91" width="245.44" height="4.6" fill="url(#e35)"/>
<rect x="1477.5" y="488.91" width="249.37" height="4.6" fill="url(#e36)"/>
<rect x="1477.61" y="492.91" width="253.26" height="4.6" fill="url(#e37)"/>
<rect x="1477.75" y="496.91" width="257.12" height="4.6" fill="url(#e38)"/>
<rect x="1477.91" y="500.91" width="260.96" height="4.6" fill="url(#e39)"/>
<rect x="1478.11" y="504.91" width="264.76" height="4.6" fill="url(#e40)"/>
<rect x="1478.31" y="508.91" width="268.56" height="4.6" fill="url(#e41)"/>
<rect x="1478.55" y="512.91" width="272.32" height="4.6" fill="url(#e42)"/>
<rect x="1478.79" y="516.91" width="276.06" height="4.6" fill="url(#e43)"/>
<rect x="1479.07" y="520.91" width="279.77" height="4.6" fill="url(#e44)"/>
<rect x="1479.35" y="524.91" width="283.46" height="4.6" fill="url(#e45)"/>
<rect x="1479.66" y="528.91" width="287.12" height="4.6" fill="url(#e46)"/>
<rect x="1479.98" y="532.91" width="290.75" height="4.6" fill="url(#e47)"/>
<rect x="1480.31" y="536.91" width="294.38" height="4.6" fill="url(#e48)"/>
<rect x="1480.66" y="540.91" width="297.98" height="4.6" fill="url(#e49)"/>
<rect x="1481.02" y="544.91" width="301.57" height="4.6" fill="url(#e50)"/>
<rect x="1481.41" y="548.91" width="305.14" height="4.6" fill="url(#e51)"/>
<rect x="1481.8" y="552.91" width="308.7" height="4.6" fill="url(#e52)"/>
<rect x="1482.21" y="556.91" width="312.24" height="4.6" fill="url(#e53)"/>
<rect x="1482.63" y="560.91" width="315.76" height="4.6" fill="url(#e54)"/>
<rect x="1483.06" y="564.91" width="319.28" height="4.6" fill="url(#e55)"/>
<rect x="1483.51" y="568.91" width="322.77" height="4.6" fill="url(#e56)"/>
<rect x="1483.97" y="572.91" width="326.26" height="4.6" fill="url(#e57)"/>
<rect x="1484.45" y="576.91" width="329.72" height="4.6" fill="url(#e58)"/>
<rect x="1484.94" y="580.91" width="333.19" height="4.6" fill="url(#e59)"/>
<rect x="1485.45" y="584.91" width="336.64" height="4.6" fill="url(#e60)"/>
<rect x="1485.97" y="588.91" width="340.08" height="4.6" fill="url(#e61)"/>
<rect x="1486.5" y="592.91" width="343.52" height="4.6" fill="url(#e62)"/>
<rect x="1487.04" y="596.91" width="346.94" height="4.6" fill="url(#e63)"/>
<rect x="1487.6" y="600.91" width="350.35" height="4.6" fill="url(#e64)"/>
<rect x="1488.17" y="604.91" width="353.72" height="4.6" fill="url(#e65)"/>
<rect x="1488.76" y="608.91" width="357.09" height="4.6" fill="url(#e66)"/>
<rect x="1489.36" y="612.91" width="360.42" height="4.6" fill="url(#e67)"/>
<rect x="1489.97" y="616.91" width="363.74" height="4.6" fill="url(#e68)"/>
<rect x="1490.59" y="620.91" width="367.06" height="4.6" fill="url(#e69)"/>
<rect x="1491.23" y="624.91" width="370.36" height="4.6" fill="url(#e70)"/>
<rect x="1491.88" y="628.91" width="373.67" height="4.6" fill="url(#e71)"/>
<rect x="1492.55" y="632.91" width="376.96" height="4.6" fill="url(#e72)"/>
<rect x="1493.22" y="636.91" width="380.24" height="4.6" fill="url(#e73)"/>
<rect x="1493.91" y="640.91" width="383.5" height="4.6" fill="url(#e74)"/>
<rect x="1494.61" y="644.91" width="386.75" height="4.6" fill="url(#e75)"/>
<rect x="1495.32" y="648.91" width="390" height="4.6" fill="url(#e76)"/>
<rect x="1496.05" y="652.91" width="393.24" height="4.6" fill="url(#e77)"/>
<rect x="1496.78" y="656.91" width="396.49" height="4.6" fill="url(#e78)"/>
<rect x="1497.53" y="660.91" width="399.73" height="4.6" fill="url(#e79)"/>
<rect x="1498.29" y="664.91" width="402.93" height="4.6" fill="url(#e80)"/>
<rect x="1499.07" y="668.91" width="406.09" height="4.6" fill="url(#e81)"/>
<rect x="1499.85" y="672.91" width="409.24" height="4.6" fill="url(#e82)"/>
<rect x="1500.64" y="676.91" width="412.37" height="4.6" fill="url(#e83)"/>
<rect x="1501.45" y="680.91" width="415.53" height="4.6" fill="url(#e84)"/>
<rect x="1502.27" y="684.91" width="418.69" height="4.6" fill="url(#e85)"/>
<rect x="1503.1" y="688.91" width="420.82" height="3.6" fill="url(#e86)"/>
<rect x="1503.72" y="691.91" width="423.15" height="3.6" fill="url(#e87)"/>
<rect x="1504.36" y="694.91" width="425.47" height="3.6" fill="url(#e88)"/>
<rect x="1505" y="697.91" width="427.78" height="3.6" fill="url(#e89)"/>
<rect x="1505.65" y="700.91" width="430.12" height="3.6" fill="url(#e90)"/>
<rect x="1506.3" y="703.91" width="432.44" height="3.6" fill="url(#e91)"/>
<rect x="1506.96" y="706.91" width="434.74" height="3.6" fill="url(#e92)"/>
<rect x="1507.64" y="709.91" width="434.26" height="3.6" fill="url(#e93)"/>
<rect x="1508.32" y="712.91" width="430.4" height="3.6" fill="url(#e94)"/>
<rect x="1509.01" y="715.91" width="423.35" height="3.6" fill="url(#e95)"/>
<rect x="1509.72" y="718.91" width="416.29" height="3.6" fill="url(#e96)"/>
<rect x="1510.43" y="721.91" width="409.22" height="3.6" fill="url(#e97)"/>
<rect x="1511.15" y="724.91" width="402.13" height="3.6" fill="url(#e98)"/>
<rect x="1511.88" y="727.91" width="395.04" height="3.6" fill="url(#e99)"/>
<rect x="1512.64" y="730.91" width="387.92" height="3.6" fill="url(#e100)"/>
<rect x="1513.4" y="733.91" width="380.8" height="3.6" fill="url(#e101)"/>
<rect x="1514.18" y="736.91" width="373.66" height="3.6" fill="url(#e102)"/>
<rect x="1514.97" y="739.91" width="366.51" height="3.6" fill="url(#e103)"/>
<rect x="1515.78" y="742.91" width="359.35" height="3.6" fill="url(#e104)"/>
<rect x="1516.6" y="745.91" width="352.16" height="3.6" fill="url(#e105)"/>
<rect x="1517.43" y="748.91" width="344.97" height="3.6" fill="url(#e106)"/>
<rect x="1518.3" y="751.91" width="337.75" height="3.6" fill="url(#e107)"/>
<rect x="1519.16" y="754.91" width="330.53" height="3.6" fill="url(#e108)"/>
<rect x="1520.06" y="757.91" width="323.27" height="3.6" fill="url(#e109)"/>
<rect x="1520.96" y="760.91" width="316" height="3.6" fill="url(#e110)"/>
<rect x="1521.89" y="763.91" width="308.72" height="3.6" fill="url(#e111)"/>
<rect x="1522.83" y="766.91" width="301.42" height="3.6" fill="url(#e112)"/>
<rect x="1523.78" y="769.91" width="294.11" height="3.6" fill="url(#e113)"/>
<rect x="1524.75" y="772.91" width="286.77" height="3.6" fill="url(#e114)"/>
<rect x="1525.73" y="775.91" width="279.44" height="3.6" fill="url(#e115)"/>
<rect x="1526.74" y="778.91" width="272.07" height="3.6" fill="url(#e116)"/>
<rect x="1527.75" y="781.91" width="264.7" height="3.6" fill="url(#e117)"/>
<rect x="1528.78" y="784.91" width="257.31" height="3.6" fill="url(#e118)"/>
<rect x="1529.82" y="787.91" width="249.91" height="3.6" fill="url(#e119)"/>
<rect x="1530.87" y="790.91" width="242.5" height="3.6" fill="url(#e120)"/>
<rect x="1531.94" y="793.91" width="235.07" height="3.6" fill="url(#e121)"/>
<rect x="1533.01" y="796.91" width="227.64" height="3.6" fill="url(#e122)"/>
<rect x="1534.1" y="799.91" width="220.19" height="3.6" fill="url(#e123)"/>
<rect x="1535.2" y="802.91" width="212.73" height="3.6" fill="url(#e124)"/>
<rect x="1536.33" y="805.91" width="205.24" height="2.6" fill="url(#e125)"/>
<rect x="1537.08" y="807.91" width="200.25" height="2.6" fill="url(#e126)"/>
<rect x="1537.84" y="809.91" width="195.25" height="2.6" fill="url(#e127)"/>
<rect x="1538.63" y="811.91" width="190.22" height="2.6" fill="url(#e128)"/>
<rect x="1539.42" y="813.91" width="185.19" height="2.6" fill="url(#e129)"/>
<rect x="1540.21" y="815.91" width="180.16" height="2.6" fill="url(#e130)"/>
<rect x="1541.03" y="817.91" width="175.1" height="2.6" fill="url(#e131)"/>
<rect x="1541.86" y="819.91" width="170.03" height="2.6" fill="url(#e132)"/>
<rect x="1542.69" y="821.91" width="164.96" height="2.6" fill="url(#e133)"/>
<rect x="1543.56" y="823.91" width="159.85" height="2.6" fill="url(#e134)"/>
<rect x="1544.44" y="825.91" width="154.73" height="2.6" fill="url(#e135)"/>
<rect x="1545.33" y="827.91" width="149.6" height="2.6" fill="url(#e136)"/>
<rect x="1546.23" y="829.91" width="144.46" height="2.6" fill="url(#e137)"/>
<rect x="1547.18" y="831.91" width="139.27" height="2.6" fill="url(#e138)"/>
<rect x="1548.14" y="833.91" width="134.08" height="2.6" fill="url(#e139)"/>
<rect x="1549.09" y="835.91" width="128.88" height="2.6" fill="url(#e140)"/>
<rect x="1550.12" y="837.91" width="123.61" height="2.6" fill="url(#e141)"/>
<rect x="1551.15" y="839.91" width="118.34" height="2.6" fill="url(#e142)"/>
<rect x="1552.18" y="841.91" width="113.07" height="2.6" fill="url(#e143)"/>
<rect x="1553.29" y="843.91" width="107.72" height="2.6" fill="url(#e144)"/>
<rect x="1554.42" y="845.91" width="102.35" height="2.6" fill="url(#e145)"/>
<rect x="1555.55" y="847.91" width="96.99" height="2.6" fill="url(#e146)"/>
<rect x="1556.79" y="849.91" width="91.5" height="2.6" fill="url(#e147)"/>
<rect x="1558.08" y="851.91" width="85.98" height="2.6" fill="url(#e148)"/>
<rect x="1559.36" y="853.91" width="80.45" height="2.6" fill="url(#e149)"/>
<rect x="1560.84" y="855.91" width="74.74" height="2.6" fill="url(#e150)"/>
<rect x="1562.38" y="857.91" width="68.96" height="2.6" fill="url(#e151)"/>
<rect x="1563.91" y="859.91" width="63.18" height="2.6" fill="url(#e152)"/>
<rect x="1565.73" y="861.91" width="57.12" height="2.6" fill="url(#e153)"/>
<rect x="1567.56" y="863.91" width="51.05" height="2.6" fill="url(#e154)"/>
<rect x="1569.5" y="865.91" width="44.87" height="2.6" fill="url(#e155)"/>
<rect x="1571.67" y="867.91" width="38.47" height="2.6" fill="url(#e156)"/>
<rect x="1573.83" y="869.91" width="32.06" height="2.6" fill="url(#e157)"/>
<rect x="1576.06" y="871.91" width="25.6" height="2.6" fill="url(#e158)"/>
<rect x="1578.29" y="873.91" width="19.13" height="2.6" fill="url(#e159)"/>
<rect x="1581.14" y="875.91" width="12.04" height="2.6" fill="url(#e160)"/>
<rect x="1584.5" y="877.91" width="4.43" height="2.6" fill="url(#e161)"/>
</g>
<g clip-path="url(#ce)">
<polygon points="1586.64,878.59 1580.81,875.13 1575.52,870.38 1570.31,865.57 1565.49,860.31 1561.16,854.67 1557.31,848.67 1553.8,842.45 1550.53,836.1 1547.47,829.65 1544.57,823.12 1541.83,816.52 1539.21,809.87 1536.68,803.18 1534.24,796.46 1531.84,789.72 1529.5,782.96 1527.22,776.18 1525.01,769.38 1522.87,762.56 1520.81,755.71 1518.82,748.84 1516.93,741.94 1515.11,735.03 1513.35,728.09 1511.67,721.13 1510.03,714.16 1508.45,707.18 1506.92,700.18 1505.42,693.18 1503.96,686.17 1502.53,679.15 1501.13,672.13 1499.77,665.1 1498.44,658.07 1497.15,651.03 1495.89,643.98 1494.67,636.93 1493.49,629.87 1492.34,622.8 1491.24,615.73 1490.17,608.65 1489.15,601.57 1488.17,594.48 1487.22,587.39 1486.32,580.29 1485.47,573.18 1484.65,566.06 1483.88,558.94 1483.16,551.81 1482.47,544.68 1481.84,537.53 1481.24,530.38 1480.7,523.22 1480.22,516.06 1479.79,508.9 1479.43,501.73 1479.15,494.57 1478.94,487.41 1478.82,480.25 1478.79,473.1 1478.86,465.95 1479.03,458.82 1479.31,451.69 1479.7,444.57 1480.22,437.45 1480.86,430.34 1481.65,423.22 1482.57,416.1 1483.65,408.98 1484.89,401.84 1486.29,394.7 1487.96,387.61 1490.01,380.66 1492.58,373.94 1495.8,367.55 1499.8,361.57 1504.69,356.12 1510.38,351.47 1516.68,347.96 1523.39,345.96 1530.31,345.71 1537.31,346.89 1544.25,349.07 1551,351.78 1557.5,354.76 1563.79,357.94 1569.95,361.32 1576.02,364.86 1582.04,368.54 1588.01,372.36 1593.92,376.3 1599.75,380.36 1605.5,384.51 1611.17,388.76 1616.78,393.1 1622.33,397.51 1627.83,401.99 1633.28,406.53 1638.69,411.13 1644.04,415.79 1649.36,420.49 1654.64,425.24 1659.89,430.02 1665.1,434.84 1670.29,439.69 1675.46,444.56 1680.61,449.45 1685.74,454.37 1690.86,459.29 1695.96,464.23 1701.05,469.19 1706.13,474.16 1711.19,479.14 1716.24,484.14 1721.28,489.14 1726.31,494.16 1731.34,499.18 1736.36,504.2 1741.39,509.23 1746.41,514.25 1751.43,519.28 1756.45,524.32 1761.45,529.36 1766.46,534.4 1771.45,539.45 1776.45,544.51 1781.44,549.56 1786.44,554.62 1791.43,559.68 1796.42,564.73 1801.41,569.79 1806.4,574.85 1811.39,579.91 1816.38,584.97 1821.38,590.02 1826.38,595.06 1831.39,600.11 1836.39,605.15 1841.39,610.21 1846.37,615.27 1851.35,620.34 1856.34,625.4 1861.33,630.46 1866.32,635.51 1871.32,640.57 1876.32,645.62 1881.31,650.68 1886.31,655.72 1891.33,660.76 1896.34,665.79 1901.34,670.85 1906.31,675.91 1911.29,680.99 1916.3,686.03 1921.3,691.07 1926.29,696.14 1931.27,701.21 1936.29,706.24 1941.27,711.3" fill="none" stroke="#000" stroke-width="1.7" stroke-linejoin="round"/>
<path d="M1575.57 870.42L1569.41 876.99M1567.59 862.71L1561.02 868.86M1562.22 856.16L1554.83 861.3M1555.01 844.65L1547.1 848.95M1545.83 826.02L1537.57 829.58M1534.26 796.52L1525.77 799.52M1519.96 752.82L1511.29 755.23M1505.22 692.21L1496.41 694.06M1491.37 616.57L1482.47 617.91M1481.69 535.79L1472.72 536.5M1478.97 460.98L1469.97 460.74M1485.29 399.67L1476.5 397.74M1501.11 359.95L1493.77 354.74M1523.5 345.94L1521.81 337.11M1548.74 350.83L1551.74 342.34M1574.36 363.87L1578.85 356.08M1598.53 379.49L1603.69 372.12M1621.74 397.04L1627.36 390M1644.65 416.32L1650.57 409.54M1667.29 436.88L1673.42 430.29M1689.88 458.35L1696.12 451.87M1712.52 480.45L1718.84 474.05M1735.04 502.88L1741.4 496.52M1757.44 525.31L1763.82 518.97M1779.39 547.48L1785.79 541.16M1800.71 569.08L1807.11 562.76M1821.14 589.77L1827.54 583.44M1840.37 609.18L1846.77 602.86M1857.89 626.98L1864.3 620.66M1873.14 642.41L1879.54 636.08M1886.55 655.97L1892.94 649.63M1897.69 667.15L1904.08 660.82M1906.73 676.34L1913.15 670.03M1913.94 683.67L1920.34 677.34M1924.32 694.14L1930.73 687.83M1931.34 701.27L1937.72 694.93M1935.77 705.71L1942.18 699.4M1938.3 708.28L1944.71 701.97M1939.56 709.57L1945.98 703.25M1940.45 710.47L1946.86 704.15M1941.08 711.11L1947.5 704.79M1941.27 711.3L1947.69 704.99" stroke="#000" stroke-width="1.6" fill="none"/>
<text x="1521.7" y="329.8" font-family='"Liberation Serif", serif' font-size="21" text-anchor="middle" font-weight="normal" font-style="normal" fill="#0000FF">520</text>
<text x="1640.9" y="383.4" font-family='"Liberation Serif", serif' font-size="21" text-anchor="middle" font-weight="normal" font-style="normal" fill="#0000FF">540</text>
<text x="1732.6" y="467.5" font-family='"Liberation Serif", serif' font-size="21" text-anchor="middle" font-weight="normal" font-style="normal" fill="#0000FF">560</text>
<text x="1821" y="558.2" font-family='"Liberation Serif", serif' font-size="21" text-anchor="middle" font-weight="normal" font-style="normal" fill="#0000FF">580</text>
<text x="1894.4" y="632" font-family='"Liberation Serif", serif' font-size="21" text-anchor="middle" font-weight="normal" font-style="normal" fill="#0000FF">600</text>
<text x="1934.6" y="672.3" font-family='"Liberation Serif", serif' font-size="21" text-anchor="middle" font-weight="normal" font-style="normal" fill="#0000FF">620</text>
<text x="1967.2" y="717.5" font-family='"Liberation Serif", serif' font-size="21" text-anchor="middle" font-weight="normal" font-style="normal" fill="#0000FF">700</text>
<text x="1490" y="711.6" font-family='"Liberation Serif", serif' font-size="21" text-anchor="middle" font-weight="normal" font-style="normal" fill="#0000FF">490</text>
<text x="1507.5" y="808.2" font-family='"Liberation Serif", serif' font-size="21" text-anchor="middle" font-weight="normal" font-style="normal" fill="#0000FF">480</text>
<text x="1529.2" y="857.1" font-family='"Liberation Serif", serif' font-size="21" text-anchor="middle" font-weight="normal" font-style="normal" fill="#0000FF">470</text>
<text x="1542" y="880.3" font-family='"Liberation Serif", serif' font-size="21" text-anchor="middle" font-weight="normal" font-style="normal" fill="#0000FF">460</text>
<text x="1610.6" y="888" font-family='"Liberation Serif", serif' font-size="21" text-anchor="middle" font-weight="normal" font-style="normal" fill="#0000FF">380</text>
<rect x="1606" y="445.2" width="11.6" height="11.6" fill="#000" stroke="none" stroke-width="0"/>
<rect x="1876.9" y="651.5" width="11.6" height="11.6" fill="#000" stroke="none" stroke-width="0"/>
<rect x="1575.7" y="862.7" width="11.6" height="11.6" fill="#000" stroke="none" stroke-width="0"/>
<polygon points="1623.6,479.57 1614.6,495.23 1632.6,495.23" fill="#000" stroke="none" stroke-width="0"/>
<polygon points="1852.2,628.24 1844.2,642.16 1860.2,642.16" fill="#000" stroke="none" stroke-width="0"/>
<polygon points="1565.3,831.66 1556.7,846.62 1573.9,846.62" fill="#000" stroke="none" stroke-width="0"/>
<g fill="#fff" stroke="#000" stroke-width="1.4"><circle cx="1910.4" cy="694.2" r="3"/><circle cx="1910.2" cy="693" r="3"/><circle cx="1909.7" cy="691.4" r="3"/><circle cx="1909" cy="689.5" r="3"/><circle cx="1908.1" cy="687.2" r="3"/><circle cx="1906.9" cy="684.9" r="3"/><circle cx="1905.5" cy="682.5" r="3"/><circle cx="1903.9" cy="680.2" r="3"/><circle cx="1902" cy="677.9" r="3"/><circle cx="1900.2" cy="675.6" r="3"/><circle cx="1897.9" cy="672.8" r="3"/><circle cx="1895.1" cy="669.7" r="3"/><circle cx="1892" cy="666.5" r="3"/><circle cx="1888.5" cy="663" r="3"/><circle cx="1884.6" cy="658.8" r="3"/><circle cx="1880.4" cy="654.6" r="3"/><circle cx="1875.3" cy="650" r="3"/><circle cx="1869.9" cy="644.6" r="3"/><circle cx="1864.3" cy="639" r="3"/><circle cx="1858.8" cy="633.2" r="3"/><circle cx="1851.8" cy="626.5" r="3"/><circle cx="1844.8" cy="619.9" r="3"/><circle cx="1837.3" cy="612.7" r="3"/><circle cx="1829.9" cy="605.3" r="3"/><circle cx="1822.2" cy="597.1" r="3"/><circle cx="1814.1" cy="588.3" r="3"/><circle cx="1805.4" cy="579.9" r="3"/><circle cx="1796.8" cy="572" r="3"/><circle cx="1787.5" cy="562.4" r="3"/><circle cx="1778" cy="553.6" r="3"/><circle cx="1768.2" cy="545" r="3"/><circle cx="1758.2" cy="535.7" r="3"/><circle cx="1748.2" cy="526.6" r="3"/><circle cx="1737.9" cy="517.3" r="3"/><circle cx="1727.5" cy="508.7" r="3"/><circle cx="1716.9" cy="500.2" r="3"/><circle cx="1706.6" cy="491.7" r="3"/><circle cx="1695.6" cy="483.5" r="3"/><circle cx="1685.5" cy="476.1" r="3"/><circle cx="1674.6" cy="469.6" r="3"/><circle cx="1663.7" cy="463.7" r="3"/><circle cx="1653.7" cy="458.6" r="3"/><circle cx="1642.7" cy="454.7" r="3"/><circle cx="1632.7" cy="452.1" r="3"/><circle cx="1622.2" cy="450.9" r="3"/><circle cx="1612.2" cy="451.6" r="3"/><circle cx="1602.5" cy="455.4" r="3"/><circle cx="1593.2" cy="460.9" r="3"/><circle cx="1584.5" cy="468.9" r="3"/><circle cx="1576.2" cy="479.6" r="3"/><circle cx="1568.5" cy="493.3" r="3"/><circle cx="1562.4" cy="509.8" r="3"/><circle cx="1556.2" cy="528.9" r="3"/><circle cx="1551.5" cy="551" r="3"/><circle cx="1548" cy="574.5" r="3"/><circle cx="1545.7" cy="599.9" r="3"/><circle cx="1544.3" cy="625.7" r="3"/><circle cx="1543.8" cy="650.8" r="3"/><circle cx="1543.8" cy="676" r="3"/><circle cx="1544.9" cy="699.3" r="3"/><circle cx="1546.4" cy="721.9" r="3"/><circle cx="1548.5" cy="741.7" r="3"/><circle cx="1550.6" cy="759.6" r="3"/><circle cx="1552.4" cy="775.4" r="3"/><circle cx="1555.2" cy="789.1" r="3"/><circle cx="1557.4" cy="801.3" r="3"/><circle cx="1559.3" cy="811.2" r="3"/><circle cx="1560.9" cy="820" r="3"/><circle cx="1563" cy="827.7" r="3"/><circle cx="1565.2" cy="834.2" r="3"/><circle cx="1566.8" cy="839.8" r="3"/><circle cx="1568.3" cy="844.6" r="3"/><circle cx="1569.6" cy="848.6" r="3"/><circle cx="1570.53" cy="850.33" r="3"/><circle cx="1571.22" cy="851.61" r="3"/><circle cx="1571.84" cy="852.76" r="3"/><circle cx="1572.42" cy="853.84" r="3"/><circle cx="1572.97" cy="854.86" r="3"/><circle cx="1573.5" cy="855.85" r="3"/><circle cx="1574.01" cy="856.8" r="3"/><circle cx="1574.5" cy="857.72" r="3"/><circle cx="1574.99" cy="858.62" r="3"/><circle cx="1575.46" cy="859.51" r="3"/><circle cx="1575.93" cy="860.37" r="3"/><circle cx="1576.38" cy="861.22" r="3"/><circle cx="1576.83" cy="862.05" r="3"/><circle cx="1577.27" cy="862.88" r="3"/><circle cx="1577.71" cy="863.69" r="3"/><circle cx="1578.14" cy="864.48" r="3"/><circle cx="1578.56" cy="865.27" r="3"/><circle cx="1578.98" cy="866.05" r="3"/><circle cx="1579.4" cy="866.83" r="3"/><circle cx="1579.81" cy="867.59" r="3"/><circle cx="1580.21" cy="868.34" r="3"/><circle cx="1580.61" cy="869.09" r="3"/><circle cx="1581.01" cy="869.84" r="3"/><circle cx="1581.41" cy="870.57" r="3"/><circle cx="1581.8" cy="871.3" r="3"/><circle cx="1582.6" cy="870.8" r="3"/><circle cx="1583.05" cy="869.3" r="3"/><circle cx="1583.28" cy="867.8" r="3"/><circle cx="1583.47" cy="866.3" r="3"/><circle cx="1583.64" cy="864.8" r="3"/><circle cx="1583.78" cy="863.3" r="3"/><circle cx="1583.92" cy="861.8" r="3"/><circle cx="1584.05" cy="860.3" r="3"/><circle cx="1584.17" cy="858.8" r="3"/><circle cx="1584.28" cy="857.3" r="3"/><circle cx="1584.39" cy="855.8" r="3"/><circle cx="1584.5" cy="854.3" r="3"/></g>
<polyline points="1881.58,669.72 1667.76,496.2 1573.43,843.24" fill="none" stroke="#000" stroke-width="3.2" stroke-linejoin="miter"/>
<polygon points="1881.58,669.72 1611.16,425.51 1573.43,843.24" fill="none" stroke="#FF0000" stroke-width="3" stroke-linejoin="miter"/>
<polygon points="1924.34,694.14 1586.01,369.59 1561.48,852.24" fill="none" stroke="#FF00FF" stroke-width="2.8" stroke-linejoin="miter"/>
</g>
<rect x="1479.1" y="303.4" width="503.1" height="578.4" fill="none" stroke="#4a4a4a" stroke-width="1.6"/>
<path d="M1541.99 881.8v-6M1541.99 303.4v6M1604.88 881.8v-6M1604.88 303.4v6M1667.76 881.8v-6M1667.76 303.4v6M1730.65 881.8v-6M1730.65 303.4v6M1793.54 881.8v-6M1793.54 303.4v6M1856.42 881.8v-6M1856.42 303.4v6M1919.31 881.8v-6M1919.31 303.4v6M1479.1 817.53h6M1982.2 817.53h-6M1479.1 753.27h6M1982.2 753.27h-6M1479.1 689h6M1982.2 689h-6M1479.1 624.73h6M1982.2 624.73h-6M1479.1 560.47h6M1982.2 560.47h-6M1479.1 496.2h6M1982.2 496.2h-6M1479.1 431.93h6M1982.2 431.93h-6M1479.1 367.67h6M1982.2 367.67h-6" stroke="#444" stroke-width="1.4" fill="none"/>
<text transform="translate(1470.8,890.1) scale(1,1.12)" font-family='"Liberation Sans", sans-serif' font-size="20.6" text-anchor="end" font-weight="normal" font-style="normal" fill="#000">0.0</text>
<text transform="translate(1470.8,825.83) scale(1,1.12)" font-family='"Liberation Sans", sans-serif' font-size="20.6" text-anchor="end" font-weight="normal" font-style="normal" fill="#000">0.1</text>
<text transform="translate(1470.8,761.57) scale(1,1.12)" font-family='"Liberation Sans", sans-serif' font-size="20.6" text-anchor="end" font-weight="normal" font-style="normal" fill="#000">0.2</text>
<text transform="translate(1470.8,697.3) scale(1,1.12)" font-family='"Liberation Sans", sans-serif' font-size="20.6" text-anchor="end" font-weight="normal" font-style="normal" fill="#000">0.3</text>
<text transform="translate(1470.8,633.03) scale(1,1.12)" font-family='"Liberation Sans", sans-serif' font-size="20.6" text-anchor="end" font-weight="normal" font-style="normal" fill="#000">0.4</text>
<text transform="translate(1470.8,568.77) scale(1,1.12)" font-family='"Liberation Sans", sans-serif' font-size="20.6" text-anchor="end" font-weight="normal" font-style="normal" fill="#000">0.5</text>
<text transform="translate(1470.8,504.5) scale(1,1.12)" font-family='"Liberation Sans", sans-serif' font-size="20.6" text-anchor="end" font-weight="normal" font-style="normal" fill="#000">0.6</text>
<text transform="translate(1470.8,440.23) scale(1,1.12)" font-family='"Liberation Sans", sans-serif' font-size="20.6" text-anchor="end" font-weight="normal" font-style="normal" fill="#000">0.7</text>
<text transform="translate(1470.8,375.97) scale(1,1.12)" font-family='"Liberation Sans", sans-serif' font-size="20.6" text-anchor="end" font-weight="normal" font-style="normal" fill="#000">0.8</text>
<text transform="translate(1470.8,311.7) scale(1,1.12)" font-family='"Liberation Sans", sans-serif' font-size="20.6" text-anchor="end" font-weight="normal" font-style="normal" fill="#000">0.9</text>
<text transform="translate(1479.1,909.6) scale(1,1.12)" font-family='"Liberation Sans", sans-serif' font-size="20.6" text-anchor="middle" font-weight="normal" font-style="normal" fill="#000">0.0</text>
<text transform="translate(1541.99,909.6) scale(1,1.12)" font-family='"Liberation Sans", sans-serif' font-size="20.6" text-anchor="middle" font-weight="normal" font-style="normal" fill="#000">0.1</text>
<text transform="translate(1604.88,909.6) scale(1,1.12)" font-family='"Liberation Sans", sans-serif' font-size="20.6" text-anchor="middle" font-weight="normal" font-style="normal" fill="#000">0.2</text>
<text transform="translate(1667.76,909.6) scale(1,1.12)" font-family='"Liberation Sans", sans-serif' font-size="20.6" text-anchor="middle" font-weight="normal" font-style="normal" fill="#000">0.3</text>
<text transform="translate(1730.65,909.6) scale(1,1.12)" font-family='"Liberation Sans", sans-serif' font-size="20.6" text-anchor="middle" font-weight="normal" font-style="normal" fill="#000">0.4</text>
<text transform="translate(1793.54,909.6) scale(1,1.12)" font-family='"Liberation Sans", sans-serif' font-size="20.6" text-anchor="middle" font-weight="normal" font-style="normal" fill="#000">0.5</text>
<text transform="translate(1856.42,909.6) scale(1,1.12)" font-family='"Liberation Sans", sans-serif' font-size="20.6" text-anchor="middle" font-weight="normal" font-style="normal" fill="#000">0.6</text>
<text transform="translate(1919.31,909.6) scale(1,1.12)" font-family='"Liberation Sans", sans-serif' font-size="20.6" text-anchor="middle" font-weight="normal" font-style="normal" fill="#000">0.7</text>
<text transform="translate(1982.2,909.6) scale(1,1.12)" font-family='"Liberation Sans", sans-serif' font-size="20.6" text-anchor="middle" font-weight="normal" font-style="normal" fill="#000">0.8</text>
<text x="1730.3" y="934.4" font-family='"Liberation Sans", sans-serif' font-size="20.5" text-anchor="middle" font-weight="normal" font-style="normal" fill="#000">x</text>
<text transform="translate(1433.5,591) rotate(-90)" font-family='"Liberation Sans", sans-serif' font-size="20.5" text-anchor="middle">y</text>
<rect x="1748.8" y="303.3" width="233.4" height="160.8" fill="#fff" stroke="#111" stroke-width="1.8"/>
<rect x="1767.2" y="313" width="9" height="9" fill="#000" stroke="none" stroke-width="0"/>
<polygon points="1771.7,332.5 1765.2,344 1778.2,344" fill="#000" stroke="none" stroke-width="0"/>
<circle cx="1771.7" cy="373.4" r="3.8" fill="#fff" stroke="#000" stroke-width="1.3"/>
<text transform="translate(1794.2,323.9) scale(1,1.04)" font-family='"Liberation Sans", sans-serif' font-size="18.5" text-anchor="start" font-weight="normal" font-style="normal" fill="#000">Simulation</text>
<text transform="translate(1794.2,346.7) scale(1,1.04)" font-family='"Liberation Sans", sans-serif' font-size="18.5" text-anchor="start" font-weight="normal" font-style="normal" fill="#000">Measurement</text>
<text transform="translate(1794.2,369.5) scale(1,1.04)" font-family='"Liberation Sans", sans-serif' font-size="18.5" text-anchor="start" font-weight="normal" font-style="normal" fill="#000">Coordinates under</text>
<text transform="translate(1794.2,391.1) scale(1,1.04)" font-family='"Liberation Sans", sans-serif' font-size="18.5" text-anchor="start" font-weight="normal" font-style="normal" fill="#000">different cavity lengths</text>
<text transform="translate(1794.2,413.4) scale(1,1.04)" font-family='"Liberation Sans", sans-serif' font-size="18.5" text-anchor="start" font-weight="normal" font-style="normal" fill="#000">sRGB</text>
<text transform="translate(1794.2,436.1) scale(1,1.04)" font-family='"Liberation Sans", sans-serif' font-size="18.5" text-anchor="start" font-weight="normal" font-style="normal" fill="#000">Adobe RGB</text>
<text transform="translate(1794.2,459) scale(1,1.04)" font-family='"Liberation Sans", sans-serif' font-size="18.5" text-anchor="start" font-weight="normal" font-style="normal" fill="#000">Rec.2020</text>
<line x1="1753" y1="406.7" x2="1790.8" y2="406.7" stroke="#000" stroke-width="2.2"/>
<line x1="1753" y1="429.3" x2="1790.8" y2="429.3" stroke="#FF0000" stroke-width="2.2"/>
<line x1="1753" y1="451.6" x2="1790.8" y2="451.6" stroke="#FF00FF" stroke-width="2.2"/>
<text x="1429.4" y="241.8" font-family='"Liberation Sans", sans-serif' font-size="41" text-anchor="start" font-weight="bold" font-style="normal" fill="#000">(e)</text>
</g>
</svg></body></html>
